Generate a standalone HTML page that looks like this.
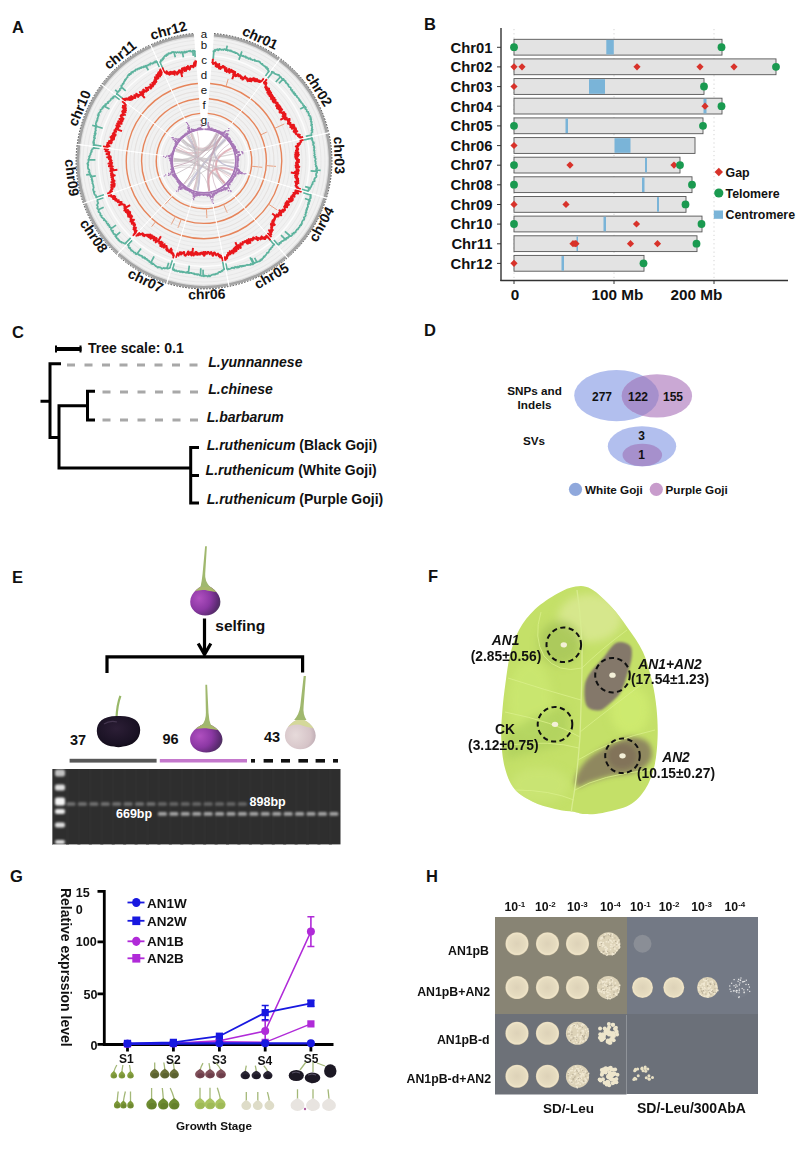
<!DOCTYPE html>
<html><head><meta charset="utf-8"><style>
html,body{margin:0;padding:0;background:#fff;}
svg{display:block;}
text{font-family:"Liberation Sans", sans-serif;fill:#111;}
.pl{font-size:16.5px;font-weight:bold;}
.b15{font-size:14.8px;font-weight:bold;}
.b14{font-size:14px;font-weight:bold;}
.b13{font-size:13px;font-weight:bold;}
.b12{font-size:12px;font-weight:bold;}
.b153{font-size:15.3px;font-weight:bold;}
.b124{font-size:12.4px;font-weight:bold;}
.b117{font-size:11.7px;font-weight:bold;}
.b138{font-size:13.8px;font-weight:bold;}
.bi138{font-size:13.8px;font-weight:bold;font-style:italic;}
.b155{font-size:15.5px;font-weight:bold;}
.b123{font-size:12.3px;font-weight:bold;}
.b135{font-size:13.5px;font-weight:bold;}
.r11{font-size:11.5px;}
.b145{font-size:14.5px;font-weight:bold;}
.b126{font-size:12.6px;font-weight:bold;}
.b135{font-size:13.5px;font-weight:bold;}
.bi14{font-size:14px;font-weight:bold;font-style:italic;}
.b125w{font-size:12.5px;font-weight:bold;fill:#fff;}
</style></head><body>
<svg width="800" height="1156" viewBox="0 0 800 1156">
<rect width="800" height="1156" fill="#fff"/>
<path d="M213.7 37.9A123.5 123.5 0 0 1 277.2 61.6L223.6 134.4A33 33 0 0 0 206.6 128.1Z" fill="#f1f1f1"/>
<path d="M278.1 62.2A123.5 123.5 0 0 1 324.3 133.2L236.2 153.6A33 33 0 0 0 223.8 134.6Z" fill="#f1f1f1"/>
<path d="M324.6 134.3A123.5 123.5 0 0 1 322.3 196.3L235.6 170.4A33 33 0 0 0 236.2 153.9Z" fill="#f1f1f1"/>
<path d="M322 197.3A123.5 123.5 0 0 1 285.1 254.2L225.7 185.9A33 33 0 0 0 235.5 170.7Z" fill="#f1f1f1"/>
<path d="M284.2 254.9A123.5 123.5 0 0 1 228.8 282L210.6 193.3A33 33 0 0 0 225.4 186.1Z" fill="#f1f1f1"/>
<path d="M227.7 282.2A123.5 123.5 0 0 1 168.6 279.3L194.5 192.6A33 33 0 0 0 210.3 193.4Z" fill="#f1f1f1"/>
<path d="M167.6 279A123.5 123.5 0 0 1 120.4 251.9L181.7 185.3A33 33 0 0 0 194.3 192.5Z" fill="#f1f1f1"/>
<path d="M119.6 251.2A123.5 123.5 0 0 1 87.7 202.5L172.9 172.1A33 33 0 0 0 181.5 185.1Z" fill="#f1f1f1"/>
<path d="M87.3 201.5A123.5 123.5 0 0 1 81.5 145.5L171.3 156.9A33 33 0 0 0 172.8 171.8Z" fill="#f1f1f1"/>
<path d="M81.6 144.4A123.5 123.5 0 0 1 104.7 87.5L177.5 141.4A33 33 0 0 0 171.3 156.6Z" fill="#f1f1f1"/>
<path d="M105.4 86.7A123.5 123.5 0 0 1 151.9 49L190.1 131.1A33 33 0 0 0 177.7 141.1Z" fill="#f1f1f1"/>
<path d="M152.9 48.6A123.5 123.5 0 0 1 194.2 37.9L201.4 128.1A33 33 0 0 0 190.3 131Z" fill="#f1f1f1"/>
<path d="M206.9 124.1A37 37 0 1 1 201.1 124.1M207.2 120.1A41 41 0 1 1 200.8 120.1M208 110.2A51 51 0 1 1 200 110.2M208.3 106.2A55 55 0 1 1 199.7 106.2M208.6 102.2A59 59 0 1 1 199.4 102.2M209.2 95.2A66 66 0 1 1 198.8 95.2M209.5 91.2A70 70 0 1 1 198.5 91.2M209.8 87.2A74 74 0 1 1 198.2 87.2M210.4 79.3A82 82 0 1 1 197.6 79.3M210.7 75.3A86 86 0 1 1 197.3 75.3M211.1 71.3A90 90 0 1 1 196.9 71.3M211.4 67.3A94 94 0 1 1 196.6 67.3M211.7 63.3A98 98 0 1 1 196.3 63.3M212 59.3A102 102 0 1 1 196 59.3M212.6 52.3A109 109 0 1 1 195.4 52.3M212.9 48.3A113 113 0 1 1 195.1 48.3M213.2 44.4A117 117 0 1 1 194.8 44.4M213.5 40.4A121 121 0 1 1 194.5 40.4" fill="none" stroke="#e0e0e0" stroke-width="0.6"/>
<path d="M207.5 116.6A44.5 44.5 0 1 1 200.5 116.6M212.3 55.8A105.5 105.5 0 1 1 195.7 55.8" fill="none" stroke="#fcfcfc" stroke-width="1.4"/>
<path d="M214 33.9A127.5 127.5 0 0 1 279.6 58.3L277.2 61.6A123.5 123.5 0 0 0 213.7 37.9Z" fill="#dcdcdc"/>
<path d="M214 34A127.4 127.4 0 0 1 279.5 58.4L278 60.5A124.8 124.8 0 0 0 213.8 36.6Z" fill="#a4a4a4"/>
<path d="M214 33.5A127.9 127.9 0 0 1 279.8 58" fill="none" stroke="#333" stroke-width="0.9" stroke-dasharray="1.6 1.4"/>
<path d="M280.5 59A127.5 127.5 0 0 1 328.2 132.3L324.3 133.2A123.5 123.5 0 0 0 278.1 62.2Z" fill="#dcdcdc"/>
<path d="M280.4 59.1A127.4 127.4 0 0 1 328.1 132.3L325.6 132.9A124.8 124.8 0 0 0 278.9 61.2Z" fill="#a4a4a4"/>
<path d="M280.7 58.7A127.9 127.9 0 0 1 328.6 132.2" fill="none" stroke="#333" stroke-width="0.9" stroke-dasharray="1.6 1.4"/>
<path d="M328.5 133.4A127.5 127.5 0 0 1 326.2 197.5L322.3 196.3A123.5 123.5 0 0 0 324.6 134.3Z" fill="#dcdcdc"/>
<path d="M328.4 133.4A127.4 127.4 0 0 1 326.1 197.4L323.6 196.7A124.8 124.8 0 0 0 325.8 134Z" fill="#a4a4a4"/>
<path d="M328.9 133.3A127.9 127.9 0 0 1 326.6 197.6" fill="none" stroke="#333" stroke-width="0.9" stroke-dasharray="1.6 1.4"/>
<path d="M325.9 198.5A127.5 127.5 0 0 1 287.7 257.2L285.1 254.2A123.5 123.5 0 0 0 322 197.3Z" fill="#dcdcdc"/>
<path d="M325.8 198.5A127.4 127.4 0 0 1 287.6 257.1L285.9 255.2A124.8 124.8 0 0 0 323.3 197.7Z" fill="#a4a4a4"/>
<path d="M326.2 198.6A127.9 127.9 0 0 1 287.9 257.5" fill="none" stroke="#333" stroke-width="0.9" stroke-dasharray="1.6 1.4"/>
<path d="M286.8 257.9A127.5 127.5 0 0 1 229.6 285.9L228.8 282A123.5 123.5 0 0 0 284.2 254.9Z" fill="#dcdcdc"/>
<path d="M286.8 257.8A127.4 127.4 0 0 1 229.5 285.8L229 283.3A124.8 124.8 0 0 0 285.1 255.9Z" fill="#a4a4a4"/>
<path d="M287.1 258.2A127.9 127.9 0 0 1 229.6 286.3" fill="none" stroke="#333" stroke-width="0.9" stroke-dasharray="1.6 1.4"/>
<path d="M228.5 286.1A127.5 127.5 0 0 1 167.4 283.1L168.6 279.3A123.5 123.5 0 0 0 227.7 282.2Z" fill="#dcdcdc"/>
<path d="M228.5 286A127.4 127.4 0 0 1 167.5 283.1L168.2 280.6A124.8 124.8 0 0 0 228 283.5Z" fill="#a4a4a4"/>
<path d="M228.6 286.5A127.9 127.9 0 0 1 167.3 283.5" fill="none" stroke="#333" stroke-width="0.9" stroke-dasharray="1.6 1.4"/>
<path d="M166.4 282.8A127.5 127.5 0 0 1 117.7 254.9L120.4 251.9A123.5 123.5 0 0 0 167.6 279Z" fill="#dcdcdc"/>
<path d="M166.4 282.7A127.4 127.4 0 0 1 117.8 254.8L119.5 252.9A124.8 124.8 0 0 0 167.2 280.2Z" fill="#a4a4a4"/>
<path d="M166.3 283.2A127.9 127.9 0 0 1 117.4 255.2" fill="none" stroke="#333" stroke-width="0.9" stroke-dasharray="1.6 1.4"/>
<path d="M116.9 254.1A127.5 127.5 0 0 1 83.9 203.8L87.7 202.5A123.5 123.5 0 0 0 119.6 251.2Z" fill="#dcdcdc"/>
<path d="M117 254A127.4 127.4 0 0 1 84 203.8L86.5 202.9A124.8 124.8 0 0 0 118.7 252.1Z" fill="#a4a4a4"/>
<path d="M116.6 254.4A127.9 127.9 0 0 1 83.5 204" fill="none" stroke="#333" stroke-width="0.9" stroke-dasharray="1.6 1.4"/>
<path d="M83.5 202.8A127.5 127.5 0 0 1 77.5 145L81.5 145.5A123.5 123.5 0 0 0 87.3 201.5Z" fill="#dcdcdc"/>
<path d="M83.6 202.8A127.4 127.4 0 0 1 77.6 145L80.2 145.3A124.8 124.8 0 0 0 86.1 201.9Z" fill="#a4a4a4"/>
<path d="M83.2 202.9A127.9 127.9 0 0 1 77.1 144.9" fill="none" stroke="#333" stroke-width="0.9" stroke-dasharray="1.6 1.4"/>
<path d="M77.7 143.9A127.5 127.5 0 0 1 101.5 85.1L104.7 87.5A123.5 123.5 0 0 0 81.6 144.4Z" fill="#dcdcdc"/>
<path d="M77.8 143.9A127.4 127.4 0 0 1 101.6 85.2L103.7 86.7A124.8 124.8 0 0 0 80.3 144.3Z" fill="#a4a4a4"/>
<path d="M77.3 143.8A127.9 127.9 0 0 1 101.2 84.9" fill="none" stroke="#333" stroke-width="0.9" stroke-dasharray="1.6 1.4"/>
<path d="M102.2 84.2A127.5 127.5 0 0 1 150.2 45.4L151.9 49A123.5 123.5 0 0 0 105.4 86.7Z" fill="#dcdcdc"/>
<path d="M102.3 84.3A127.4 127.4 0 0 1 150.3 45.5L151.4 47.8A124.8 124.8 0 0 0 104.3 85.9Z" fill="#a4a4a4"/>
<path d="M101.9 84A127.9 127.9 0 0 1 150 45" fill="none" stroke="#333" stroke-width="0.9" stroke-dasharray="1.6 1.4"/>
<path d="M151.2 44.9A127.5 127.5 0 0 1 193.9 33.9L194.2 37.9A123.5 123.5 0 0 0 152.9 48.6Z" fill="#dcdcdc"/>
<path d="M151.3 45A127.4 127.4 0 0 1 193.9 34L194.1 36.6A124.8 124.8 0 0 0 152.3 47.4Z" fill="#a4a4a4"/>
<path d="M151.1 44.6A127.9 127.9 0 0 1 193.9 33.5" fill="none" stroke="#333" stroke-width="0.9" stroke-dasharray="1.6 1.4"/>
<path d="M212.6 51.5L213.2 51.3L213.9 51L214.6 50L215.1 51.2L215.8 49.8L216.5 49.5L217.1 49.9L217.8 49.2L218.2 50.4L218.9 50L219.7 48.8L220.3 49.3L220.9 49.3L221.4 50L222.1 49.8L222.8 49.4L223.3 50L224.1 49.2L224.8 49L225.3 49.7L225.8 50.2L226.4 50.1L227.2 49.6L227.6 50.6L228.3 50.3L229 50.1L229.5 50.9L230.2 50.5L230.9 50.3L231.2 51.5L231.9 51.4L232.6 51.3L233 52L233.6 52.3L234.3 52L234.9 52.1L235.3 53.2L236 52.8L236.6 53.2L237.2 53.3L237.6 53.9L238.2 54.1L238.6 54.9L239.2 55.2L239.8 55.4L240.5 55.1L240.9 55.7L241.7 55.3L242.1 56L242.7 56.2L243.5 55.8L243.9 56.6L244.5 56.8L245.3 56.4L245.9 56.6L246 57.9L246.8 57.7L247.4 57.6L248 57.9L248.3 58.8L249 58.8L250 58.1L250.5 58.5L250.7 59.5L251.4 59.3L251.9 59.7L252.4 60.1L253.1 60L253.9 59.9L254.8 59.6L254.8 60.9L255.4 61L256.2 60.9L256.7 61.2L257.5 61L258 61.5L258.8 61.2L259.2 61.9L259.9 61.8L260.2 62.7L260.6 63.1L261.1 63.5L261.5 64.1L262.4 63.8L262.5 64.8L263 65.2L263.7 65.3L264 65.9L264.5 66.4L265.2 66.4L265.6 66.9L265.8 67.8L266.9 67.2L267.1 67.9L267.1 69.2L268.1 68.7L268 70L268.1 70.8L268.8 70.9L268.8 71.9L269.8 71.6M240.6 55.1L241.9 51.4M240.6 55.1L238.9 59.9M226.4 49.7L227.2 45.7M213.9 50.9L213.2 58.9M269 71.2L265.5 76M271.6 70.9L271.4 72.1L272.4 71.8L272.6 72.6L273.7 72.2L274 72.8L274.3 73.4L274.9 73.7L275.4 73.9L276 74.2L276.7 74.4L277.3 74.6L277.8 75L278.8 74.7L279.1 75.3L279.4 76L279.9 76.3L280.5 76.7L280.9 77.1L281.4 77.5L281.6 78.1L281.9 78.8L282.3 79.3L283.6 78.8L283.2 80.1L284.3 79.9L284.6 80.4L284.9 81.1L285.7 81.1L285.6 82.1L285.7 82.8L286.6 82.9L286.9 83.4L287.5 83.7L287.5 84.6L288.5 84.5L288.4 85.4L288.5 86.2L289 86.5L289.2 87.1L290 87.3L290.6 87.6L290.9 88.2L290.7 89.2L291 89.7L291.4 90.2L292.5 90L292.1 91.2L292.4 91.7L293 92L294 92.1L293.4 93.3L293.8 93.8L295.2 93.5L295.4 94.1L295 95.2L295.7 95.4L296.6 95.5L296.9 96.1L296.8 96.9L297.3 97.3L297.9 97.7L298.3 98.1L298.8 98.5L299 99.2L299 99.9L300 100L299.7 100.9L300.5 101.1L301 101.6L300.9 102.4L301.4 102.8L302.1 103.1L302.4 103.6L302.9 104.1L303 104.7L303.1 105.4L304.2 105.5L303.9 106.4L304.9 106.5L305.3 107L305.9 107.4L305.1 108.5L305.5 109.1L306.3 109.3L306.8 109.8L306.8 110.5L306.7 111.2L307.2 111.7L308.3 111.9L307.8 112.8L308.7 113.1L309 113.6L309 114.3L308.6 115.2L309.1 115.6L310 115.9L309.9 116.6L310.7 117L310.3 117.9L311.1 118.2L310.2 119.2L311.3 119.5L311.2 120.2L310.7 121.1L311.1 121.6L311.8 122L311.3 122.8L311.5 123.4L311.2 124.2L312.2 124.5L311.1 125.5L311.9 125.9L312.1 126.5L311.9 127.2L312.3 127.7L311.7 128.6L311.7 129.2L312.6 129.6L311.4 130.6L312.4 130.9L312.3 131.6L312.4 132.2L311.3 133.1L311.4 133.7L311.6 134.3L311.1 135L311.3 135.6L312.2 136M304.6 106.7L300.2 109.1M280.5 76.8L275.8 82M283.1 79.1L278.9 83.4M272.7 72L267.8 78.3M311.6 135L305.8 136.4M312.1 137L311.4 137.8L312.3 138.2L311.5 139L312.4 139.4L312 140.1L312.5 140.7L312.8 141.2L312.7 141.8L313.8 142.3L312.9 143L313.9 143.5L313.4 144.2L312.9 144.9L313.7 145.4L313.9 145.9L314.3 146.5L313.7 147.2L314.5 147.7L314.4 148.3L314 149L314.2 149.6L313.9 150.2L314.6 150.7L314.2 151.4L314.5 152L314.6 152.6L314.2 153.2L314.5 153.8L314.9 154.4L314.6 155L314.1 155.6L314.7 156.2L315.4 156.8L314.5 157.4L315.2 158L315.7 158.6L315.7 159.2L315.4 159.8L315.1 160.4L315 161L315.7 161.7L315.4 162.3L315.8 162.9L315.8 163.5L315.5 164.1L315.4 164.7L316.1 165.3L316.4 166L315.8 166.5L317 167.2L316.6 167.8L317.3 168.5L316.1 169L316.1 169.6L316.2 170.3L317.2 171L316.5 171.5L317.2 172.2L316.9 172.8L316.3 173.4L316 174L316.2 174.6L315.9 175.2L316.6 175.9L316.4 176.5L316.3 177.1L315.5 177.6L314.7 178.1L314.9 178.8L314.2 179.3L314.2 179.9L314.6 180.6L314.7 181.2L313.1 181.6L313 182.1L312.5 182.7L312.6 183.3L312.8 184L311.9 184.4L311.9 185L311.5 185.5L311.3 186.1L311.3 186.7L310.7 187.2L310.4 187.7L310.1 188.3L309.9 188.9L308.4 189.1L308.9 189.8L308.8 190.4L308.2 190.8L307.7 191.3L307.8 192M316.6 170L320.6 170.3M310 187.9L305.1 186.7M316.6 171.4L310.6 170.9M312 138.2L304.1 139.9M307.8 191.1L302 189.4M311.2 194L310.7 194.5L310.6 195.1L310.9 195.8L310.8 196.5L310 196.9L310.9 197.8L310.4 198.3L309.8 198.8L309.4 199.3L309.8 200.1L310 200.8L308.9 201.1L309.5 201.9L308.5 202.2L308.2 202.8L309.1 203.8L307.9 204L307.7 204.6L307.9 205.3L307.7 205.9L308.2 206.8L307.5 207.2L307.5 207.9L306.7 208.2L307.1 209.1L307.1 209.8L306.1 210L306.5 210.9L306.1 211.4L306.5 212.3L305.7 212.6L306 213.4L305.7 214L305.1 214.4L305.8 215.5L305.4 216L305.1 216.6L304.5 217L303.8 217.3L304.4 218.4L304 218.9L304.2 219.7L303.4 220L302.8 220.4L302.5 220.9L302.3 221.5L302 222.1L301.8 222.8L302 223.6L301.6 224.1L300.8 224.3L301.1 225.3L300 225.4L299.7 225.9L299.7 226.7L299.3 227.2L298.9 227.7L298.3 228.1L298.1 228.7L298 229.4L296.9 229.4L296.6 230L296.4 230.6L295.9 231L295.5 231.5L295.6 232.4L294.8 232.5L293.7 232.5L294 233.6L293 233.6L292.2 233.7L292.5 234.8L292 235.2L291.6 235.7L291.1 236.1L290.1 236.1L289.2 236.2L289.1 236.9L288.3 237L288.2 237.8L287.2 237.7L286.5 237.9L286.6 238.9L285.5 238.7L285.8 239.8L284.5 239.4L284.1 239.9L283.8 240.5L283.1 240.7L282.7 241.1L281.9 241.2L281.4 241.6L280.9 241.9L281 242.9L280 242.7L279.3 242.9L279.5 244L279.1 244.5L278.5 244.8L277.2 244.2L276.9 244.8M309.6 200.3L304.9 198.5M285.3 239.4L281 235.2M290.2 236L284.9 231.4M311 195.2L303.3 192.8M277.9 244.5L273.9 240M275.3 244.4L274.3 244.2L273.9 244.6L273.7 245.3L273.1 245.5L272.6 245.9L272.6 246.8L272.2 247.3L271.6 247.4L271.1 247.8L270.9 248.6L270.7 249.3L269.9 249.3L269.5 249.8L269.2 250.4L269 251.1L268.7 251.7L268.5 252.5L268 252.8L267.1 252.6L266.8 253.4L266.5 253.9L266.1 254.5L265.8 255.2L265.3 255.5L264.9 256.1L264.7 256.9L263.7 256.5L263.5 257.4L263.2 258L262.7 258.4L262.3 258.9L262 259.7L261.1 259.4L261 260.4L260.1 260.1L260 261.2L259.4 261.4L258.6 261.3L258.1 261.7L257.4 261.8L256.9 262.2L256.2 262.2L255.7 262.6L255.1 262.7L254.6 263.2L254 263.4L253.3 263.3L253.1 264.3L252.3 264.2L251.8 264.5L250.7 263.7L250.6 264.8L249.8 264.7L249.2 264.9L248.5 264.8L248 265.2L247.1 264.6L246.6 265L246 265.2L245.5 265.6L244.9 265.9L244.1 265.5L243.7 266.2L242.8 265.6L242.5 266.3L241.6 265.8L241.3 266.6L240.3 265.8L239.8 266L239.5 267L238.9 267.3L238 266.4L237.7 267.6L236.8 266.8L236.4 267.6L235.6 266.8L235.1 267.5L234.4 267.2L234.1 268.4L233.3 267.8L232.6 267.7L232.1 268.1L231.5 267.9L231 268.5L230.4 268.8L229.8 269L229.3 269.2L228.5 268.8L228.1 269.4L227.5 269.6L226.7 268.7L226.1 269M256.9 262.2L254.6 257.8M253.1 263.7L250.1 257.4M254 263.4L251.4 258M274.2 244.8L269 238.7M227 269.2L225.8 263.3M225 268.3L224.5 269.1L224 269.5L223.4 269.6L222.9 270.2L222.4 271L221.7 270.6L221.2 271.4L220.7 271.9L220.1 272.2L219.4 271.8L218.8 272.2L218.3 272.5L217.8 273.8L217.1 273.5L216.6 274L215.9 273.6L215.4 274.5L214.7 274.7L214.1 274.1L213.5 274.6L212.8 274.5L212.2 274.7L211.6 275.1L211 275.3L210.4 276.1L209.8 276.4L209.1 275.4L208.5 275.6L207.9 276.7L207.2 276L206.6 275.8L206 275.8L205.3 276L204.7 275.4L204.1 276.4L203.4 276.2L202.8 275.6L202.2 276L201.5 275.9L200.9 275.7L200.3 275.1L199.7 275.4L199.1 274.8L198.5 274.3L197.8 274.1L197.2 274.9L196.6 274.4L196 273.9L195.3 274.4L194.7 274.3L194.2 273.3L193.5 273.8L192.9 273.5L192.3 273.2L191.7 272.9L191.1 273.1L190.5 272.8L189.8 272.9L189.2 273.1L188.6 272.6L188 273L187.5 271.8L186.8 272.1L186.1 272.8L185.5 272.3L184.9 272.4L184.3 272L183.6 272.3L183.1 271.7L182.4 272.4L181.9 271.4L181.2 271.9L180.7 271.3L179.9 272L179.5 271.1L178.8 271.2L178.2 271.2L177.4 271.5L176.9 271.1L176.5 270.3L175.8 270.5L175 270.9L174.6 269.9L174.2 269.3L173.3 270.1L172.8 269.5L172.4 268.8L172 267.9M200.5 275.3L200.8 268.3M203.1 275.7L203.1 269.7M188.4 272.6L189.3 265.6M224.1 269.4L222.7 261.6M172.6 268.9L174.2 263.2M170.9 268.1L170.6 267.2L169.6 268.2L168.9 268.2L168.2 268.6L167.5 268.6L167 268.2L166.3 268.3L165.7 268L164.9 268.6L164.4 268.1L163.8 267.9L162.9 268.3L162.1 268.8L161.5 268.6L161.1 267.8L160.6 267.4L159.9 267.4L159.3 267.4L158.8 266.8L157.8 267.6L157.4 266.8L156.8 266.8L156.4 266.1L155.7 266.1L155.2 265.5L154.7 265.1L154.3 264.5L153.7 264.4L153.3 263.7L152.4 264.1L152.3 263L151.3 263.5L151.1 262.6L150.4 262.6L150 261.9L149.2 262L149.1 260.9L148.5 260.7L148.1 260.2L147.3 260.4L147.1 259.4L146.7 258.8L146 258.9L145.2 258.9L145.2 257.7L144.3 258.1L144.2 257.1L143.1 257.6L142.4 257.6L142.3 256.5L142 255.8L141.1 256L140.8 255.4L140 255.5L139.3 255.4L139.2 254.5L138.3 254.6L138.1 253.9L137.4 253.7L136.2 254.3L135.6 254L135.6 253L135.2 252.5L134.2 252.7L133.7 252.4L133.5 251.6L132.9 251.3L132.3 251.1L132.1 250.4L131.1 250.6L131 249.7L130.4 249.5L130.4 248.5L130.1 247.8L129.1 248.1L128.7 247.5L128.5 246.8L128.9 245.4L128.2 245.3L127.6 245L127.8 243.8M136.9 254.1L141 248.4M166.8 268.4L168.7 262.7M150.9 262.6L154.1 256.4M169.9 267.9L172.4 260.3M128 244.8L132 240.4M126.6 243.8L125.7 243.7L124.9 243.7L124.2 243.5L123.8 243.1L123.1 242.8L122.6 242.5L121.6 242.6L121.5 241.8L120.5 241.9L119.9 241.5L119.7 240.8L118.9 240.7L118.9 239.9L118.1 239.8L118 239L117.7 238.4L116.7 238.4L116.6 237.7L116.1 237.3L116.4 236.1L115.3 236.3L115.4 235.4L115.3 234.7L115 234.1L113.9 234.1L113.4 233.7L113.3 233L113 232.4L112.6 231.9L113.1 230.7L111.8 230.9L111.6 230.4L111.2 229.8L110.9 229.3L111.1 228.4L110.9 227.7L110.4 227.3L109.5 227.1L109.7 226.3L108.9 226L109.3 225L108 225.1L107.7 224.5L108.1 223.5L107 223.5L106.7 222.9L106.5 222.4L106.6 221.5L105.6 221.4L105.6 220.7L105.2 220.2L103.9 220.2L104.4 219.2L104 218.7L103.3 218.4L102.6 218L102.3 217.5L101.5 217.2L101.3 216.6L101.7 215.6L100.5 215.5L100.4 214.9L100.2 214.3L100.5 213.4L99.9 213L99.7 212.4L98.8 212.1L98.4 211.6L98.6 210.8L99 209.9L98.3 209.5L98 208.9L97.3 208.5L97.2 207.9L97.9 206.9L97.7 206.3L97.5 205.7L96.9 205.3L97.3 204.4L98.1 203.4L98.1 202.8L98 202.1L97.4 201.7L97.4 201L97.4 200.4L97.4 199.7L98.4 198.7M111.1 228.6L116 225.1M98.2 209.7L103.7 207.2M115.6 236L120.2 232.1M125.1 243.7L130.7 237.9M97.8 199.8L103.4 197.7M97.1 198.1L96.2 197.7L96.1 197.1L96 196.5L96 195.9L95.9 195.2L94.8 194.9L94.5 194.4L94.3 193.8L94.2 193.1L93.8 192.6L94.6 191.7L93.8 191.3L93.3 190.8L93.4 190.1L93 189.6L93.2 188.9L93.3 188.2L93.8 187.4L93.6 186.8L93.2 186.3L93.5 185.6L93.1 185L93.1 184.4L92.7 183.9L92.3 183.3L92.5 182.6L92.5 182L92.7 181.3L91.9 180.9L92.4 180.1L91.5 179.6L92 178.9L91.8 178.3L91.9 177.7L91.1 177.2L90.6 176.6L91.2 175.9L91.1 175.3L89.6 174.9L90.2 174.1L89.5 173.6L89.9 172.9L89.1 172.4L88.7 171.8L89.6 171L89.4 170.4L89.3 169.8L88.4 169.2L88.5 168.6L87.8 168L88.1 167.4L87.9 166.7L87.9 166.1L88.3 165.4L87.6 164.8L88.3 164.2L87.3 163.6L87.9 162.9L88.4 162.3L88.5 161.6L88.4 161L88.4 160.4L88.3 159.7L89 159.1L88.9 158.5L89.2 157.9L89.6 157.2L89 156.6L89.9 156L89.7 155.4L90.3 154.8L90.7 154.2L90.4 153.5L90.9 152.9L91.1 152.3L91.9 151.8L91.2 151.1L91.4 150.5L92.1 149.9L92.1 149.3L93 148.8L94 148.3L93.5 147.6L93.6 147M90.1 174.3L86.2 174.8M90.9 176.6L95.8 175.9M88.4 159.7L95.4 159.8M96.5 197.2L104 194.7M93.6 147.8L99.6 148.5M94 146.1L93.5 145.4L93.6 144.8L93.8 144.2L94.2 143.7L93.1 142.9L94.1 142.4L93.3 141.7L94 141.2L93.7 140.5L94.4 140L94.1 139.3L94.2 138.7L95 138.3L93.9 137.4L95 137L94.3 136.2L94.2 135.6L95.1 135.2L95.5 134.6L94.5 133.7L95.8 133.5L95 132.6L95.5 132.1L95.1 131.3L95.7 130.9L96 130.3L95.5 129.5L95.3 128.8L95.8 128.4L96 127.8L95.5 127L95.4 126.3L95.4 125.6L96.6 125.4L95.9 124.5L95.8 123.8L95.8 123.1L96.3 122.6L96.4 122L96.3 121.3L97.2 121L97 120.2L97.6 119.8L97.1 118.9L97.8 118.5L97.6 117.8L97.9 117.2L98.3 116.7L98.4 116.1L97.7 115.1L99.1 115L98.4 114L98.7 113.5L98.9 112.9L99.7 112.5L99.9 111.9L100.7 111.6L100.7 110.9L100.4 110.1L100.7 109.5L101.5 109.2L102.1 108.8L102.7 108.4L102.3 107.5L103.3 107.3L103.2 106.5L103.8 106.2L104.1 105.6L105.4 105.7L105.9 105.2L105.3 104.2L106.5 104.2L106.8 103.6L107.4 103.2L108.3 103.1L107.7 102L108.9 102L109 101.3L109.7 101L110.2 100.6L110.7 100.3L110.6 99.5L111 99L111.5 98.6L112.6 98.6L112.4 97.7L113.6 97.8L113.3 96.9L113.6 96.4L114.6 96.3L115.5 96.2L115.1 95.1M96 126.2L102.7 128.3M96 126.4L92.2 125.2M104.2 106.2L109.5 109M93.5 144.9L101.4 146.1M114.9 96.1L119.7 99.6M116.6 95.1L116.8 94.5L116.8 93.7L117.1 93.2L117.3 92.6L117.9 92.3L118 91.6L118.9 91.5L119 90.8L119.3 90.3L120 90.1L119.8 89.1L120.3 88.8L120.9 88.5L121.3 88L121.1 87L121.8 86.8L121.3 85.6L121.9 85.3L122.3 84.9L122.8 84.4L122.7 83.5L123.7 83.6L123.8 82.9L123.9 82.1L124.2 81.5L124.5 80.9L125.2 80.7L125 79.6L125.8 79.6L126.1 79L126.3 78.3L126.8 77.9L127.2 77.4L127.7 77.1L127.5 76L128 75.5L128.3 74.9L129.4 75.2L129.2 74.1L129.8 73.8L130.9 74.1L131.1 73.4L131.1 72.4L131.6 72L132.9 72.6L132.9 71.6L133.4 71.2L134 71L134.6 70.7L135.4 70.8L135.4 69.7L135.9 69.3L136.8 69.4L137.6 69.6L137.8 68.7L138.3 68.3L139.4 68.8L139.9 68.4L140.1 67.7L141.1 68.1L141.2 67.1L141.9 67.1L142.8 67.3L143.6 67.3L143.6 66.3L144.8 66.9L144.9 66L145.8 66.3L146.1 65.5L146.8 65.6L147.5 65.6L148.1 65.4L148.3 64.5L149.1 64.6L149.9 64.8L150.2 64.1L150.4 63.3L151 63.1L152.1 63.8L152.6 63.4L153.2 63.3L153.4 62.4L154.1 62.4L154.9 62.7L155 61.4L156.1 62.2L156.1 61L157.2 61.9L157.5 61M121.2 86.9L125.7 90.9M118.2 92.3L115.1 89.8M145.8 66L148.4 70.2M117.2 94.2L123.5 99.1M156.7 61.4L159.3 66.8M159.4 62.8L159.8 62.5L160.2 61.8L160.8 61.8L160.8 60.2L161.7 60.7L162.1 60.2L162.3 58.9L163.1 59.3L163.1 57.8L163.9 58.1L164 56.7L164.6 56.5L165 55.7L165.6 55.7L166.4 56L166.5 54.4L167.4 55.1L167.9 54.8L168.2 53.5L168.7 53.1L169.5 53.6L170 53.1L170.8 53.5L171.3 53L171.7 52.2L172.4 52.3L172.9 51.8L173.6 52L174.3 52.3L174.9 52.2L175.5 52L176.4 52.9L176.9 52.4L177.5 52.1L178.1 52.3L178.9 52.7L179.4 52.1L180 52.1L180.8 52.8L181.3 52.4L181.8 51.9L182.5 52.2L183.2 52.6L183.8 52.7L184.3 51.5L185.1 52.7L185.6 52.1L186.1 51.4L186.8 52L187.4 51.5L188 51.4L188.5 51L189.2 51.3L189.7 50.9L190.3 50.6L191.1 51.7L191.7 51.5L192.3 51.4L192.8 50.7L193.4 50.8L194 50.7L194.7 50.9L195.3 51.9M182.4 52.4L183.4 57.3M174 52.4L175.3 57.2M192.8 50.9L193.3 55.9M159.9 62.2L163.2 69.5M194.7 51.1L195.2 57.1" fill="none" stroke="#5db39e" stroke-width="1.7" stroke-linejoin="round"/>
<path d="M211.8 61.6L212.3 62.2L212.8 63.1L213.2 64L213.8 63.6L214.4 62.9L215 63.2L215.6 62.3L215.7 66.2L216.5 63.7L216.9 64.7L217.2 67L218 64.6L218.4 65.8L219.2 64L219 68.5L219.8 67L220.4 66.7L220.5 68.9L221.4 67.1L221.8 67.7L222.7 65.9L223.2 66L223.5 67.5L224 67.6L224.7 66.7L224.9 68.5L225 70.1L225.3 71.1L226.5 68.1L226.6 70.2L226.7 71.9L227.3 71.5L227.9 71.4L229.1 68.9L229.5 69.3L229.1 72.5L229.5 72.9L230.5 71.4L231.5 69.9L231.7 71.2L231.9 72.1L232.8 70.9L233.3 71.3L233.8 71.3L233.2 74.7L234.6 72.1L235.2 72L234.6 75.2L235.3 74.7L235.3 76.3L236.3 75L236.5 76L237.8 73.9L238.3 74.1L238.2 75.7L238.5 76.2L239.3 75.6L240.1 75.2L240 76.6L240.5 76.7L241.2 76.4L240.9 78.3L241.9 77.3L242.5 77.3L242.7 77.9L242.5 79.6L243.4 78.9L245.2 76.4L245.1 77.8L245.3 78.4L246.3 77.7L246.3 78.7L246.9 78.6L247.6 78.4L247.2 80.2L247.5 80.8L247.9 81.1L249.9 78.6L250.5 78.5L249.7 81.1L250.4 80.8L252.3 78.6L251.2 81.4L253.8 78.1L254 78.8L253.7 80.4L255.2 78.9L254.7 80.7L255 81.3L257 79L257.1 79.8L256.8 81.2L258.2 80.2L258.5 80.6L258.4 81.8L259.8 80.6L259.5 82.1L260.3 81.8L261.5 81.1L262.3 80.9L263.5 80.2M212.6 62.8L212.9 58.8M262 80.8L263.8 78.4M234.1 73.6L232.2 79.2M263.9 81.2L264.2 81.6L263.9 82.9L264.5 83L264.6 83.8L266.2 82.6L266.4 83.3L265.8 84.9L265.8 85.7L265.2 87.3L266.5 86.5L266.3 87.5L265.9 88.9L266.9 88.5L267.8 88.2L266.7 90.3L269 88.5L269 89.3L268.5 90.7L267.3 92.7L269.8 90.8L270 91.3L270 92.1L268.4 94.5L271.1 92.5L270.4 93.9L270.1 95L269.6 96.2L271.9 94.6L270.9 96.3L272.4 95.5L271 97.6L273 96.4L271.1 98.9L272.5 98.3L272.8 98.7L274.5 97.9L272.6 100.2L274.3 99.4L272.9 101.3L275.6 99.7L273.4 102.2L275.6 101L274.4 102.6L275.9 102L275.6 103L276.6 102.8L277.5 102.8L277.4 103.5L276.5 104.8L276.1 105.8L278.4 104.6L276.8 106.5L279.2 105.3L279.5 105.7L277 108.2L280.1 106.6L280.4 107L278.4 109L279.1 109.1L281.1 108.4L279.4 110.1L281.2 109.5L282.2 109.5L279.5 111.9L279.6 112.4L281 112.1L281.5 112.4L281.5 112.9L283.7 112.1L284.3 112.4L283.7 113.4L283 114.4L283.2 114.9L285.6 114L282.6 116.3L285.5 115.3L283.9 116.7L283.6 117.4L283.8 117.9L286 117.3L286.6 117.6L284.8 119.1L285.1 119.5L287 119.1L287.2 119.5L289.6 119L287.6 120.5L289.5 120.1L289.4 120.8L288 122L289.2 122L289.5 122.4L287.9 123.7L290.6 123.1L289.6 124.1L289.8 124.5L290 125L291.5 124.9L293.5 124.7L294 125.1L290.3 127.1L292.8 126.6L294.4 126.6L294.3 127.2L291.8 128.7L295.2 128L295.8 128.4L295.3 129.1L296 129.4L294.1 130.6L293.7 131.3L293.7 131.8L297.3 131.2L295.1 132.5L296.2 132.7L295.5 133.4L296 133.9L296.1 134.3L297.2 134.6L299 134.6L299.8 135L298 136L298.8 136.4L298.9 136.9L300.5 137L300.1 137.7L301.1 138L300.2 138.8M264.4 82.3L266.8 79.1M300.2 137.7L303.1 137M285.6 117L280.3 119.8M300.9 139.5L301.6 139.9L300.6 140.7L300.9 141.2L301.2 141.7L300.3 142.4L300.3 142.9L297.7 144L299.8 144.1L298.2 144.9L298.8 145.4L295.8 146.4L298.2 146.5L297.2 147.2L297.4 147.7L296.7 148.3L296.8 148.8L298.2 149.1L297.9 149.7L296 150.4L297.6 150.8L296.4 151.4L297.7 151.8L295.5 152.5L298.4 152.8L295.5 153.5L297.1 153.9L295.2 154.6L298.9 154.8L297.4 155.4L295.2 156.1L297.9 156.4L295.9 157L295.4 157.5L295.6 158L297.5 158.5L296.1 159L297.7 159.5L299.1 160L296.9 160.5L297.9 161L298.4 161.6L299 162.1L296.1 162.5L296.2 163.1L296.1 163.6L297.9 164.1L296.7 164.6L298 165.1L295.6 165.5L295.7 166L299.3 166.8L298.8 167.3L295.8 167.6L296.4 168.1L297.2 168.7L298.3 169.3L296.6 169.7L298.7 170.4L298.4 170.9L298.4 171.4L295.4 171.6L294.9 172L296.5 172.7L298.3 173.5L297.3 173.9L295.4 174.1L297.6 174.9L296.2 175.3L295 175.6L296.9 176.4L297.3 177L295.3 177.2L295.6 177.7L298.1 178.7L296.3 178.9L298 179.8L296.8 180.1L298.3 180.9L298.2 181.4L296.4 181.5L295.2 181.8L298.4 183.1L295.8 183L297.2 183.9L296 184.1L296.7 184.8L296.5 185.3L295.6 185.6L296.2 186.3L297.8 187.3L298 187.9L296.5 188L296 188.5M299.7 140.6L303.6 139.7M297.9 188.2L300.7 189.1M296.7 173.4L290.8 172.6M299.5 190.4L298.7 190.7L295.5 190.3L296.5 191.2L295.3 191.3L297.6 192.7L298.1 193.4L295.3 193L293.4 192.9L294.3 193.8L294.8 194.5L294.5 195L292.7 194.9L294 195.9L294.5 196.7L291.9 196.2L291.3 196.5L291.4 197.1L290.9 197.5L292.8 198.9L291.5 198.9L292.7 200L288.8 198.8L291.7 200.7L291.7 201.3L289.8 201L290 201.7L288.1 201.3L286.8 201.3L288.6 202.7L286.3 202.2L287.6 203.4L288.9 204.7L285.4 203.4L286.2 204.4L287.5 205.7L285.2 205L284.8 205.4L287.1 207.3L285.2 206.8L284.1 206.8L284.7 207.7L284.8 208.4L285 209.1L284.6 209.4L284.9 210.2L282.9 209.6L283.9 210.8L282 210.2L283.5 211.8L282.1 211.5L279.5 210.4L279.7 211.1L280 212L281.2 213.3L280.1 213.2L278.9 213L281.2 215.2L279.5 214.7L278.6 214.6L277.8 214.7L276.6 214.4L278.4 216.4L277.9 216.6L276.4 216.2L275.9 216.4L275.5 216.8L274.8 216.8L274.8 217.5L275.1 218.4L274.5 218.5L274.8 219.4L273.8 219.3L274.3 220.3L273.4 220.2L272.7 220.2L273.7 221.8L272.3 221.2L272.2 221.8L274.8 224.8L274.2 225L273.7 225.3L271.1 223.6L271.4 224.5L270.9 224.7L272.3 226.8L272.1 227.3L271.1 227.1L271.4 228.1L272.7 230.1L271.1 229.3L271.8 230.8L271.9 231.7L271.5 232L269.1 230.2L269.9 231.9L271.3 234.2L271 234.7L270.5 235L269.6 234.8L267.9 233.7L269.9 236.7M297.8 190.7L301.6 191.9M269.5 235L271.4 237.2M277 217.2L272.2 213.5M269.3 237.4L269.4 238.3L266.3 235.5L267.2 237.5L265.8 236.7L265.5 237.1L265.6 238.1L264.2 237.2L265.1 239.1L264.3 239.1L261.6 236.4L262.6 238.6L262 238.7L260.6 237.7L260.1 238L260.5 239.4L259.1 238.3L258.2 237.9L258.1 238.6L256.3 236.9L257.9 240.2L256.4 238.9L255.7 238.8L254.7 238.3L253.6 237.5L253.1 237.7L253.3 238.8L253.3 239.8L252.3 239.1L251.6 239L252 240.6L250.5 239.1L250.6 240.3L250.3 240.8L248.8 239.1L250.3 242.8L249.4 242.2L249.2 242.9L247.1 240.1L246.8 240.6L247.8 243.7L247.1 243.4L245.4 241.1L244.9 241.2L244.4 241.4L244.3 242.3L243.8 242.5L243.3 242.5L242.6 242.1L242.7 243.6L242.6 244.6L241.8 244.1L241.2 243.8L240.4 243.3L240.7 245.3L240.4 245.8L240.7 248L239.1 245.3L238.4 245.1L238.6 246.7L238.6 248.3L238.4 249.1L236.7 246.1L236.9 248.2L235.8 246.7L236.6 250.4L236.4 251.1L234.6 247.7L235.4 251.6L234.8 251.4L233.5 249.1L233.3 250.1L233.6 252.9L233.2 253.4L231.8 250.6L231.5 251.3L231.2 252.1L231 253.3L229.8 251.2L230.2 254.3L229.5 253.8L229 254.2L228.1 252.9L228.3 255.6L227.7 255.5L227 255L227.2 258.1L226.8 258.5L225.9 257.2L225.8 259.4L224.8 257.2L224.7 259.5L224.1 259.4M267.9 237L270.5 240M224.6 257.9L225.2 260.9M237.6 247.7L235.4 242.1M223.2 259.2L222.7 259.4L221.8 257.8L220.9 255.6L220.3 255.3L220.1 257.5L219.1 254.7L218.8 256.2L217.9 253.6L217.5 254.5L217 254.2L216.5 254.4L216.1 255.4L215.4 253.9L214.7 252.4L214.2 252.5L213.7 253L213.4 255.2L212.9 255.7L212.4 255.2L211.6 252.6L211.1 252L210.6 252.8L210.2 253.2L209.7 254.2L209.1 252.7L208.6 252.1L208.1 252L207.6 251.9L207.1 253.7L206.6 253.3L206.1 253.7L205.6 252L205.1 252.1L204.6 255.4L204.1 255.8L203.6 252L203 254.5L202.5 252.7L202 253.8L201.5 252.6L201 253.6L200.5 252.8L199.9 254.6L199.5 253.4L199 253.3L198.4 254.4L197.9 254.7L197.5 253L196.8 254.7L196.5 251.9L195.8 254.5L195.5 251.9L194.9 253.4L194.3 254.4L193.6 255.5L193.3 253.4L192.9 252.9L192.5 252.1L191.5 255.5L191.1 255L191 252L190.1 254.4L189.7 253.5L189.4 252.4L188.4 254.9L188.5 251.6L188 251.6L187 254L186.4 254.5L185.6 255.7L185.2 255L184.6 255.3L184.3 254.4L184.2 252.2L183.7 251.9L183.1 252.4L182.2 253.8L181.7 253.8L181 254.6L181 252.2L180.3 252.9L180 252.2L178.5 255.6L178.3 254.2L178 253.5L177 254.9L176.9 253.3L176.4 253.2M222.1 257.3L222.9 261.3M176.6 254.9L175.8 257.8M192.3 253.8L193 247.9M174.3 257.3L174.3 255.4L173.7 255.5L173.1 255.6L173.2 253.4L172.7 253.3L172.4 252.5L171.5 253.5L171.5 251.8L171.7 249.7L170.3 252.2L171.1 248.6L169.1 252.1L169.1 250.7L168.5 250.7L167.9 250.9L167.9 249.6L166.9 250.5L167.3 248.2L166.2 249.5L166.6 247.4L166.6 245.9L165.8 246.5L165.4 246.2L164.1 247.7L163.6 247.6L164.6 244.2L163.6 245.1L162.9 245.4L161.7 246.7L161.6 245.7L162.6 242.7L160.3 245.9L160.8 243.9L161.4 241.7L160.6 242L159.3 243.4L159.3 242.5L159.3 241.4L158.8 241.3L158.6 240.5L157.4 241.5L157.3 240.8L155.7 242.4L156.2 240.6L156.8 238.7L156.5 238.2L156 238L153.9 240.5L153.7 239.9L154 238.5L154.4 236.9L153 238.1L153.5 236.4L152 237.8L150.7 238.8L150.8 237.7L151.9 235.3L149.6 237.6L150.7 235.3L148.7 237.1L150 234.5L147.9 236.5L148.3 235.1L148 234.6L146.6 235.6L146.6 234.7L145.9 234.9L144.1 236.2L144.6 234.8L143.4 235.5L142.8 235.4L143.2 234L142.9 233.7L142.5 233.3L140.9 234.3L139.9 234.7L139.9 233.8L137.9 235.4L139.2 233.1L136.2 235.6L136.7 234.2M174.4 254.6L173.2 258.4M137.8 234L135.8 236.2M157.9 241.4L160.9 236.2M136.9 232.7L134.2 234.8L134.2 234L136.6 230.7L134.8 231.8L135.8 230L134.6 230.5L135.6 228.7L135.9 227.7L133.5 229.2L134.7 227.4L133.7 227.6L134.5 226.1L135.1 224.9L134.3 224.9L133.4 225L134.5 223.4L133.6 223.5L133.6 222.8L131.8 223.7L132.1 222.7L131.8 222.3L133.9 219.8L132.6 220.2L130.4 221.4L131.7 219.7L131.5 219.2L130.6 219.3L131.6 217.8L130.6 217.9L132.1 216.2L129.9 217.2L130.8 215.9L131 215.2L128.2 216.6L128.9 215.4L128.1 215.4L130.1 213.3L127.9 214.3L130.2 212.1L129.4 212L129.4 211.4L126.8 212.6L128 211.1L125.9 212L127.9 210L126.3 210.5L125.1 210.6L124.3 210.5L125.1 209.4L125.8 208.4L126.6 207.4L124.4 208.1L125.9 206.6L124.4 206.9L124.8 206.1L124.3 205.8L124.8 205L124 204.8L123.6 204.5L122.7 204.4L122.4 204L119.2 205.1L120.8 203.7L120.8 203.1L121.6 202.1L121 201.9L119.8 201.9L117.9 202.2L117.9 201.7L117.2 201.4L118.7 200.2L116.9 200.4L115.3 200.5L116.3 199.5L116.4 198.9L114.8 199L113.2 199.1L113.1 198.6L115.3 197.1L115.2 196.6L112.3 197.2L114 195.9L111 196.5L110.9 196L109.9 195.8L110.9 194.8L108.5 195.1M135.6 233L132.9 235.9M110.8 195L108 196M124.9 208.2L130.1 205.1M109.7 193.7L109.5 193.2L109.3 192.7L112 191.2L110.2 191.3L110.9 190.5L111.1 189.8L112.6 188.8L111.5 188.6L111.8 188L114.2 186.7L111.2 187.1L114.6 185.6L113.7 185.3L114.6 184.5L111.2 184.9L114.6 183.5L114.2 183.1L113.6 182.7L111.6 182.6L111.4 182.1L114.6 180.9L112.4 180.9L113.3 180.2L113.5 179.6L111.9 179.4L113.1 178.6L113.1 178.1L112.8 177.7L111.4 177.4L111.6 176.8L113.5 176L114.7 175.3L111.1 175.4L111.8 174.7L112.8 174.1L110.9 173.8L111.3 173.3L112.2 172.6L111.5 172.2L111.9 171.6L110.4 171.3L113.1 170.5L110.5 170.2L111.8 169.6L113 169L111.2 168.6L110.5 168.2L111.6 167.6L111.3 167.1L112.8 166.5L108.9 166.2L109.3 165.7L111.6 165.1L111.6 164.5L111.7 164L108.5 163.6L112.2 163L111.6 162.5L110.5 162L109.9 161.5L110.5 161L111.6 160.5L111.2 160L109.2 159.4L108.9 158.9L109.6 158.4L111 157.9L107.2 157.3L109.9 156.9L110.6 156.4L109.1 155.8L108.9 155.3L109 154.8L106.5 154.1L109.1 153.7L109.1 153.2L109.2 152.7L109.4 152.2L105.6 151.3L105.9 150.8L106.2 150.3L107.7 149.9L108.2 149.4L107.8 148.8M111 192.6L107.2 193.8M106.8 149.4L103.8 149M111.5 170.4L117.4 169.8M107.9 148L104.7 147L107.8 146.9L108.3 146.4L109.6 146.1L107 145.2L107.2 144.7L108.4 144.3L107.8 143.7L107.4 143L111.4 143.3L110.7 142.6L111.7 142.3L108.9 141.2L110.1 140.9L112 140.8L111.1 140L112.6 139.8L113.6 139.6L114 139.1L111 137.9L110.6 137.2L114.2 137.6L113.4 136.9L111.7 135.9L113.1 135.7L115.1 135.8L115.5 135.3L112.7 134L115.6 134.3L113.3 133.1L113.8 132.7L114.4 132.4L114.4 131.8L116.1 131.8L115.8 131.2L114.5 130.2L115.3 129.9L115.9 129.6L116.4 129.3L115.8 128.5L117.4 128.5L118.2 128.3L116.7 127.2L118.4 127.3L116.8 126.1L116.4 125.4L119.9 126.3L118.2 125.1L118.4 124.6L117.2 123.5L118.2 123.4L120.2 123.7L121.7 123.8L118.2 121.7L118.3 121.2L121.6 122.2L121.2 121.4L121.4 121L122.5 120.9L119.5 118.9L120.9 119L123.1 119.6L122.3 118.6L123.5 118.7L120.8 116.6L120.7 116L120.8 115.5L121.2 115.1L122.8 115.4L123.4 115.2L122.6 114.1L125 114.9L122.8 113.1L123.3 112.7L122.2 111.5L122.5 111L125.5 112.3L125.4 111.6L125.3 111L123.5 109.2L126 110.2L122.7 107.4L122.9 106.9L125.9 108.3L123 105.7L125.4 106.7L125.5 106.2L125.3 105.4L125.8 105L124.4 103.4L123.2 101.9L125.7 103.1M107 147.1L103 146.6M124.5 103.1L122.1 101.3M116.4 129.1L122 131.1M124.6 101.2L123.9 99.9L125.2 100.2L125.1 99.5L125 98.7L127.1 99.6L126.5 98.5L129.1 99.8L130.1 100L128.6 98.1L131.3 99.6L129.3 97.2L132.5 99.3L132.4 98.5L132.9 98.3L131.2 96.1L133.6 97.5L135 98.1L135.4 97.7L134.6 96.2L134.3 95.3L135.1 95.3L135.9 95.3L138.2 96.9L137.8 95.8L136.4 93.7L139.2 95.8L139.1 95L140.1 95.2L140.2 94.6L141.1 94.8L141 94L139.9 92.1L142.3 93.9L143.3 94.3L142.8 93L142.2 91.5L143.2 91.9L144.1 92.2L143.7 90.9L143.3 89.6L145.2 91.1L146.2 91.5L146.5 91.2L146.3 90L147.3 90.5L145.8 87.8L148.2 90L147.2 88L147.8 87.9L148.2 87.6L148.6 87.3L149 87L150.8 88.6L150.4 87.2L151.4 87.7L150.6 85.8L150.4 84.6L152.1 86.1L152.9 86.4L152.7 85.2L153.4 85.4L152.3 82.8L153.1 83L153.6 82.9L154.9 83.9L154 81.6L155.3 82.7L154.4 80.3L156.1 82.1L156.4 81.6L155.1 78.3L155 77.2L156.6 78.9L156.4 77.5L157.7 78.7L156.4 75.3L158.4 77.9L157.3 74.7L158.3 75.5L157.9 73.5L160 76.4L158.5 72.4L159 72.1L161.1 75L161.4 74.5L160 70.4L161.4 71.9L162.2 72.4L162.7 72.3M125.2 100.6L122 98.2M161.4 71.3L160.2 68.6M140.7 93.6L144.8 98M163.6 72.2L163.8 71.2L165 72.6L165.5 72.5L166.5 73.5L167.2 73.8L166.7 71.3L168.2 73.4L169.3 74.7L169.6 74.1L169.4 72.3L170.8 74.3L170.4 71.9L170.9 71.8L171.8 72.7L172.8 74L172.8 72.5L173.1 71.7L174.7 74.8L174.2 71.7L174.6 71.2L175.5 72.1L176 72.2L177.2 74.4L177.4 73.4L177.6 72.1L178.5 73.2L178.6 72L178.8 70.6L179.7 71.9L179.7 70.2L180.8 72.3L181.5 72.8L181.3 70.2L182.5 72.7L182 68.6L182.5 68.2L183 68.2L183.7 69.1L184.7 71L184.4 67.5L185.2 68.7L186.2 70.8L186.3 68.9L186.5 67L187.2 68L187.9 68.9L187.9 65.9L188.8 67.8L189.6 69.6L190 68.9L190.3 67.2L190.6 66L191.3 66.8L191.7 65.9L192.2 65.8L192.8 66.6L193.4 67.3L193.8 65.4L194.1 63.2L194.5 62.2L195.4 65.9L195.7 63.6L196.1 60.8M163.7 71.2L162.1 67.5M195.7 63.3L195.5 60.3M180.7 71.2L182.2 77" fill="none" stroke="#e8161b" stroke-width="2.0" stroke-linejoin="round"/>
<path d="M210.1 83.5A77.75 77.75 0 0 1 250.1 98.4M250.6 98.8A77.75 77.75 0 0 1 279.8 143.5M279.9 144.2A77.75 77.75 0 0 1 278.5 183.2M278.3 183.9A77.75 77.75 0 0 1 255 219.7M254.5 220.1A77.75 77.75 0 0 1 219.6 237.2M218.9 237.3A77.75 77.75 0 0 1 181.7 235.5M181.1 235.3A77.75 77.75 0 0 1 151.4 218.2M150.9 217.8A77.75 77.75 0 0 1 130.8 187.1M130.5 186.5A77.75 77.75 0 0 1 126.9 151.2M127 150.6A77.75 77.75 0 0 1 141.5 114.7M141.9 114.2A77.75 77.75 0 0 1 171.2 90.5M171.8 90.2A77.75 77.75 0 0 1 197.9 83.5" fill="none" stroke="#e6845a" stroke-width="1.4"/>
<path d="M208.9 98.8A62.4 62.4 0 0 1 241 110.8M241.4 111.1A62.4 62.4 0 0 1 264.8 147M264.9 147.5A62.4 62.4 0 0 1 263.8 178.8M263.6 179.4A62.4 62.4 0 0 1 245 208.1M244.5 208.4A62.4 62.4 0 0 1 216.5 222.1M216 222.2A62.4 62.4 0 0 1 186.1 220.8M185.6 220.6A62.4 62.4 0 0 1 161.8 206.9M161.4 206.6A62.4 62.4 0 0 1 145.2 182M145 181.5A62.4 62.4 0 0 1 142.1 153.2M142.2 152.6A62.4 62.4 0 0 1 153.8 123.9M154.2 123.4A62.4 62.4 0 0 1 177.7 104.4M178.2 104.2A62.4 62.4 0 0 1 199.1 98.8" fill="none" stroke="#e6845a" stroke-width="1.4"/>
<path d="M207.7 113.4A47.75 47.75 0 0 1 232.3 122.5M232.6 122.8A47.75 47.75 0 0 1 250.5 150.3M250.6 150.7A47.75 47.75 0 0 1 249.8 174.7M249.6 175A47.75 47.75 0 0 1 235.3 197M235 197.3A47.75 47.75 0 0 1 213.6 207.8M213.2 207.9A47.75 47.75 0 0 1 190.3 206.7M189.9 206.6A47.75 47.75 0 0 1 171.7 196.2M171.4 195.9A47.75 47.75 0 0 1 159 177M158.9 176.7A47.75 47.75 0 0 1 156.6 155M156.7 154.6A47.75 47.75 0 0 1 165.6 132.6M165.9 132.3A47.75 47.75 0 0 1 183.9 117.7M184.2 117.5A47.75 47.75 0 0 1 200.2 113.4" fill="none" stroke="#e6845a" stroke-width="1.4"/>
<path d="M155.5 221.8L151.6 226.7M226 86.4L228.2 79M274.6 128.4L284.4 123.9M268.6 204.2L277.1 209.9M181.3 219.1L177.9 227.9M266.2 165.6L275.9 166.4M260.7 134.9L266.8 132M175.4 216.5L171.2 224.5M223.6 204.6L227.2 212.7M251.5 166.2L262.2 167.3M206.4 208.7L206.9 218.1M172.1 196.5L165.1 204.3" fill="none" stroke="#e8a080" stroke-width="1"/>
<path d="M209.5 91.2A70 70 0 0 1 245.5 104.6M246 105A70 70 0 0 1 272.2 145.3M272.3 145.9A70 70 0 0 1 271.1 181M270.9 181.6A70 70 0 0 1 249.9 213.8M249.5 214.2A70 70 0 0 1 218 229.6M217.4 229.7A70 70 0 0 1 183.9 228.1M183.3 227.9A70 70 0 0 1 156.6 212.5M156.2 212.1A70 70 0 0 1 138.1 184.5M137.9 183.9A70 70 0 0 1 134.6 152.2M134.6 151.6A70 70 0 0 1 147.7 119.3M148.1 118.9A70 70 0 0 1 174.5 97.5M175 97.3A70 70 0 0 1 198.5 91.2M208.3 106.2A55 55 0 0 1 236.6 116.7M237 117A55 55 0 0 1 257.6 148.6M257.7 149.1A55 55 0 0 1 256.7 176.7M256.6 177.2A55 55 0 0 1 240.1 202.5M239.7 202.8A55 55 0 0 1 215 214.9M214.6 215A55 55 0 0 1 188.2 213.7M187.8 213.6A55 55 0 0 1 166.8 201.5M166.4 201.2A55 55 0 0 1 152.2 179.5M152 179A55 55 0 0 1 149.4 154.1M149.5 153.6A55 55 0 0 1 159.8 128.3M160.1 127.9A55 55 0 0 1 180.8 111.1M181.2 110.9A55 55 0 0 1 199.7 106.2" fill="none" stroke="#e2dcd8" stroke-width="0.6"/>
<path d="M223.7 134.5L280.9 57.5M236.2 153.7L329.8 132.5M235.6 170.6L327.5 198.4M225.6 186L288.2 258.7M210.5 193.4L229.3 287.5M194.4 192.6L166.5 284.4M181.6 185.2L116.3 255.6M172.9 172L82.3 203.8M171.3 156.7L76.1 144.2M177.6 141.2L100.7 83.8M190.2 131L150.1 43.8" stroke="#fff" stroke-width="0.9"/>
<path d="M218.2 131.1h1.2v1.2h-1.2zM224.1 130.9h1.2v1.2h-1.2zM212.3 129h1.2v1.2h-1.2zM219 131.4h1.2v1.2h-1.2zM217.7 131.3h1.2v1.2h-1.2zM208.9 126.5h1.2v1.2h-1.2zM218.2 130.8h1.2v1.2h-1.2zM213.9 129.1h1.2v1.2h-1.2zM216.6 130.8h1.2v1.2h-1.2zM217.7 131.4h1.2v1.2h-1.2zM207.1 128.3h1.2v1.2h-1.2zM211.6 129.1h1.2v1.2h-1.2zM213.6 129.9h1.2v1.2h-1.2zM217.7 131.3h1.2v1.2h-1.2zM207.9 125.7h1.2v1.2h-1.2zM209.4 128h1.2v1.2h-1.2zM215.7 129.9h1.2v1.2h-1.2zM218.6 131.6h1.2v1.2h-1.2zM218.2 131.6h1.2v1.2h-1.2zM219.3 132h1.2v1.2h-1.2zM221.9 133h1.2v1.2h-1.2zM219.1 131.7h1.2v1.2h-1.2zM224.3 132h1.2v1.2h-1.2zM218 131.1h1.2v1.2h-1.2zM225.3 130h1.2v1.2h-1.2zM209.5 128.6h1.2v1.2h-1.2zM213.6 129.5h1.2v1.2h-1.2zM220.2 132h1.2v1.2h-1.2zM218.2 130.7h1.2v1.2h-1.2zM214.4 129.8h1.2v1.2h-1.2zM219.6 132.3h1.2v1.2h-1.2zM215.3 130.3h1.2v1.2h-1.2zM219.1 131.6h1.2v1.2h-1.2zM215.4 130.3h1.2v1.2h-1.2zM217.4 131.3h1.2v1.2h-1.2zM214.4 129.5h1.2v1.2h-1.2zM207.5 123.3h1.2v1.2h-1.2zM208.4 128.7h1.2v1.2h-1.2zM207.4 124.3h1.2v1.2h-1.2zM212 129.4h1.2v1.2h-1.2zM208.8 127h1.2v1.2h-1.2zM208 126.5h1.2v1.2h-1.2zM207.8 125.7h1.2v1.2h-1.2zM211.9 128.8h1.2v1.2h-1.2zM214.3 129.9h1.2v1.2h-1.2zM225.3 130.6h1.2v1.2h-1.2zM221.3 133h1.2v1.2h-1.2zM224.1 130.9h1.2v1.2h-1.2zM208.2 127.2h1.2v1.2h-1.2zM214.2 129.2h1.2v1.2h-1.2zM224.1 131.2h1.2v1.2h-1.2zM216.8 131.1h1.2v1.2h-1.2zM208.4 126.4h1.2v1.2h-1.2zM217.6 130.7h1.2v1.2h-1.2zM220.8 131.5h1.2v1.2h-1.2zM211.4 129.3h1.2v1.2h-1.2zM208 125.2h1.2v1.2h-1.2zM223.2 133.4h1.2v1.2h-1.2zM221.9 133.8h1.2v1.2h-1.2zM215 129.5h1.2v1.2h-1.2zM228.2 127.9h1.2v1.2h-1.2zM211 128.8h1.2v1.2h-1.2zM221.3 133.3h1.2v1.2h-1.2zM216.6 130.6h1.2v1.2h-1.2zM213.9 129.3h1.2v1.2h-1.2zM219.3 132h1.2v1.2h-1.2zM211.3 127.6h1.2v1.2h-1.2zM222.4 131.9h1.2v1.2h-1.2zM212.6 129.2h1.2v1.2h-1.2zM219.5 131.3h1.2v1.2h-1.2zM221.4 133.5h1.2v1.2h-1.2zM208.3 128.3h1.2v1.2h-1.2zM218.2 131.4h1.2v1.2h-1.2zM210.4 128.6h1.2v1.2h-1.2zM217.6 131h1.2v1.2h-1.2zM217.8 130.7h1.2v1.2h-1.2zM218.7 131h1.2v1.2h-1.2zM222.4 133.8h1.2v1.2h-1.2zM210.7 128.6h1.2v1.2h-1.2zM217.3 130.6h1.2v1.2h-1.2zM210.5 128.5h1.2v1.2h-1.2zM208.4 126.3h1.2v1.2h-1.2zM216.7 130.3h1.2v1.2h-1.2zM212.7 129.6h1.2v1.2h-1.2zM213.4 129.4h1.2v1.2h-1.2zM224.2 132.2h1.2v1.2h-1.2zM215.4 130.4h1.2v1.2h-1.2zM218.1 131.1h1.2v1.2h-1.2zM219 131.8h1.2v1.2h-1.2zM215.1 130h1.2v1.2h-1.2zM213.8 130h1.2v1.2h-1.2zM220.1 131.4h1.2v1.2h-1.2zM215.6 130.2h1.2v1.2h-1.2zM212.8 129.1h1.2v1.2h-1.2zM223.3 132.3h1.2v1.2h-1.2zM215.5 129.4h1.2v1.2h-1.2zM218.3 131.8h1.2v1.2h-1.2zM214.9 129.9h1.2v1.2h-1.2zM207.3 125.4h1.2v1.2h-1.2zM207.7 126.6h1.2v1.2h-1.2zM209.6 128.7h1.2v1.2h-1.2zM218.9 131.7h1.2v1.2h-1.2zM215.7 130.3h1.2v1.2h-1.2zM214 129.2h1.2v1.2h-1.2zM221 132.8h1.2v1.2h-1.2zM207.5 123.2h1.2v1.2h-1.2zM207 128.5h1.2v1.2h-1.2zM207.9 125.5h1.2v1.2h-1.2zM211.9 128.8h1.2v1.2h-1.2zM213.2 129.1h1.2v1.2h-1.2zM223.2 131.8h1.2v1.2h-1.2zM207.7 122.1h1.2v1.2h-1.2zM211.7 129h1.2v1.2h-1.2zM216.3 130.6h1.2v1.2h-1.2zM218.4 130.4h1.2v1.2h-1.2zM221.7 133.4h1.2v1.2h-1.2zM217.1 130.6h1.2v1.2h-1.2zM217.4 130.6h1.2v1.2h-1.2zM212.4 128.8h1.2v1.2h-1.2zM207.9 125.7h1.2v1.2h-1.2zM221.9 131.8h1.2v1.2h-1.2zM218.4 131.8h1.2v1.2h-1.2zM212.6 128.6h1.2v1.2h-1.2zM215.3 130.2h1.2v1.2h-1.2zM220.7 131.8h1.2v1.2h-1.2zM217.3 131.3h1.2v1.2h-1.2zM209.3 128.8h1.2v1.2h-1.2zM219.9 132.7h1.2v1.2h-1.2zM211.1 128.8h1.2v1.2h-1.2zM211.9 129.3h1.2v1.2h-1.2zM214 129.9h1.2v1.2h-1.2zM209.6 128.4h1.2v1.2h-1.2zM210.2 127.7h1.2v1.2h-1.2zM222 132.5h1.2v1.2h-1.2zM219.3 131.5h1.2v1.2h-1.2zM213.1 129.4h1.2v1.2h-1.2zM217.1 129.9h1.2v1.2h-1.2zM221.1 132.9h1.2v1.2h-1.2zM213.5 129.9h1.2v1.2h-1.2zM214.7 129.9h1.2v1.2h-1.2zM223.1 132.6h1.2v1.2h-1.2zM213.2 129.7h1.2v1.2h-1.2zM215.5 130.2h1.2v1.2h-1.2zM218.1 131.3h1.2v1.2h-1.2zM208.6 128h1.2v1.2h-1.2zM214.1 130.1h1.2v1.2h-1.2zM211.9 128.5h1.2v1.2h-1.2zM216.1 130.3h1.2v1.2h-1.2zM220.9 131.6h1.2v1.2h-1.2zM214.9 129h1.2v1.2h-1.2zM216.9 131.1h1.2v1.2h-1.2zM219 131.7h1.2v1.2h-1.2zM211.1 128h1.2v1.2h-1.2zM218.5 130.2h1.2v1.2h-1.2zM222.1 134h1.2v1.2h-1.2zM219.5 131.1h1.2v1.2h-1.2zM210.9 129.1h1.2v1.2h-1.2zM223 131.7h1.2v1.2h-1.2zM210 128.3h1.2v1.2h-1.2zM227.5 138.2h1.2v1.2h-1.2zM234.9 147.3h1.2v1.2h-1.2zM233.9 145.3h1.2v1.2h-1.2zM234.1 145.5h1.2v1.2h-1.2zM236.1 151.2h1.2v1.2h-1.2zM226.1 136h1.2v1.2h-1.2zM236.1 150.3h1.2v1.2h-1.2zM233.6 146.1h1.2v1.2h-1.2zM230.2 141.7h1.2v1.2h-1.2zM232.4 145h1.2v1.2h-1.2zM226.2 134.7h1.2v1.2h-1.2zM230.5 140.4h1.2v1.2h-1.2zM226.7 135.5h1.2v1.2h-1.2zM233.9 146.8h1.2v1.2h-1.2zM227.2 130.3h1.2v1.2h-1.2zM225.8 136.6h1.2v1.2h-1.2zM229.9 140.2h1.2v1.2h-1.2zM230.6 140.6h1.2v1.2h-1.2zM232.5 145.4h1.2v1.2h-1.2zM233.8 146h1.2v1.2h-1.2zM230.6 142.3h1.2v1.2h-1.2zM231.9 144h1.2v1.2h-1.2zM230 140.9h1.2v1.2h-1.2zM229.8 140.8h1.2v1.2h-1.2zM235 150.9h1.2v1.2h-1.2zM229.1 138.4h1.2v1.2h-1.2zM227.8 138.5h1.2v1.2h-1.2zM233.8 147.4h1.2v1.2h-1.2zM241.6 152h1.2v1.2h-1.2zM227.7 138.2h1.2v1.2h-1.2zM230.7 141.9h1.2v1.2h-1.2zM227.1 133.2h1.2v1.2h-1.2zM230.6 141.2h1.2v1.2h-1.2zM225.5 136h1.2v1.2h-1.2zM242.2 151.8h1.2v1.2h-1.2zM238.3 151.4h1.2v1.2h-1.2zM235.1 150.3h1.2v1.2h-1.2zM233.6 146.3h1.2v1.2h-1.2zM235.3 151h1.2v1.2h-1.2zM233.2 146.2h1.2v1.2h-1.2zM227.8 138.6h1.2v1.2h-1.2zM234.6 147.6h1.2v1.2h-1.2zM235.2 150.6h1.2v1.2h-1.2zM232.1 144.2h1.2v1.2h-1.2zM234.1 146.5h1.2v1.2h-1.2zM233.2 144.1h1.2v1.2h-1.2zM228.5 139h1.2v1.2h-1.2zM228.3 138.9h1.2v1.2h-1.2zM231.6 143h1.2v1.2h-1.2zM233.5 146.1h1.2v1.2h-1.2zM227.7 137.5h1.2v1.2h-1.2zM229 138.2h1.2v1.2h-1.2zM226 132.9h1.2v1.2h-1.2zM232.7 145.2h1.2v1.2h-1.2zM230.4 140.5h1.2v1.2h-1.2zM226.6 135.4h1.2v1.2h-1.2zM233.3 145.8h1.2v1.2h-1.2zM228.1 130.1h1.2v1.2h-1.2zM234.7 149.2h1.2v1.2h-1.2zM231.1 142.6h1.2v1.2h-1.2zM232.4 144.2h1.2v1.2h-1.2zM235 148.6h1.2v1.2h-1.2zM238.4 150.9h1.2v1.2h-1.2zM226.8 135.6h1.2v1.2h-1.2zM230.8 141.4h1.2v1.2h-1.2zM227.3 137.4h1.2v1.2h-1.2zM233.7 145.7h1.2v1.2h-1.2zM226.3 136.6h1.2v1.2h-1.2zM228.6 138.2h1.2v1.2h-1.2zM237.5 151.8h1.2v1.2h-1.2zM231.2 142.6h1.2v1.2h-1.2zM235.1 150.3h1.2v1.2h-1.2zM227 134.2h1.2v1.2h-1.2zM237.1 151.3h1.2v1.2h-1.2zM230 140.5h1.2v1.2h-1.2zM227.8 138.4h1.2v1.2h-1.2zM229.1 139.9h1.2v1.2h-1.2zM230.5 141.7h1.2v1.2h-1.2zM236.3 149.9h1.2v1.2h-1.2zM226.7 136.8h1.2v1.2h-1.2zM229.4 140.6h1.2v1.2h-1.2zM235.9 152.7h1.2v1.2h-1.2zM232.7 145.3h1.2v1.2h-1.2zM241.4 151.3h1.2v1.2h-1.2zM233.4 146.8h1.2v1.2h-1.2zM226.5 135.6h1.2v1.2h-1.2zM238.6 152h1.2v1.2h-1.2zM232.2 144.5h1.2v1.2h-1.2zM226.5 136.7h1.2v1.2h-1.2zM230.6 140.4h1.2v1.2h-1.2zM224.4 133.9h1.2v1.2h-1.2zM226.9 136.8h1.2v1.2h-1.2zM234 147.9h1.2v1.2h-1.2zM229.5 139.7h1.2v1.2h-1.2zM228.5 139h1.2v1.2h-1.2zM230.5 141.7h1.2v1.2h-1.2zM238.4 152.4h1.2v1.2h-1.2zM238.4 151h1.2v1.2h-1.2zM236.2 151.4h1.2v1.2h-1.2zM229.2 139.2h1.2v1.2h-1.2zM236.3 152.5h1.2v1.2h-1.2zM230.7 142.4h1.2v1.2h-1.2zM231.3 140.9h1.2v1.2h-1.2zM235.3 149.4h1.2v1.2h-1.2zM231.6 143.4h1.2v1.2h-1.2zM227.5 136.5h1.2v1.2h-1.2zM232.5 145h1.2v1.2h-1.2zM234.6 146h1.2v1.2h-1.2zM227.6 138.1h1.2v1.2h-1.2zM227.7 138.2h1.2v1.2h-1.2zM235 150.2h1.2v1.2h-1.2zM226 134.8h1.2v1.2h-1.2zM227.9 138.5h1.2v1.2h-1.2zM232.4 143.1h1.2v1.2h-1.2zM235.1 148.9h1.2v1.2h-1.2zM228.9 137.2h1.2v1.2h-1.2zM234.4 148.9h1.2v1.2h-1.2zM231 142.5h1.2v1.2h-1.2zM233.5 146.9h1.2v1.2h-1.2zM233.5 146.8h1.2v1.2h-1.2zM232.3 144.5h1.2v1.2h-1.2zM237.1 151.2h1.2v1.2h-1.2zM234.4 146.8h1.2v1.2h-1.2zM233.5 145.4h1.2v1.2h-1.2zM231.1 143h1.2v1.2h-1.2zM234.8 146.6h1.2v1.2h-1.2zM236.7 151.8h1.2v1.2h-1.2zM231.3 142.7h1.2v1.2h-1.2zM234.2 148.9h1.2v1.2h-1.2zM230.5 141.5h1.2v1.2h-1.2zM232.2 144.1h1.2v1.2h-1.2zM231.4 142.8h1.2v1.2h-1.2zM230.5 142.1h1.2v1.2h-1.2zM233.5 145.2h1.2v1.2h-1.2zM226.4 135.9h1.2v1.2h-1.2zM227.2 136.9h1.2v1.2h-1.2zM227 137.3h1.2v1.2h-1.2zM228.9 139.8h1.2v1.2h-1.2zM225 136h1.2v1.2h-1.2zM226 136.8h1.2v1.2h-1.2zM232.3 143.1h1.2v1.2h-1.2zM234.9 147.7h1.2v1.2h-1.2zM235.4 149.5h1.2v1.2h-1.2zM236.1 149.1h1.2v1.2h-1.2zM236.2 152.7h1.2v1.2h-1.2zM226.4 136.5h1.2v1.2h-1.2zM232.8 145.7h1.2v1.2h-1.2zM229.4 139.9h1.2v1.2h-1.2zM229.9 140.8h1.2v1.2h-1.2zM229.9 139.9h1.2v1.2h-1.2zM234.2 148.4h1.2v1.2h-1.2zM233 146.3h1.2v1.2h-1.2zM226.1 134h1.2v1.2h-1.2zM232.9 144.9h1.2v1.2h-1.2zM231.3 142.9h1.2v1.2h-1.2zM233.5 146h1.2v1.2h-1.2zM233.7 146.1h1.2v1.2h-1.2zM236 150.5h1.2v1.2h-1.2zM233.3 146h1.2v1.2h-1.2zM235.2 151.7h1.2v1.2h-1.2zM234.9 150.2h1.2v1.2h-1.2zM229 138.7h1.2v1.2h-1.2zM229.2 140.4h1.2v1.2h-1.2zM235 148.5h1.2v1.2h-1.2zM241.2 151.1h1.2v1.2h-1.2zM233.8 147h1.2v1.2h-1.2zM232.6 144.1h1.2v1.2h-1.2zM235.7 151.2h1.2v1.2h-1.2zM229.3 140.4h1.2v1.2h-1.2zM225.6 136.5h1.2v1.2h-1.2zM233.7 146.8h1.2v1.2h-1.2zM227.1 137.3h1.2v1.2h-1.2zM234.7 148.4h1.2v1.2h-1.2zM236.8 152h1.2v1.2h-1.2zM231.3 142.4h1.2v1.2h-1.2zM224.6 135.2h1.2v1.2h-1.2zM227.5 133.8h1.2v1.2h-1.2zM225.5 134.9h1.2v1.2h-1.2zM232 143.6h1.2v1.2h-1.2zM229.2 139.9h1.2v1.2h-1.2zM230.8 142.4h1.2v1.2h-1.2zM232.3 144.9h1.2v1.2h-1.2zM230.2 141.7h1.2v1.2h-1.2zM229.5 138.6h1.2v1.2h-1.2zM230.3 141.1h1.2v1.2h-1.2zM230.4 141.5h1.2v1.2h-1.2zM232.8 144.9h1.2v1.2h-1.2zM234.4 148.7h1.2v1.2h-1.2zM229.1 138.8h1.2v1.2h-1.2zM229.5 140.8h1.2v1.2h-1.2zM232.3 144.8h1.2v1.2h-1.2zM233 145.5h1.2v1.2h-1.2zM226.9 136.6h1.2v1.2h-1.2zM232.4 145.1h1.2v1.2h-1.2zM224.7 133.8h1.2v1.2h-1.2zM230.8 141.3h1.2v1.2h-1.2zM233.2 146.2h1.2v1.2h-1.2zM228.8 138.4h1.2v1.2h-1.2zM233.6 147.1h1.2v1.2h-1.2zM229.8 138.5h1.2v1.2h-1.2zM237.4 168h1.2v1.2h-1.2zM238.8 169.9h1.2v1.2h-1.2zM237.3 162.8h1.2v1.2h-1.2zM236.4 163.8h1.2v1.2h-1.2zM236.8 163.5h1.2v1.2h-1.2zM235.9 168.7h1.2v1.2h-1.2zM237 164.4h1.2v1.2h-1.2zM237.1 159.3h1.2v1.2h-1.2zM237.7 165.5h1.2v1.2h-1.2zM237.4 160.7h1.2v1.2h-1.2zM236.5 163.6h1.2v1.2h-1.2zM236.6 161.2h1.2v1.2h-1.2zM236.8 163.5h1.2v1.2h-1.2zM236.3 167.3h1.2v1.2h-1.2zM236.7 162.2h1.2v1.2h-1.2zM236.6 162.4h1.2v1.2h-1.2zM236.8 159h1.2v1.2h-1.2zM237.1 168.3h1.2v1.2h-1.2zM237.3 157.1h1.2v1.2h-1.2zM236.6 165.6h1.2v1.2h-1.2zM236.9 164.8h1.2v1.2h-1.2zM245.2 173.1h1.2v1.2h-1.2zM236.4 164.8h1.2v1.2h-1.2zM238.2 154.9h1.2v1.2h-1.2zM237.2 161.3h1.2v1.2h-1.2zM236.6 163.5h1.2v1.2h-1.2zM238.8 169.6h1.2v1.2h-1.2zM237.3 163.9h1.2v1.2h-1.2zM237.5 156h1.2v1.2h-1.2zM236.5 156.8h1.2v1.2h-1.2zM238.6 154h1.2v1.2h-1.2zM236.9 164.8h1.2v1.2h-1.2zM237.9 168.9h1.2v1.2h-1.2zM238.1 154.5h1.2v1.2h-1.2zM236.4 166.4h1.2v1.2h-1.2zM236.6 165.3h1.2v1.2h-1.2zM236.5 159.1h1.2v1.2h-1.2zM238.8 171.1h1.2v1.2h-1.2zM237.2 165.9h1.2v1.2h-1.2zM237.5 156.2h1.2v1.2h-1.2zM236.9 165.8h1.2v1.2h-1.2zM236 169.1h1.2v1.2h-1.2zM239.7 171h1.2v1.2h-1.2zM237.8 155.9h1.2v1.2h-1.2zM236.4 165.6h1.2v1.2h-1.2zM236.7 156.7h1.2v1.2h-1.2zM238 159.6h1.2v1.2h-1.2zM236.7 163h1.2v1.2h-1.2zM237 161.9h1.2v1.2h-1.2zM237 167.7h1.2v1.2h-1.2zM236.6 163.9h1.2v1.2h-1.2zM235.9 167.7h1.2v1.2h-1.2zM236.7 164.6h1.2v1.2h-1.2zM236.5 161.9h1.2v1.2h-1.2zM237 163.9h1.2v1.2h-1.2zM237.1 164.5h1.2v1.2h-1.2zM236.8 169.3h1.2v1.2h-1.2zM237 159.1h1.2v1.2h-1.2zM237.3 163.5h1.2v1.2h-1.2zM237.1 155.3h1.2v1.2h-1.2zM239.8 153.9h1.2v1.2h-1.2zM236.7 163.4h1.2v1.2h-1.2zM237 162.6h1.2v1.2h-1.2zM237.4 159.5h1.2v1.2h-1.2zM236.6 165.5h1.2v1.2h-1.2zM238.2 169.2h1.2v1.2h-1.2zM236.2 167.2h1.2v1.2h-1.2zM236.8 159h1.2v1.2h-1.2zM236.9 158h1.2v1.2h-1.2zM237.3 162.8h1.2v1.2h-1.2zM237.1 155.6h1.2v1.2h-1.2zM237.3 160.2h1.2v1.2h-1.2zM239.4 154.3h1.2v1.2h-1.2zM236.2 166h1.2v1.2h-1.2zM236.9 156.7h1.2v1.2h-1.2zM237.2 168.2h1.2v1.2h-1.2zM237.6 157.2h1.2v1.2h-1.2zM237 169.1h1.2v1.2h-1.2zM236.6 167.4h1.2v1.2h-1.2zM236.8 165.3h1.2v1.2h-1.2zM236.6 163.6h1.2v1.2h-1.2zM237.4 168.2h1.2v1.2h-1.2zM236.5 168.2h1.2v1.2h-1.2zM236.4 158.4h1.2v1.2h-1.2zM236.9 161.6h1.2v1.2h-1.2zM237.2 156.7h1.2v1.2h-1.2zM236.3 167.9h1.2v1.2h-1.2zM237.4 168h1.2v1.2h-1.2zM236.7 158.7h1.2v1.2h-1.2zM236.5 157.3h1.2v1.2h-1.2zM239.1 154.9h1.2v1.2h-1.2zM237.3 162h1.2v1.2h-1.2zM236.6 165.6h1.2v1.2h-1.2zM236 170.5h1.2v1.2h-1.2zM237.3 153.9h1.2v1.2h-1.2zM236.9 163.5h1.2v1.2h-1.2zM236 168.5h1.2v1.2h-1.2zM236.8 161h1.2v1.2h-1.2zM236.6 164.2h1.2v1.2h-1.2zM237.6 155.8h1.2v1.2h-1.2zM236.2 167.3h1.2v1.2h-1.2zM236.6 162.2h1.2v1.2h-1.2zM237.4 157.4h1.2v1.2h-1.2zM236 167.9h1.2v1.2h-1.2zM236.7 165.2h1.2v1.2h-1.2zM235.8 168.2h1.2v1.2h-1.2zM239 170.4h1.2v1.2h-1.2zM236.7 157.6h1.2v1.2h-1.2zM237 155.9h1.2v1.2h-1.2zM236.9 161.2h1.2v1.2h-1.2zM236.5 167.6h1.2v1.2h-1.2zM236.8 160.1h1.2v1.2h-1.2zM237.9 156h1.2v1.2h-1.2zM236.7 155.9h1.2v1.2h-1.2zM238.4 171h1.2v1.2h-1.2zM235.8 168.1h1.2v1.2h-1.2zM237.1 164.4h1.2v1.2h-1.2zM235.7 170.1h1.2v1.2h-1.2zM237.5 161.4h1.2v1.2h-1.2zM236.8 157.9h1.2v1.2h-1.2zM236.7 168.1h1.2v1.2h-1.2zM236.6 170h1.2v1.2h-1.2zM242.2 153h1.2v1.2h-1.2zM241.8 172.3h1.2v1.2h-1.2zM236.9 161.4h1.2v1.2h-1.2zM236.9 164.4h1.2v1.2h-1.2zM236.6 164.9h1.2v1.2h-1.2zM237.4 162.1h1.2v1.2h-1.2zM236.8 159.1h1.2v1.2h-1.2zM236.6 161.5h1.2v1.2h-1.2zM238 158.3h1.2v1.2h-1.2zM237 158.7h1.2v1.2h-1.2zM236.6 168.7h1.2v1.2h-1.2zM241 171.8h1.2v1.2h-1.2zM237 164.2h1.2v1.2h-1.2zM237.8 159.9h1.2v1.2h-1.2zM236.5 161.8h1.2v1.2h-1.2zM237.4 160.1h1.2v1.2h-1.2zM237.8 170.1h1.2v1.2h-1.2zM237.2 167.7h1.2v1.2h-1.2zM237.4 156h1.2v1.2h-1.2zM236.2 155.7h1.2v1.2h-1.2zM238.3 154.7h1.2v1.2h-1.2zM237.3 167.7h1.2v1.2h-1.2zM238 170.1h1.2v1.2h-1.2zM235.6 171.2h1.2v1.2h-1.2zM228.6 182.4h1.2v1.2h-1.2zM234.5 173.4h1.2v1.2h-1.2zM228 184.2h1.2v1.2h-1.2zM233.8 174.2h1.2v1.2h-1.2zM228.2 184h1.2v1.2h-1.2zM232.8 176.5h1.2v1.2h-1.2zM234.9 174.4h1.2v1.2h-1.2zM229.1 182.3h1.2v1.2h-1.2zM235.2 174.5h1.2v1.2h-1.2zM234 174.2h1.2v1.2h-1.2zM231 179.8h1.2v1.2h-1.2zM239.9 172.9h1.2v1.2h-1.2zM230.4 180h1.2v1.2h-1.2zM235.4 174.4h1.2v1.2h-1.2zM232.1 178.5h1.2v1.2h-1.2zM243.3 173.1h1.2v1.2h-1.2zM234.4 173.7h1.2v1.2h-1.2zM233.7 174.5h1.2v1.2h-1.2zM230.8 180.7h1.2v1.2h-1.2zM232.8 177.4h1.2v1.2h-1.2zM229.6 181.2h1.2v1.2h-1.2zM235 173.2h1.2v1.2h-1.2zM226.9 184.3h1.2v1.2h-1.2zM235.2 174h1.2v1.2h-1.2zM233.5 175.7h1.2v1.2h-1.2zM234.5 172.4h1.2v1.2h-1.2zM232.8 177.5h1.2v1.2h-1.2zM228.7 188.1h1.2v1.2h-1.2zM229.3 181.4h1.2v1.2h-1.2zM230 181.4h1.2v1.2h-1.2zM231.1 180.6h1.2v1.2h-1.2zM228.3 182.9h1.2v1.2h-1.2zM231.6 179.1h1.2v1.2h-1.2zM233.8 175.5h1.2v1.2h-1.2zM233.6 175.9h1.2v1.2h-1.2zM234.5 174.4h1.2v1.2h-1.2zM231.9 179h1.2v1.2h-1.2zM232.9 176.7h1.2v1.2h-1.2zM231.2 179.1h1.2v1.2h-1.2zM232 177.9h1.2v1.2h-1.2zM228.8 182.7h1.2v1.2h-1.2zM229.1 183.3h1.2v1.2h-1.2zM228 184h1.2v1.2h-1.2zM228.1 184.4h1.2v1.2h-1.2zM231 179.6h1.2v1.2h-1.2zM229.3 182.4h1.2v1.2h-1.2zM230 180.5h1.2v1.2h-1.2zM234.5 173.3h1.2v1.2h-1.2zM230.7 179.8h1.2v1.2h-1.2zM230.1 181.3h1.2v1.2h-1.2zM234 174h1.2v1.2h-1.2zM229.5 184.1h1.2v1.2h-1.2zM233 177h1.2v1.2h-1.2zM231.1 181.2h1.2v1.2h-1.2zM239.6 172h1.2v1.2h-1.2zM235.4 174.4h1.2v1.2h-1.2zM233.3 176.6h1.2v1.2h-1.2zM227.1 185.2h1.2v1.2h-1.2zM231.4 178.7h1.2v1.2h-1.2zM234.5 174.9h1.2v1.2h-1.2zM232.1 178.6h1.2v1.2h-1.2zM227.6 186.2h1.2v1.2h-1.2zM229.7 181.7h1.2v1.2h-1.2zM232.5 178.1h1.2v1.2h-1.2zM229.8 190.4h1.2v1.2h-1.2zM232.9 177.2h1.2v1.2h-1.2zM232.5 177.8h1.2v1.2h-1.2zM232 177.8h1.2v1.2h-1.2zM234 173.9h1.2v1.2h-1.2zM231.9 179.7h1.2v1.2h-1.2zM230.5 190.5h1.2v1.2h-1.2zM236.6 173.2h1.2v1.2h-1.2zM233.3 176.3h1.2v1.2h-1.2zM232.1 178.7h1.2v1.2h-1.2zM228.8 182.1h1.2v1.2h-1.2zM238 172.2h1.2v1.2h-1.2zM233 176.8h1.2v1.2h-1.2zM232 177.7h1.2v1.2h-1.2zM228.7 182.6h1.2v1.2h-1.2zM235 171.6h1.2v1.2h-1.2zM232.9 176.1h1.2v1.2h-1.2zM237.7 171.6h1.2v1.2h-1.2zM227.1 184.3h1.2v1.2h-1.2zM231.8 178.7h1.2v1.2h-1.2zM235 175.5h1.2v1.2h-1.2zM227.3 183.8h1.2v1.2h-1.2zM241 173.1h1.2v1.2h-1.2zM230.6 180.3h1.2v1.2h-1.2zM227.5 184.2h1.2v1.2h-1.2zM229.4 182.3h1.2v1.2h-1.2zM231.9 177.7h1.2v1.2h-1.2zM227.9 183.3h1.2v1.2h-1.2zM234 174.5h1.2v1.2h-1.2zM243.8 173.4h1.2v1.2h-1.2zM229 182.4h1.2v1.2h-1.2zM237.8 171.6h1.2v1.2h-1.2zM232.5 177.5h1.2v1.2h-1.2zM232.5 177.5h1.2v1.2h-1.2zM227.7 183.9h1.2v1.2h-1.2zM228.7 183.5h1.2v1.2h-1.2zM232.4 178.6h1.2v1.2h-1.2zM239.1 172.2h1.2v1.2h-1.2zM229.5 182.3h1.2v1.2h-1.2zM233 177h1.2v1.2h-1.2zM230.6 180.6h1.2v1.2h-1.2zM230.4 180.3h1.2v1.2h-1.2zM230.9 180.1h1.2v1.2h-1.2zM227.6 183.8h1.2v1.2h-1.2zM231.1 179.9h1.2v1.2h-1.2zM228.5 182.7h1.2v1.2h-1.2zM231.1 179.7h1.2v1.2h-1.2zM241.4 173h1.2v1.2h-1.2zM231.8 178.4h1.2v1.2h-1.2zM234.2 173.8h1.2v1.2h-1.2zM228.9 183.1h1.2v1.2h-1.2zM231.7 178.9h1.2v1.2h-1.2zM230.8 180.2h1.2v1.2h-1.2zM227.8 183.6h1.2v1.2h-1.2zM238 173.2h1.2v1.2h-1.2zM227.8 185.6h1.2v1.2h-1.2zM236.7 172.5h1.2v1.2h-1.2zM234.7 173.3h1.2v1.2h-1.2zM227.9 185.6h1.2v1.2h-1.2zM239.3 172h1.2v1.2h-1.2zM231.4 179h1.2v1.2h-1.2zM227.3 184.9h1.2v1.2h-1.2zM227.5 184.9h1.2v1.2h-1.2zM229.6 181.5h1.2v1.2h-1.2zM234 174.2h1.2v1.2h-1.2zM228.2 183.3h1.2v1.2h-1.2zM228.5 183.8h1.2v1.2h-1.2zM228.6 183.3h1.2v1.2h-1.2zM237.6 172.9h1.2v1.2h-1.2zM230.1 181.4h1.2v1.2h-1.2zM233.3 176.7h1.2v1.2h-1.2zM231.2 181.4h1.2v1.2h-1.2zM227.1 184.9h1.2v1.2h-1.2zM233.6 176.6h1.2v1.2h-1.2zM228.2 186.8h1.2v1.2h-1.2zM229.6 189.9h1.2v1.2h-1.2zM230.6 180.3h1.2v1.2h-1.2zM238.3 173h1.2v1.2h-1.2zM231.1 179.1h1.2v1.2h-1.2zM227.7 184.5h1.2v1.2h-1.2zM227 187.2h1.2v1.2h-1.2zM227.3 184.1h1.2v1.2h-1.2zM230.6 180.5h1.2v1.2h-1.2zM233.8 174.8h1.2v1.2h-1.2zM232.2 177.6h1.2v1.2h-1.2zM232.8 177.3h1.2v1.2h-1.2zM229.3 181.8h1.2v1.2h-1.2zM232.9 177.1h1.2v1.2h-1.2zM230.4 191.1h1.2v1.2h-1.2zM234.3 174.1h1.2v1.2h-1.2zM235.2 172.3h1.2v1.2h-1.2zM232.7 176.8h1.2v1.2h-1.2zM234 174.9h1.2v1.2h-1.2zM233.5 175.6h1.2v1.2h-1.2zM223.1 187.9h1.2v1.2h-1.2zM224.2 187.3h1.2v1.2h-1.2zM220 189.5h1.2v1.2h-1.2zM219 190.2h1.2v1.2h-1.2zM220.1 190.2h1.2v1.2h-1.2zM218.4 190.1h1.2v1.2h-1.2zM214.9 191.7h1.2v1.2h-1.2zM212.2 195.1h1.2v1.2h-1.2zM223.9 188.4h1.2v1.2h-1.2zM222.6 189.1h1.2v1.2h-1.2zM220.7 188.9h1.2v1.2h-1.2zM215.1 193.1h1.2v1.2h-1.2zM213.7 193.5h1.2v1.2h-1.2zM213.8 193.7h1.2v1.2h-1.2zM216.6 191.5h1.2v1.2h-1.2zM222.5 188.7h1.2v1.2h-1.2zM220.6 190.1h1.2v1.2h-1.2zM212.6 195.8h1.2v1.2h-1.2zM218.8 190.6h1.2v1.2h-1.2zM223.5 188h1.2v1.2h-1.2zM215.5 191.7h1.2v1.2h-1.2zM215.5 191.5h1.2v1.2h-1.2zM211.9 196.1h1.2v1.2h-1.2zM212.8 193.5h1.2v1.2h-1.2zM213.1 192.8h1.2v1.2h-1.2zM223.5 187.3h1.2v1.2h-1.2zM224.8 188h1.2v1.2h-1.2zM210.6 192.9h1.2v1.2h-1.2zM217.4 191.1h1.2v1.2h-1.2zM221 189h1.2v1.2h-1.2zM214.6 192.2h1.2v1.2h-1.2zM220.5 189.6h1.2v1.2h-1.2zM214.3 192.9h1.2v1.2h-1.2zM227.8 190.3h1.2v1.2h-1.2zM217.4 191.5h1.2v1.2h-1.2zM224.9 188h1.2v1.2h-1.2zM215.9 192.1h1.2v1.2h-1.2zM222.8 189.1h1.2v1.2h-1.2zM215.1 193.1h1.2v1.2h-1.2zM211.6 195.2h1.2v1.2h-1.2zM218.4 190.9h1.2v1.2h-1.2zM220.3 189.8h1.2v1.2h-1.2zM215.6 192.1h1.2v1.2h-1.2zM215.3 191.6h1.2v1.2h-1.2zM216.9 191.8h1.2v1.2h-1.2zM227.7 190h1.2v1.2h-1.2zM221.6 188.9h1.2v1.2h-1.2zM221.4 189.5h1.2v1.2h-1.2zM212.2 197.2h1.2v1.2h-1.2zM220.2 190h1.2v1.2h-1.2zM224.1 187.3h1.2v1.2h-1.2zM222.7 188.4h1.2v1.2h-1.2zM213 193.8h1.2v1.2h-1.2zM226.1 188.5h1.2v1.2h-1.2zM215.8 191.5h1.2v1.2h-1.2zM224.9 188.7h1.2v1.2h-1.2zM215.8 193h1.2v1.2h-1.2zM221.6 188.8h1.2v1.2h-1.2zM225.1 187.2h1.2v1.2h-1.2zM225.5 187h1.2v1.2h-1.2zM214.9 193.2h1.2v1.2h-1.2zM217.5 191h1.2v1.2h-1.2zM224.6 188.4h1.2v1.2h-1.2zM222.5 189.5h1.2v1.2h-1.2zM220.2 189.8h1.2v1.2h-1.2zM219 191h1.2v1.2h-1.2zM212.3 199.3h1.2v1.2h-1.2zM220.2 189.5h1.2v1.2h-1.2zM223.1 187.4h1.2v1.2h-1.2zM222 188.7h1.2v1.2h-1.2zM217.4 191.4h1.2v1.2h-1.2zM213.2 193h1.2v1.2h-1.2zM226.2 187.2h1.2v1.2h-1.2zM211.6 196h1.2v1.2h-1.2zM223.8 187.8h1.2v1.2h-1.2zM212.8 193.1h1.2v1.2h-1.2zM219.2 190.7h1.2v1.2h-1.2zM211.7 193.6h1.2v1.2h-1.2zM212.7 202.7h1.2v1.2h-1.2zM213.6 194.7h1.2v1.2h-1.2zM221.6 189h1.2v1.2h-1.2zM212.6 196.2h1.2v1.2h-1.2zM224.3 188.5h1.2v1.2h-1.2zM211.7 194.8h1.2v1.2h-1.2zM212.9 193h1.2v1.2h-1.2zM219.4 190.1h1.2v1.2h-1.2zM217 192h1.2v1.2h-1.2zM218.5 190.2h1.2v1.2h-1.2zM224.2 188h1.2v1.2h-1.2zM222.3 189.3h1.2v1.2h-1.2zM211.5 196.1h1.2v1.2h-1.2zM220.9 190.6h1.2v1.2h-1.2zM218.4 190.7h1.2v1.2h-1.2zM216.8 191.3h1.2v1.2h-1.2zM221 188.9h1.2v1.2h-1.2zM224.9 189.2h1.2v1.2h-1.2zM216.1 192.6h1.2v1.2h-1.2zM218.1 191h1.2v1.2h-1.2zM220.3 189.6h1.2v1.2h-1.2zM220.3 189.7h1.2v1.2h-1.2zM219.5 190.1h1.2v1.2h-1.2zM223.4 189.3h1.2v1.2h-1.2zM221.3 188.7h1.2v1.2h-1.2zM211.4 193.3h1.2v1.2h-1.2zM216.9 191.8h1.2v1.2h-1.2zM219 190.3h1.2v1.2h-1.2zM214.2 192.2h1.2v1.2h-1.2zM223.7 187.2h1.2v1.2h-1.2zM218.9 190.7h1.2v1.2h-1.2zM217.1 191.1h1.2v1.2h-1.2zM215.1 192.2h1.2v1.2h-1.2zM224 187.4h1.2v1.2h-1.2zM219.6 190h1.2v1.2h-1.2zM222.6 188.4h1.2v1.2h-1.2zM217.4 190.6h1.2v1.2h-1.2zM218.6 190.1h1.2v1.2h-1.2zM216.5 191.4h1.2v1.2h-1.2zM219.2 189.9h1.2v1.2h-1.2zM214.8 192h1.2v1.2h-1.2zM220.1 190.1h1.2v1.2h-1.2zM218.5 190.5h1.2v1.2h-1.2zM212.4 194.2h1.2v1.2h-1.2zM224.2 188.4h1.2v1.2h-1.2zM226.5 188.3h1.2v1.2h-1.2zM215.7 192.6h1.2v1.2h-1.2zM223.3 188.2h1.2v1.2h-1.2zM212.3 194.2h1.2v1.2h-1.2zM217.2 190.8h1.2v1.2h-1.2zM216.9 191h1.2v1.2h-1.2zM221.9 189.9h1.2v1.2h-1.2zM214.1 192.9h1.2v1.2h-1.2zM218.5 190.8h1.2v1.2h-1.2zM219.9 189.7h1.2v1.2h-1.2zM221.8 189.1h1.2v1.2h-1.2zM223.6 187.7h1.2v1.2h-1.2zM218.4 190.6h1.2v1.2h-1.2zM219.6 190.1h1.2v1.2h-1.2zM213.1 192.2h1.2v1.2h-1.2zM216.9 191.5h1.2v1.2h-1.2zM219 190.6h1.2v1.2h-1.2zM219.1 190.3h1.2v1.2h-1.2zM223.8 187h1.2v1.2h-1.2zM213.8 192.9h1.2v1.2h-1.2zM221.4 188.8h1.2v1.2h-1.2zM197.7 193.2h1.2v1.2h-1.2zM208.5 194.1h1.2v1.2h-1.2zM211.6 201.2h1.2v1.2h-1.2zM197.4 193.9h1.2v1.2h-1.2zM204.5 193.8h1.2v1.2h-1.2zM209.4 194h1.2v1.2h-1.2zM204.5 193.8h1.2v1.2h-1.2zM207.6 194.4h1.2v1.2h-1.2zM198.8 194.1h1.2v1.2h-1.2zM204.1 194h1.2v1.2h-1.2zM203.3 193.7h1.2v1.2h-1.2zM200.3 193.9h1.2v1.2h-1.2zM195.2 195h1.2v1.2h-1.2zM202.8 194.7h1.2v1.2h-1.2zM194 195.2h1.2v1.2h-1.2zM200.9 194.1h1.2v1.2h-1.2zM196.1 193h1.2v1.2h-1.2zM196.2 194.1h1.2v1.2h-1.2zM209.3 193.5h1.2v1.2h-1.2zM210.5 196.7h1.2v1.2h-1.2zM205.5 193.6h1.2v1.2h-1.2zM202.1 193.8h1.2v1.2h-1.2zM206 194.4h1.2v1.2h-1.2zM205.6 194h1.2v1.2h-1.2zM199.5 193.7h1.2v1.2h-1.2zM209.6 195h1.2v1.2h-1.2zM206.9 193.4h1.2v1.2h-1.2zM206 193.9h1.2v1.2h-1.2zM209.2 195h1.2v1.2h-1.2zM200.8 193.6h1.2v1.2h-1.2zM195.7 194h1.2v1.2h-1.2zM197.4 194.8h1.2v1.2h-1.2zM201.7 193.5h1.2v1.2h-1.2zM206.6 193.9h1.2v1.2h-1.2zM200.8 193.5h1.2v1.2h-1.2zM199.5 193.3h1.2v1.2h-1.2zM207.5 194.7h1.2v1.2h-1.2zM201.1 193.4h1.2v1.2h-1.2zM197.1 194.5h1.2v1.2h-1.2zM202.2 193.6h1.2v1.2h-1.2zM198.2 194.6h1.2v1.2h-1.2zM207.9 193.7h1.2v1.2h-1.2zM207.1 195.5h1.2v1.2h-1.2zM211.2 199.3h1.2v1.2h-1.2zM203.7 193.6h1.2v1.2h-1.2zM206.7 193.5h1.2v1.2h-1.2zM199 195.1h1.2v1.2h-1.2zM203.9 193.8h1.2v1.2h-1.2zM209.9 196h1.2v1.2h-1.2zM203.2 194h1.2v1.2h-1.2zM198.3 193.3h1.2v1.2h-1.2zM197.9 192.9h1.2v1.2h-1.2zM204.8 194.2h1.2v1.2h-1.2zM200.6 193.5h1.2v1.2h-1.2zM196.6 193.8h1.2v1.2h-1.2zM206.3 193.8h1.2v1.2h-1.2zM208.6 193.2h1.2v1.2h-1.2zM204.9 193.7h1.2v1.2h-1.2zM196.5 194.3h1.2v1.2h-1.2zM207.8 193.3h1.2v1.2h-1.2zM210.2 196h1.2v1.2h-1.2zM204.3 194.1h1.2v1.2h-1.2zM209.4 195.4h1.2v1.2h-1.2zM207.4 193.7h1.2v1.2h-1.2zM200.6 193.6h1.2v1.2h-1.2zM203.8 193.8h1.2v1.2h-1.2zM205 193.8h1.2v1.2h-1.2zM198.5 193.1h1.2v1.2h-1.2zM205.3 193.6h1.2v1.2h-1.2zM193.9 197h1.2v1.2h-1.2zM202 193.5h1.2v1.2h-1.2zM205.9 193.9h1.2v1.2h-1.2zM202 193.4h1.2v1.2h-1.2zM209.2 195.6h1.2v1.2h-1.2zM194.3 194.8h1.2v1.2h-1.2zM199.7 194.5h1.2v1.2h-1.2zM205.4 194.2h1.2v1.2h-1.2zM209.3 195.9h1.2v1.2h-1.2zM210.8 195.7h1.2v1.2h-1.2zM195.2 195.2h1.2v1.2h-1.2zM197.7 194.1h1.2v1.2h-1.2zM203.5 193.7h1.2v1.2h-1.2zM193.1 199.1h1.2v1.2h-1.2zM195.8 194.7h1.2v1.2h-1.2zM200.4 194.2h1.2v1.2h-1.2zM205 194.2h1.2v1.2h-1.2zM196.4 193.9h1.2v1.2h-1.2zM197.6 193.9h1.2v1.2h-1.2zM204.7 193.7h1.2v1.2h-1.2zM202.6 194.4h1.2v1.2h-1.2zM202.4 194.2h1.2v1.2h-1.2zM201.2 193.8h1.2v1.2h-1.2zM204.5 194.1h1.2v1.2h-1.2zM194.1 194.8h1.2v1.2h-1.2zM207.9 193.5h1.2v1.2h-1.2zM206.2 194.4h1.2v1.2h-1.2zM195.1 193.1h1.2v1.2h-1.2zM203.4 194.1h1.2v1.2h-1.2zM205.3 193.8h1.2v1.2h-1.2zM208.2 193.9h1.2v1.2h-1.2zM199.2 193.9h1.2v1.2h-1.2zM207 194.1h1.2v1.2h-1.2zM204 194.6h1.2v1.2h-1.2zM210 197.5h1.2v1.2h-1.2zM208.1 194.2h1.2v1.2h-1.2zM209.8 194.7h1.2v1.2h-1.2zM209.4 195.5h1.2v1.2h-1.2zM203.3 193.7h1.2v1.2h-1.2zM197.7 193.1h1.2v1.2h-1.2zM206.2 194.4h1.2v1.2h-1.2zM203.1 194.5h1.2v1.2h-1.2zM209.2 194.9h1.2v1.2h-1.2zM196.6 192.7h1.2v1.2h-1.2zM195.8 193.3h1.2v1.2h-1.2zM198.9 193.4h1.2v1.2h-1.2zM207.8 194.3h1.2v1.2h-1.2zM200 194.2h1.2v1.2h-1.2zM195.6 194.5h1.2v1.2h-1.2zM194.6 193.2h1.2v1.2h-1.2zM195.7 194h1.2v1.2h-1.2zM205.7 194.5h1.2v1.2h-1.2zM199.3 193.3h1.2v1.2h-1.2zM204.1 193.9h1.2v1.2h-1.2zM196.3 195.2h1.2v1.2h-1.2zM209.9 197.2h1.2v1.2h-1.2zM204.6 194h1.2v1.2h-1.2zM209.1 193.7h1.2v1.2h-1.2zM208 194.7h1.2v1.2h-1.2zM199.5 193.5h1.2v1.2h-1.2zM196.5 193.2h1.2v1.2h-1.2zM194.1 196.2h1.2v1.2h-1.2zM210.8 199.3h1.2v1.2h-1.2zM201.4 194.4h1.2v1.2h-1.2zM208.4 194h1.2v1.2h-1.2zM206.4 195.1h1.2v1.2h-1.2zM196.8 193.4h1.2v1.2h-1.2zM195.9 194.8h1.2v1.2h-1.2zM200.8 193.6h1.2v1.2h-1.2zM184.3 187.4h1.2v1.2h-1.2zM183.6 187.5h1.2v1.2h-1.2zM193.7 192.3h1.2v1.2h-1.2zM187.4 188.9h1.2v1.2h-1.2zM190.9 192.1h1.2v1.2h-1.2zM187.1 188.9h1.2v1.2h-1.2zM184.6 187.7h1.2v1.2h-1.2zM183.6 188.1h1.2v1.2h-1.2zM192.9 192.8h1.2v1.2h-1.2zM192.6 196h1.2v1.2h-1.2zM185.7 188.4h1.2v1.2h-1.2zM182 185.3h1.2v1.2h-1.2zM190.9 192.1h1.2v1.2h-1.2zM190.2 191h1.2v1.2h-1.2zM181.5 188.1h1.2v1.2h-1.2zM183.1 186.1h1.2v1.2h-1.2zM193.1 191.8h1.2v1.2h-1.2zM185.8 188.5h1.2v1.2h-1.2zM192.7 191.6h1.2v1.2h-1.2zM184.7 188.9h1.2v1.2h-1.2zM186.9 189.2h1.2v1.2h-1.2zM192.8 193.3h1.2v1.2h-1.2zM183.3 187.9h1.2v1.2h-1.2zM192.9 193.4h1.2v1.2h-1.2zM177.7 190.2h1.2v1.2h-1.2zM190.8 191.4h1.2v1.2h-1.2zM189.1 191.4h1.2v1.2h-1.2zM189.1 190.7h1.2v1.2h-1.2zM179.2 188.6h1.2v1.2h-1.2zM192.8 196.1h1.2v1.2h-1.2zM188.5 190h1.2v1.2h-1.2zM184.1 187h1.2v1.2h-1.2zM185.8 189.1h1.2v1.2h-1.2zM192.7 194.4h1.2v1.2h-1.2zM192.7 194.3h1.2v1.2h-1.2zM182.2 186.9h1.2v1.2h-1.2zM183.7 187.1h1.2v1.2h-1.2zM193.3 192.2h1.2v1.2h-1.2zM189.7 190.3h1.2v1.2h-1.2zM186.2 188.4h1.2v1.2h-1.2zM185.1 188.1h1.2v1.2h-1.2zM188.6 189.8h1.2v1.2h-1.2zM186.1 188.5h1.2v1.2h-1.2zM187.9 190.1h1.2v1.2h-1.2zM188 189.6h1.2v1.2h-1.2zM188.5 189.7h1.2v1.2h-1.2zM182.8 187h1.2v1.2h-1.2zM188.3 189.7h1.2v1.2h-1.2zM188.9 190.6h1.2v1.2h-1.2zM181 188.2h1.2v1.2h-1.2zM183.4 186.8h1.2v1.2h-1.2zM186.8 189.7h1.2v1.2h-1.2zM184.2 187.2h1.2v1.2h-1.2zM181.3 186.5h1.2v1.2h-1.2zM183 186.2h1.2v1.2h-1.2zM190.3 191.1h1.2v1.2h-1.2zM187.8 189.6h1.2v1.2h-1.2zM189 189.9h1.2v1.2h-1.2zM189.5 191.1h1.2v1.2h-1.2zM181.4 188.2h1.2v1.2h-1.2zM187.8 189.2h1.2v1.2h-1.2zM191.2 192.2h1.2v1.2h-1.2zM192.2 192.8h1.2v1.2h-1.2zM185.8 188.5h1.2v1.2h-1.2zM192.2 192.3h1.2v1.2h-1.2zM185.3 187.6h1.2v1.2h-1.2zM192.6 197.7h1.2v1.2h-1.2zM186.7 189h1.2v1.2h-1.2zM186.9 189.3h1.2v1.2h-1.2zM188.3 189.5h1.2v1.2h-1.2zM186.8 189.4h1.2v1.2h-1.2zM185.5 188.4h1.2v1.2h-1.2zM188.8 189.8h1.2v1.2h-1.2zM186 189.1h1.2v1.2h-1.2zM185.6 187.9h1.2v1.2h-1.2zM189.9 190.5h1.2v1.2h-1.2zM180 187.4h1.2v1.2h-1.2zM186.6 189.2h1.2v1.2h-1.2zM183.9 188.4h1.2v1.2h-1.2zM187.7 189.4h1.2v1.2h-1.2zM188.5 190.5h1.2v1.2h-1.2zM189 190.1h1.2v1.2h-1.2zM188.3 190h1.2v1.2h-1.2zM192.4 193.5h1.2v1.2h-1.2zM188.7 190h1.2v1.2h-1.2zM184 187.1h1.2v1.2h-1.2zM184.6 187.1h1.2v1.2h-1.2zM187.2 189.2h1.2v1.2h-1.2zM184.4 186.9h1.2v1.2h-1.2zM186.2 188.6h1.2v1.2h-1.2zM185.6 188.7h1.2v1.2h-1.2zM185.5 188.1h1.2v1.2h-1.2zM193 192.7h1.2v1.2h-1.2zM180.9 187.1h1.2v1.2h-1.2zM181.1 187.3h1.2v1.2h-1.2zM187.7 189.3h1.2v1.2h-1.2zM188 189.3h1.2v1.2h-1.2zM192.5 194h1.2v1.2h-1.2zM186.9 189.4h1.2v1.2h-1.2zM191.3 191.9h1.2v1.2h-1.2zM187 189.1h1.2v1.2h-1.2zM183.6 187h1.2v1.2h-1.2zM193.2 193.5h1.2v1.2h-1.2zM185.2 187.6h1.2v1.2h-1.2zM190.8 191.5h1.2v1.2h-1.2zM185.5 189.2h1.2v1.2h-1.2zM187.9 189.4h1.2v1.2h-1.2zM189.4 190.7h1.2v1.2h-1.2zM183.7 186.4h1.2v1.2h-1.2zM183.1 186.4h1.2v1.2h-1.2zM192.6 191.9h1.2v1.2h-1.2zM192.4 192.3h1.2v1.2h-1.2zM180.3 188.1h1.2v1.2h-1.2zM182 186.9h1.2v1.2h-1.2zM186.7 188.6h1.2v1.2h-1.2zM180.5 186.5h1.2v1.2h-1.2zM180.1 187.8h1.2v1.2h-1.2zM180.1 188.7h1.2v1.2h-1.2zM192.8 195.6h1.2v1.2h-1.2zM188.3 189.8h1.2v1.2h-1.2zM187.5 189.3h1.2v1.2h-1.2zM193.3 193.9h1.2v1.2h-1.2zM192.1 192h1.2v1.2h-1.2zM184.8 187.8h1.2v1.2h-1.2zM193.5 194.4h1.2v1.2h-1.2zM186.9 189.5h1.2v1.2h-1.2zM180.9 187.3h1.2v1.2h-1.2zM180.2 184.1h1.2v1.2h-1.2zM174.5 175.8h1.2v1.2h-1.2zM174.6 176.1h1.2v1.2h-1.2zM179.3 184.6h1.2v1.2h-1.2zM177.8 181.5h1.2v1.2h-1.2zM172.1 173.7h1.2v1.2h-1.2zM177 179.6h1.2v1.2h-1.2zM179.6 183.9h1.2v1.2h-1.2zM178.3 187h1.2v1.2h-1.2zM180 185h1.2v1.2h-1.2zM178.8 185.8h1.2v1.2h-1.2zM178 181.9h1.2v1.2h-1.2zM174.9 177.1h1.2v1.2h-1.2zM175.1 176.6h1.2v1.2h-1.2zM173.7 174.3h1.2v1.2h-1.2zM173.6 176.1h1.2v1.2h-1.2zM179.8 182.7h1.2v1.2h-1.2zM173.8 174.6h1.2v1.2h-1.2zM173.3 173.5h1.2v1.2h-1.2zM174.5 176.1h1.2v1.2h-1.2zM176.3 179.4h1.2v1.2h-1.2zM173.1 174.6h1.2v1.2h-1.2zM176.3 178.9h1.2v1.2h-1.2zM175.4 176.9h1.2v1.2h-1.2zM171.6 173.2h1.2v1.2h-1.2zM179.3 184.5h1.2v1.2h-1.2zM178.6 183.1h1.2v1.2h-1.2zM173.3 174.2h1.2v1.2h-1.2zM178.1 187.4h1.2v1.2h-1.2zM176.6 179.2h1.2v1.2h-1.2zM173.2 173.7h1.2v1.2h-1.2zM174.9 176.8h1.2v1.2h-1.2zM175.5 178h1.2v1.2h-1.2zM175.3 177.1h1.2v1.2h-1.2zM178.9 187h1.2v1.2h-1.2zM179 182.3h1.2v1.2h-1.2zM178.2 183h1.2v1.2h-1.2zM176.5 178.8h1.2v1.2h-1.2zM178.3 181h1.2v1.2h-1.2zM176.3 178.2h1.2v1.2h-1.2zM178.3 186.6h1.2v1.2h-1.2zM176.3 178.7h1.2v1.2h-1.2zM175.9 178.7h1.2v1.2h-1.2zM173.7 175.2h1.2v1.2h-1.2zM179.6 185.4h1.2v1.2h-1.2zM163.7 175.4h1.2v1.2h-1.2zM174.6 177.3h1.2v1.2h-1.2zM174.3 175.6h1.2v1.2h-1.2zM176.5 180.9h1.2v1.2h-1.2zM175.5 178.5h1.2v1.2h-1.2zM177.2 179.9h1.2v1.2h-1.2zM174 174.9h1.2v1.2h-1.2zM169.1 174.3h1.2v1.2h-1.2zM176.2 178h1.2v1.2h-1.2zM175.8 177.6h1.2v1.2h-1.2zM179.5 184.4h1.2v1.2h-1.2zM174 176.5h1.2v1.2h-1.2zM173.9 175.1h1.2v1.2h-1.2zM172.6 174.2h1.2v1.2h-1.2zM176.6 178.9h1.2v1.2h-1.2zM170.1 173.5h1.2v1.2h-1.2zM180.6 185.1h1.2v1.2h-1.2zM179.5 184.5h1.2v1.2h-1.2zM178.7 182.3h1.2v1.2h-1.2zM174.6 175.2h1.2v1.2h-1.2zM176.6 178.8h1.2v1.2h-1.2zM179.6 184h1.2v1.2h-1.2zM175.6 178.2h1.2v1.2h-1.2zM174 175.8h1.2v1.2h-1.2zM173 174.2h1.2v1.2h-1.2zM178.1 182.5h1.2v1.2h-1.2zM176.5 180.7h1.2v1.2h-1.2zM178.3 187.1h1.2v1.2h-1.2zM177.2 179.5h1.2v1.2h-1.2zM178.1 181h1.2v1.2h-1.2zM173.7 176.1h1.2v1.2h-1.2zM176.7 178.8h1.2v1.2h-1.2zM176.6 179.8h1.2v1.2h-1.2zM173.2 175.7h1.2v1.2h-1.2zM173.9 174.1h1.2v1.2h-1.2zM174.3 176.2h1.2v1.2h-1.2zM176.7 178.9h1.2v1.2h-1.2zM174.1 174.9h1.2v1.2h-1.2zM167.9 174.7h1.2v1.2h-1.2zM177.8 181.8h1.2v1.2h-1.2zM174.4 175.2h1.2v1.2h-1.2zM175.1 176.3h1.2v1.2h-1.2zM180 185.9h1.2v1.2h-1.2zM177.8 188.7h1.2v1.2h-1.2zM172.5 173.8h1.2v1.2h-1.2zM177.6 181.7h1.2v1.2h-1.2zM175.6 178.2h1.2v1.2h-1.2zM173.9 176.7h1.2v1.2h-1.2zM168.4 174.3h1.2v1.2h-1.2zM180 184h1.2v1.2h-1.2zM179.2 183.4h1.2v1.2h-1.2zM172.6 175.5h1.2v1.2h-1.2zM175 177.4h1.2v1.2h-1.2zM179.2 184.6h1.2v1.2h-1.2zM179.2 182h1.2v1.2h-1.2zM176.9 179.8h1.2v1.2h-1.2zM179.9 185.7h1.2v1.2h-1.2zM178.2 183.2h1.2v1.2h-1.2zM175.9 190.5h1.2v1.2h-1.2zM173.9 174.5h1.2v1.2h-1.2zM173.3 175h1.2v1.2h-1.2zM173.8 176h1.2v1.2h-1.2zM175.5 176.9h1.2v1.2h-1.2zM176.8 178.9h1.2v1.2h-1.2zM173.9 173.4h1.2v1.2h-1.2zM174.4 174.7h1.2v1.2h-1.2zM178.2 182.9h1.2v1.2h-1.2zM174.1 176h1.2v1.2h-1.2zM178.5 183.2h1.2v1.2h-1.2zM175.1 176.3h1.2v1.2h-1.2zM175.1 176.8h1.2v1.2h-1.2zM173.9 174h1.2v1.2h-1.2zM175.3 177.2h1.2v1.2h-1.2zM174.4 176.6h1.2v1.2h-1.2zM174.5 177.2h1.2v1.2h-1.2zM175 176.5h1.2v1.2h-1.2zM177.1 180.8h1.2v1.2h-1.2zM173.4 175.1h1.2v1.2h-1.2zM177 181.5h1.2v1.2h-1.2zM174.5 175.6h1.2v1.2h-1.2zM171.8 174.5h1.2v1.2h-1.2zM174.3 174.6h1.2v1.2h-1.2zM178.1 181.2h1.2v1.2h-1.2zM179 186.8h1.2v1.2h-1.2zM178.3 180.9h1.2v1.2h-1.2zM175 176.7h1.2v1.2h-1.2zM175.7 177.1h1.2v1.2h-1.2zM174.3 174.9h1.2v1.2h-1.2zM176.2 178.3h1.2v1.2h-1.2zM181.2 184.3h1.2v1.2h-1.2zM175.4 178.6h1.2v1.2h-1.2zM172.1 171.7h1.2v1.2h-1.2zM171.1 161.4h1.2v1.2h-1.2zM171.3 166.3h1.2v1.2h-1.2zM171.8 166.4h1.2v1.2h-1.2zM172.2 168.5h1.2v1.2h-1.2zM172.4 169.7h1.2v1.2h-1.2zM171.1 161.2h1.2v1.2h-1.2zM172.2 168h1.2v1.2h-1.2zM170.7 162.6h1.2v1.2h-1.2zM170.5 158.7h1.2v1.2h-1.2zM171.1 164.3h1.2v1.2h-1.2zM170.7 158.8h1.2v1.2h-1.2zM171.1 166h1.2v1.2h-1.2zM171.3 163.7h1.2v1.2h-1.2zM172.5 169.3h1.2v1.2h-1.2zM171.2 163.8h1.2v1.2h-1.2zM171.4 168.7h1.2v1.2h-1.2zM170.6 171.3h1.2v1.2h-1.2zM171.7 166.9h1.2v1.2h-1.2zM171.5 164.7h1.2v1.2h-1.2zM171.5 166.5h1.2v1.2h-1.2zM170.7 164.9h1.2v1.2h-1.2zM170.6 166.1h1.2v1.2h-1.2zM171.6 169h1.2v1.2h-1.2zM171 162.7h1.2v1.2h-1.2zM171.7 164.9h1.2v1.2h-1.2zM168.3 172.7h1.2v1.2h-1.2zM170.1 160.1h1.2v1.2h-1.2zM170.8 166.2h1.2v1.2h-1.2zM170.3 158.3h1.2v1.2h-1.2zM170.6 168.4h1.2v1.2h-1.2zM171.5 166.4h1.2v1.2h-1.2zM172.3 168.8h1.2v1.2h-1.2zM170.6 157.2h1.2v1.2h-1.2zM171.5 159h1.2v1.2h-1.2zM170.3 163.5h1.2v1.2h-1.2zM171.5 170.5h1.2v1.2h-1.2zM168.8 157.7h1.2v1.2h-1.2zM170.9 171.5h1.2v1.2h-1.2zM171.1 168.3h1.2v1.2h-1.2zM171.8 169h1.2v1.2h-1.2zM170.8 162.7h1.2v1.2h-1.2zM171.1 159.7h1.2v1.2h-1.2zM170.6 171.8h1.2v1.2h-1.2zM171.4 160.9h1.2v1.2h-1.2zM169.7 157.8h1.2v1.2h-1.2zM170.5 161.8h1.2v1.2h-1.2zM171.1 160.6h1.2v1.2h-1.2zM170.1 162.7h1.2v1.2h-1.2zM170.6 159.7h1.2v1.2h-1.2zM171.2 163.9h1.2v1.2h-1.2zM169.9 158.9h1.2v1.2h-1.2zM171.4 160.6h1.2v1.2h-1.2zM171.7 165.9h1.2v1.2h-1.2zM171.1 159.2h1.2v1.2h-1.2zM170.3 158.2h1.2v1.2h-1.2zM170.8 166.3h1.2v1.2h-1.2zM171.5 165.4h1.2v1.2h-1.2zM168 172.9h1.2v1.2h-1.2zM172.9 170.6h1.2v1.2h-1.2zM170.1 161.4h1.2v1.2h-1.2zM169.6 160.2h1.2v1.2h-1.2zM171 159.2h1.2v1.2h-1.2zM172.4 169.1h1.2v1.2h-1.2zM164.9 156.7h1.2v1.2h-1.2zM172.2 167.8h1.2v1.2h-1.2zM172 170h1.2v1.2h-1.2zM171.3 163h1.2v1.2h-1.2zM171.6 167.9h1.2v1.2h-1.2zM171.3 163.7h1.2v1.2h-1.2zM168.6 157.9h1.2v1.2h-1.2zM171.3 165.5h1.2v1.2h-1.2zM171.9 170.6h1.2v1.2h-1.2zM171.9 169.8h1.2v1.2h-1.2zM171.4 165.3h1.2v1.2h-1.2zM171 160.3h1.2v1.2h-1.2zM171.6 164h1.2v1.2h-1.2zM170.9 160.7h1.2v1.2h-1.2zM171.5 163.3h1.2v1.2h-1.2zM170.9 164.1h1.2v1.2h-1.2zM171.3 168.5h1.2v1.2h-1.2zM171.5 166h1.2v1.2h-1.2zM171.1 161.4h1.2v1.2h-1.2zM171.1 162.3h1.2v1.2h-1.2zM171 159.6h1.2v1.2h-1.2zM170.5 159.8h1.2v1.2h-1.2zM170.8 163.7h1.2v1.2h-1.2zM170.3 162.2h1.2v1.2h-1.2zM171.2 167.1h1.2v1.2h-1.2zM172.7 169.8h1.2v1.2h-1.2zM171.1 169.6h1.2v1.2h-1.2zM171.3 164.9h1.2v1.2h-1.2zM171.2 159h1.2v1.2h-1.2zM170.2 168.7h1.2v1.2h-1.2zM172.7 170.8h1.2v1.2h-1.2zM169.1 159.6h1.2v1.2h-1.2zM171 157.9h1.2v1.2h-1.2zM172.7 170.1h1.2v1.2h-1.2zM170.8 171.8h1.2v1.2h-1.2zM170.7 161.7h1.2v1.2h-1.2zM170.9 158.5h1.2v1.2h-1.2zM171.3 160.3h1.2v1.2h-1.2zM171.5 166.8h1.2v1.2h-1.2zM170.6 165.1h1.2v1.2h-1.2zM171.6 166.7h1.2v1.2h-1.2zM170.8 165.7h1.2v1.2h-1.2zM171.1 159.2h1.2v1.2h-1.2zM170.3 159.3h1.2v1.2h-1.2zM171.4 168.6h1.2v1.2h-1.2zM171.5 167.9h1.2v1.2h-1.2zM170.5 163.2h1.2v1.2h-1.2zM172.3 168.3h1.2v1.2h-1.2zM171.6 168.8h1.2v1.2h-1.2zM163.1 155.8h1.2v1.2h-1.2zM171.9 166.8h1.2v1.2h-1.2zM171.2 167.7h1.2v1.2h-1.2zM171.5 163.7h1.2v1.2h-1.2zM172.2 169.2h1.2v1.2h-1.2zM170.1 172.4h1.2v1.2h-1.2zM170.6 159.3h1.2v1.2h-1.2zM171.7 169.3h1.2v1.2h-1.2zM165.1 174.3h1.2v1.2h-1.2zM169.8 157.9h1.2v1.2h-1.2zM170.7 157.6h1.2v1.2h-1.2zM171.7 168h1.2v1.2h-1.2zM169.8 158.2h1.2v1.2h-1.2zM171.3 164.7h1.2v1.2h-1.2zM171.3 159.2h1.2v1.2h-1.2zM171.4 160.8h1.2v1.2h-1.2zM171.3 170.4h1.2v1.2h-1.2zM171.7 166.1h1.2v1.2h-1.2zM173.2 150.3h1.2v1.2h-1.2zM173.5 147.9h1.2v1.2h-1.2zM171.5 137.1h1.2v1.2h-1.2zM171.3 153.2h1.2v1.2h-1.2zM175.5 142.4h1.2v1.2h-1.2zM173.1 149.7h1.2v1.2h-1.2zM175.2 145.2h1.2v1.2h-1.2zM173.2 148.6h1.2v1.2h-1.2zM172.9 149.3h1.2v1.2h-1.2zM174.3 147.8h1.2v1.2h-1.2zM172.6 152.7h1.2v1.2h-1.2zM175 141.8h1.2v1.2h-1.2zM175.6 145h1.2v1.2h-1.2zM172.8 150.6h1.2v1.2h-1.2zM176.1 142h1.2v1.2h-1.2zM176 144.1h1.2v1.2h-1.2zM170.5 153.2h1.2v1.2h-1.2zM171.5 154.8h1.2v1.2h-1.2zM172.1 153.8h1.2v1.2h-1.2zM171.6 154.8h1.2v1.2h-1.2zM175.6 144.8h1.2v1.2h-1.2zM175.8 143.2h1.2v1.2h-1.2zM174.9 145.9h1.2v1.2h-1.2zM172 152.7h1.2v1.2h-1.2zM174 146.1h1.2v1.2h-1.2zM172.6 150.6h1.2v1.2h-1.2zM172.3 151h1.2v1.2h-1.2zM176.7 143.1h1.2v1.2h-1.2zM176.1 141.1h1.2v1.2h-1.2zM172.1 151.3h1.2v1.2h-1.2zM172.3 151.6h1.2v1.2h-1.2zM172.6 150.5h1.2v1.2h-1.2zM175.4 144.8h1.2v1.2h-1.2zM173.1 147.6h1.2v1.2h-1.2zM176.8 143h1.2v1.2h-1.2zM173.8 148.7h1.2v1.2h-1.2zM171.7 155.3h1.2v1.2h-1.2zM172.9 149.9h1.2v1.2h-1.2zM171.1 154.4h1.2v1.2h-1.2zM172.5 150.9h1.2v1.2h-1.2zM173.9 147.3h1.2v1.2h-1.2zM171.3 154.3h1.2v1.2h-1.2zM172.3 151.4h1.2v1.2h-1.2zM176.9 142.9h1.2v1.2h-1.2zM169.4 156.3h1.2v1.2h-1.2zM167.4 155.4h1.2v1.2h-1.2zM175.3 144.3h1.2v1.2h-1.2zM170.6 153.7h1.2v1.2h-1.2zM175.5 144.4h1.2v1.2h-1.2zM168.1 156.1h1.2v1.2h-1.2zM170.8 155.2h1.2v1.2h-1.2zM169.7 154.6h1.2v1.2h-1.2zM172.6 151.3h1.2v1.2h-1.2zM174.7 145.4h1.2v1.2h-1.2zM176.1 143h1.2v1.2h-1.2zM175.1 144.5h1.2v1.2h-1.2zM175.9 144.1h1.2v1.2h-1.2zM174.8 146.7h1.2v1.2h-1.2zM173.5 149h1.2v1.2h-1.2zM171.5 154.3h1.2v1.2h-1.2zM168.3 155h1.2v1.2h-1.2zM175 139.8h1.2v1.2h-1.2zM172.6 150.8h1.2v1.2h-1.2zM177.1 141.4h1.2v1.2h-1.2zM173.1 148.8h1.2v1.2h-1.2zM169 155.5h1.2v1.2h-1.2zM177.7 141.6h1.2v1.2h-1.2zM172.9 149.2h1.2v1.2h-1.2zM174.5 143.3h1.2v1.2h-1.2zM172.2 152.2h1.2v1.2h-1.2zM172.7 149.8h1.2v1.2h-1.2zM173 150.1h1.2v1.2h-1.2zM176.2 144h1.2v1.2h-1.2zM174.8 145.9h1.2v1.2h-1.2zM173.2 147.8h1.2v1.2h-1.2zM174.8 143.5h1.2v1.2h-1.2zM173.1 149.6h1.2v1.2h-1.2zM175.4 145.4h1.2v1.2h-1.2zM172.1 153.5h1.2v1.2h-1.2zM172.2 151.5h1.2v1.2h-1.2zM166 155.6h1.2v1.2h-1.2zM174.9 145.5h1.2v1.2h-1.2zM171.3 153.7h1.2v1.2h-1.2zM173.4 149.9h1.2v1.2h-1.2zM172.6 150.2h1.2v1.2h-1.2zM172.7 149.8h1.2v1.2h-1.2zM174.5 140.8h1.2v1.2h-1.2zM171.6 154.7h1.2v1.2h-1.2zM172.9 148.6h1.2v1.2h-1.2zM168.6 156h1.2v1.2h-1.2zM174.8 145.1h1.2v1.2h-1.2zM170.6 154.9h1.2v1.2h-1.2zM169.3 155.2h1.2v1.2h-1.2zM176.1 143.2h1.2v1.2h-1.2zM174.7 146.6h1.2v1.2h-1.2zM174.2 145.9h1.2v1.2h-1.2zM171.2 155.6h1.2v1.2h-1.2zM173.9 147.7h1.2v1.2h-1.2zM174.5 146h1.2v1.2h-1.2zM172.7 151.3h1.2v1.2h-1.2zM176.2 143.3h1.2v1.2h-1.2zM173.8 148.5h1.2v1.2h-1.2zM171.5 152.2h1.2v1.2h-1.2zM170.5 154.3h1.2v1.2h-1.2zM167.9 155.4h1.2v1.2h-1.2zM175.1 141.1h1.2v1.2h-1.2zM172.5 152.2h1.2v1.2h-1.2zM175.8 144.2h1.2v1.2h-1.2zM175.1 140.2h1.2v1.2h-1.2zM172 152.6h1.2v1.2h-1.2zM171.7 155.5h1.2v1.2h-1.2zM172.5 152.1h1.2v1.2h-1.2zM171.7 152.9h1.2v1.2h-1.2zM170.1 154.7h1.2v1.2h-1.2zM174.4 145.9h1.2v1.2h-1.2zM175 145h1.2v1.2h-1.2zM176.4 143.3h1.2v1.2h-1.2zM173.3 139.1h1.2v1.2h-1.2zM176.1 144.3h1.2v1.2h-1.2zM173.4 148.5h1.2v1.2h-1.2zM173.5 146.8h1.2v1.2h-1.2zM175.6 144.6h1.2v1.2h-1.2zM176.1 143h1.2v1.2h-1.2zM171 156h1.2v1.2h-1.2zM173.3 150.3h1.2v1.2h-1.2zM174.1 145.5h1.2v1.2h-1.2zM172.2 152.1h1.2v1.2h-1.2zM171.7 151.9h1.2v1.2h-1.2zM174.1 145.7h1.2v1.2h-1.2zM173.8 147.7h1.2v1.2h-1.2zM172 150.7h1.2v1.2h-1.2zM173.7 147.6h1.2v1.2h-1.2zM171.9 155.5h1.2v1.2h-1.2zM171 155.7h1.2v1.2h-1.2zM174.6 140.6h1.2v1.2h-1.2zM172.5 138.5h1.2v1.2h-1.2zM175.4 145.4h1.2v1.2h-1.2zM171.4 137.1h1.2v1.2h-1.2zM176.1 144h1.2v1.2h-1.2zM173.2 150h1.2v1.2h-1.2zM170.5 154.2h1.2v1.2h-1.2zM172.7 139h1.2v1.2h-1.2zM172.2 151.6h1.2v1.2h-1.2zM174.2 140.3h1.2v1.2h-1.2zM189 130.4h1.2v1.2h-1.2zM184.7 134h1.2v1.2h-1.2zM185.1 134.1h1.2v1.2h-1.2zM183.1 135h1.2v1.2h-1.2zM187.1 132.9h1.2v1.2h-1.2zM185.2 133.2h1.2v1.2h-1.2zM184.7 133.9h1.2v1.2h-1.2zM180.4 137.1h1.2v1.2h-1.2zM179.8 139h1.2v1.2h-1.2zM177.6 138.3h1.2v1.2h-1.2zM185.6 133.3h1.2v1.2h-1.2zM189.2 131h1.2v1.2h-1.2zM182.2 135.6h1.2v1.2h-1.2zM187.7 131.5h1.2v1.2h-1.2zM184.4 133.5h1.2v1.2h-1.2zM186 133.7h1.2v1.2h-1.2zM178.1 140.5h1.2v1.2h-1.2zM187.3 126.3h1.2v1.2h-1.2zM187.1 132.9h1.2v1.2h-1.2zM183.2 135.7h1.2v1.2h-1.2zM182.9 135.8h1.2v1.2h-1.2zM179.3 138.8h1.2v1.2h-1.2zM186.6 132.5h1.2v1.2h-1.2zM185.7 133.5h1.2v1.2h-1.2zM183.3 135.7h1.2v1.2h-1.2zM186.4 132.7h1.2v1.2h-1.2zM187.5 132.5h1.2v1.2h-1.2zM185.6 133.9h1.2v1.2h-1.2zM182.7 135.5h1.2v1.2h-1.2zM184.4 134.2h1.2v1.2h-1.2zM187.7 127.2h1.2v1.2h-1.2zM183.6 134.7h1.2v1.2h-1.2zM179.6 137.7h1.2v1.2h-1.2zM184.7 134.1h1.2v1.2h-1.2zM183.5 135.4h1.2v1.2h-1.2zM188.4 128.1h1.2v1.2h-1.2zM182.8 135.3h1.2v1.2h-1.2zM182.5 136.3h1.2v1.2h-1.2zM188.3 132.5h1.2v1.2h-1.2zM184.1 134.7h1.2v1.2h-1.2zM185.8 121.9h1.2v1.2h-1.2zM181.9 136.8h1.2v1.2h-1.2zM188.1 132.3h1.2v1.2h-1.2zM182 135.6h1.2v1.2h-1.2zM182.6 135.7h1.2v1.2h-1.2zM180.5 138h1.2v1.2h-1.2zM179.4 138.6h1.2v1.2h-1.2zM186.8 132.7h1.2v1.2h-1.2zM189.4 131.2h1.2v1.2h-1.2zM186.5 132.4h1.2v1.2h-1.2zM181.9 136.7h1.2v1.2h-1.2zM175.9 138.3h1.2v1.2h-1.2zM187.8 132.5h1.2v1.2h-1.2zM185.1 134.2h1.2v1.2h-1.2zM178.6 140.3h1.2v1.2h-1.2zM179.6 138.1h1.2v1.2h-1.2zM179.9 138.3h1.2v1.2h-1.2zM180.5 137.8h1.2v1.2h-1.2zM189 131.4h1.2v1.2h-1.2zM175.7 138.5h1.2v1.2h-1.2zM188.8 128.6h1.2v1.2h-1.2zM184.5 134h1.2v1.2h-1.2zM178.9 138.5h1.2v1.2h-1.2zM179.5 138.6h1.2v1.2h-1.2zM182.8 135.5h1.2v1.2h-1.2zM188.3 129.1h1.2v1.2h-1.2zM184.7 134.2h1.2v1.2h-1.2zM185.9 133.3h1.2v1.2h-1.2zM180.1 138.4h1.2v1.2h-1.2zM178.9 138.6h1.2v1.2h-1.2zM188.9 129.6h1.2v1.2h-1.2zM179.4 138.4h1.2v1.2h-1.2zM187.3 127.9h1.2v1.2h-1.2zM187.4 132h1.2v1.2h-1.2zM185.8 133.2h1.2v1.2h-1.2zM181.4 137.2h1.2v1.2h-1.2zM179.5 138.2h1.2v1.2h-1.2zM180.1 137.5h1.2v1.2h-1.2zM186.4 133.3h1.2v1.2h-1.2zM190.1 131.2h1.2v1.2h-1.2zM184 134.4h1.2v1.2h-1.2zM185.5 132.6h1.2v1.2h-1.2zM187.5 131.1h1.2v1.2h-1.2zM188.6 131.5h1.2v1.2h-1.2zM181.8 136.7h1.2v1.2h-1.2zM182.1 136h1.2v1.2h-1.2zM183.8 134.8h1.2v1.2h-1.2zM180.7 136.4h1.2v1.2h-1.2zM184.9 133.7h1.2v1.2h-1.2zM177.3 139.6h1.2v1.2h-1.2zM185.1 133.5h1.2v1.2h-1.2zM180.8 137.9h1.2v1.2h-1.2zM177.7 139.2h1.2v1.2h-1.2zM183.3 135h1.2v1.2h-1.2zM186.2 132.5h1.2v1.2h-1.2zM187.9 130.6h1.2v1.2h-1.2zM183 135.9h1.2v1.2h-1.2zM176.2 138.4h1.2v1.2h-1.2zM181.1 137h1.2v1.2h-1.2zM186.5 133.4h1.2v1.2h-1.2zM183.8 135h1.2v1.2h-1.2zM182.4 135.2h1.2v1.2h-1.2zM181.9 136h1.2v1.2h-1.2zM181.1 136.8h1.2v1.2h-1.2zM181.4 136.8h1.2v1.2h-1.2zM179.3 139.4h1.2v1.2h-1.2zM179.2 139.2h1.2v1.2h-1.2zM180.5 137.5h1.2v1.2h-1.2zM179.3 139h1.2v1.2h-1.2zM178.7 138.8h1.2v1.2h-1.2zM172.6 137h1.2v1.2h-1.2zM186.7 132.9h1.2v1.2h-1.2zM180.7 136.6h1.2v1.2h-1.2zM185.4 133.7h1.2v1.2h-1.2zM189.5 130.5h1.2v1.2h-1.2zM176.8 139.9h1.2v1.2h-1.2zM182.3 136.8h1.2v1.2h-1.2zM183.9 135.2h1.2v1.2h-1.2zM179.3 137.9h1.2v1.2h-1.2zM183.9 135.1h1.2v1.2h-1.2zM186.2 133.4h1.2v1.2h-1.2zM184.4 134.5h1.2v1.2h-1.2zM186.2 132.4h1.2v1.2h-1.2zM180.8 137.3h1.2v1.2h-1.2zM179.2 139.6h1.2v1.2h-1.2zM174.4 138.1h1.2v1.2h-1.2zM183.4 134.8h1.2v1.2h-1.2zM182.7 136.4h1.2v1.2h-1.2zM183.8 133.7h1.2v1.2h-1.2zM189.3 131.6h1.2v1.2h-1.2zM177.4 139.3h1.2v1.2h-1.2zM183.9 135.3h1.2v1.2h-1.2zM187.4 132.2h1.2v1.2h-1.2zM181.5 136.6h1.2v1.2h-1.2zM187 130.6h1.2v1.2h-1.2zM180.6 137.9h1.2v1.2h-1.2zM186.5 133.2h1.2v1.2h-1.2zM178.3 141h1.2v1.2h-1.2zM183.2 135.2h1.2v1.2h-1.2zM180.9 136.2h1.2v1.2h-1.2zM188.8 126.8h1.2v1.2h-1.2zM194.8 129.6h1.2v1.2h-1.2zM187.3 124h1.2v1.2h-1.2zM192.7 129.4h1.2v1.2h-1.2zM196.1 129.1h1.2v1.2h-1.2zM196.3 129h1.2v1.2h-1.2zM186.8 122.8h1.2v1.2h-1.2zM192.1 130.4h1.2v1.2h-1.2zM197.2 127.9h1.2v1.2h-1.2zM193 130.1h1.2v1.2h-1.2zM193.6 129.5h1.2v1.2h-1.2zM195.3 129.5h1.2v1.2h-1.2zM193.2 130.2h1.2v1.2h-1.2zM194.5 129.5h1.2v1.2h-1.2zM197.3 128.4h1.2v1.2h-1.2zM199.5 127h1.2v1.2h-1.2zM194.2 129.3h1.2v1.2h-1.2zM198.5 127.8h1.2v1.2h-1.2zM193.4 129.7h1.2v1.2h-1.2zM193 129.4h1.2v1.2h-1.2zM195.1 129.6h1.2v1.2h-1.2zM198.3 127.7h1.2v1.2h-1.2zM194 129.7h1.2v1.2h-1.2zM198.8 128.7h1.2v1.2h-1.2zM195.8 129.3h1.2v1.2h-1.2zM196.7 129.3h1.2v1.2h-1.2zM200.3 128.7h1.2v1.2h-1.2zM194.9 129.3h1.2v1.2h-1.2zM199.4 126.9h1.2v1.2h-1.2zM196.2 128.8h1.2v1.2h-1.2zM199.5 128h1.2v1.2h-1.2zM190.6 129h1.2v1.2h-1.2zM200.7 127.7h1.2v1.2h-1.2zM191.9 129h1.2v1.2h-1.2zM196.8 129.3h1.2v1.2h-1.2zM191.7 130.4h1.2v1.2h-1.2zM190.9 128.3h1.2v1.2h-1.2zM199 127.8h1.2v1.2h-1.2zM193.7 129.8h1.2v1.2h-1.2zM196.9 129.1h1.2v1.2h-1.2zM193.3 130.1h1.2v1.2h-1.2zM197.2 128.4h1.2v1.2h-1.2zM200.9 124.6h1.2v1.2h-1.2zM190.7 129.2h1.2v1.2h-1.2zM197 128.1h1.2v1.2h-1.2zM199.4 126.9h1.2v1.2h-1.2zM195.2 129.4h1.2v1.2h-1.2zM198 128.3h1.2v1.2h-1.2zM196.6 129.1h1.2v1.2h-1.2zM193.1 129.8h1.2v1.2h-1.2zM192 130.1h1.2v1.2h-1.2zM192.3 129.2h1.2v1.2h-1.2zM194.3 129.6h1.2v1.2h-1.2zM199.6 128.5h1.2v1.2h-1.2zM192.5 128.8h1.2v1.2h-1.2zM192.2 129.8h1.2v1.2h-1.2zM198.3 128.9h1.2v1.2h-1.2zM193.6 129.6h1.2v1.2h-1.2zM191.8 129.7h1.2v1.2h-1.2zM192.1 130.2h1.2v1.2h-1.2zM192.1 130.7h1.2v1.2h-1.2zM191.5 129.3h1.2v1.2h-1.2zM194.2 129.4h1.2v1.2h-1.2zM198.5 127.9h1.2v1.2h-1.2zM196.9 128.7h1.2v1.2h-1.2zM197.4 128.1h1.2v1.2h-1.2zM200.4 119.8h1.2v1.2h-1.2zM199.4 128.8h1.2v1.2h-1.2zM195.5 129.4h1.2v1.2h-1.2zM200.5 124.3h1.2v1.2h-1.2zM192 130.7h1.2v1.2h-1.2zM201.2 125.8h1.2v1.2h-1.2zM197.9 127.6h1.2v1.2h-1.2zM198.2 128.1h1.2v1.2h-1.2zM198.9 128.8h1.2v1.2h-1.2zM199.3 128.7h1.2v1.2h-1.2zM194.7 129.1h1.2v1.2h-1.2zM195.3 129.3h1.2v1.2h-1.2zM191.6 129.6h1.2v1.2h-1.2zM198 128.4h1.2v1.2h-1.2zM192.2 130h1.2v1.2h-1.2zM198 128.4h1.2v1.2h-1.2zM191.7 130.2h1.2v1.2h-1.2zM191.5 129.8h1.2v1.2h-1.2zM193.5 129.1h1.2v1.2h-1.2zM196.5 128.8h1.2v1.2h-1.2zM191.8 130.3h1.2v1.2h-1.2zM194.6 129.5h1.2v1.2h-1.2zM195.7 128.7h1.2v1.2h-1.2zM195.5 128.7h1.2v1.2h-1.2zM198.7 128.1h1.2v1.2h-1.2zM188.1 125.1h1.2v1.2h-1.2zM195.1 129.1h1.2v1.2h-1.2zM198.9 128.1h1.2v1.2h-1.2zM199.9 126.9h1.2v1.2h-1.2zM192.1 129.8h1.2v1.2h-1.2zM198.6 128.7h1.2v1.2h-1.2zM195.8 129.4h1.2v1.2h-1.2zM198.5 128.3h1.2v1.2h-1.2z" fill="#a878b8"/>
<circle cx="204.0" cy="161.0" r="31.8" fill="none" stroke="#a676b6" stroke-width="2"/>
<circle cx="204.0" cy="161.0" r="30.8" fill="#fff"/>
<path d="M173.5 161.7Q204.0 161.0 234.5 159.9" fill="none" stroke="#d0cacc" stroke-width="1" opacity="0.8"/>
<path d="M175.3 150.8Q204.0 161.0 234.4 162.9" fill="none" stroke="#d2ccce" stroke-width="2" opacity="0.8"/>
<path d="M221.5 136Q204.0 161.0 222.8 185" fill="none" stroke="#d0cacc" stroke-width="0.7" opacity="0.8"/>
<path d="M182.4 139.5Q204.0 161.0 221.4 136" fill="none" stroke="#bfb8bc" stroke-width="2" opacity="0.8"/>
<path d="M187.4 135.4Q204.0 161.0 197.6 190.8" fill="none" stroke="#b8b4cc" stroke-width="2" opacity="0.8"/>
<path d="M190.9 133.5Q204.0 161.0 194 189.8" fill="none" stroke="#d6b0b8" stroke-width="2" opacity="0.8"/>
<path d="M177.1 146.6Q204.0 161.0 230.2 176.6" fill="none" stroke="#dca4ac" stroke-width="0.7" opacity="0.8"/>
<path d="M229 178.5Q204.0 161.0 223.8 137.8" fill="none" stroke="#d2ccce" stroke-width="0.7" opacity="0.8"/>
<path d="M221.7 136.1Q204.0 161.0 175.8 149.3" fill="none" stroke="#d6b0b8" stroke-width="1.4" opacity="0.8"/>
<path d="M173.5 160.6Q204.0 161.0 217.2 133.5" fill="none" stroke="#c8c4c6" stroke-width="2" opacity="0.8"/>
<path d="M187.6 186.7Q204.0 161.0 225.2 139" fill="none" stroke="#b8b4cc" stroke-width="2" opacity="0.8"/>
<path d="M195 190.1Q204.0 161.0 191.8 133" fill="none" stroke="#d0cacc" stroke-width="2" opacity="0.8"/>
<path d="M188.8 187.5Q204.0 161.0 234 166.5" fill="none" stroke="#c8c4c6" stroke-width="1" opacity="0.8"/>
<path d="M233.7 153.9Q204.0 161.0 173.5 160.6" fill="none" stroke="#d0cacc" stroke-width="1.4" opacity="0.8"/>
<path d="M224.9 183.2Q204.0 161.0 173.6 158.7" fill="none" stroke="#c4bcc0" stroke-width="2" opacity="0.8"/>
<path d="M231.6 148.1Q204.0 161.0 224.7 183.4" fill="none" stroke="#dca4ac" stroke-width="2" opacity="0.8"/>
<path d="M226 139.8Q204.0 161.0 181.2 140.8" fill="none" stroke="#bfb8bc" stroke-width="1" opacity="0.8"/>
<path d="M233.8 167.7Q204.0 161.0 218.4 134.1" fill="none" stroke="#b8b4cc" stroke-width="1.4" opacity="0.8"/>
<path d="M186.3 136.2Q204.0 161.0 187.4 186.6" fill="none" stroke="#d2ccce" stroke-width="0.7" opacity="0.8"/>
<path d="M216.3 188.9Q204.0 161.0 229.2 143.8" fill="none" stroke="#c0a0b0" stroke-width="0.7" opacity="0.8"/>
<path d="M216.2 133Q204.0 161.0 178.5 144.3" fill="none" stroke="#d2ccce" stroke-width="1.4" opacity="0.8"/>
<path d="M174 166.5Q204.0 161.0 231 175.1" fill="none" stroke="#bfb8bc" stroke-width="0.7" opacity="0.8"/>
<path d="M189.1 134.4Q204.0 161.0 183.8 183.8" fill="none" stroke="#bfb8bc" stroke-width="1" opacity="0.8"/>
<path d="M222 136.4Q204.0 161.0 176.3 173.8" fill="none" stroke="#c4bcc0" stroke-width="1" opacity="0.8"/>
<path d="M217.2 133.5Q204.0 161.0 174 166.7" fill="none" stroke="#c0a0b0" stroke-width="1" opacity="0.8"/>
<path d="M185.6 136.7Q204.0 161.0 219 134.4" fill="none" stroke="#d6b0b8" stroke-width="0.7" opacity="0.8"/>
<path d="M226.3 140.2Q204.0 161.0 184.4 184.3" fill="none" stroke="#d0cacc" stroke-width="1" opacity="0.8"/>
<path d="M209.3 191Q204.0 161.0 221.6 136.1" fill="none" stroke="#c0a0b0" stroke-width="2" opacity="0.8"/>
<path d="M183.9 184Q204.0 161.0 197.2 131.3" fill="none" stroke="#d6b0b8" stroke-width="0.7" opacity="0.8"/>
<path d="M173.6 164Q204.0 161.0 232.8 150.8" fill="none" stroke="#d0cacc" stroke-width="0.7" opacity="0.8"/>
<path d="M233.1 170.1Q204.0 161.0 209.1 191.1" fill="none" stroke="#dca4ac" stroke-width="2" opacity="0.8"/>
<path d="M176.1 148.7Q204.0 161.0 231.4 174.4" fill="none" stroke="#c8c0c8" stroke-width="1.4" opacity="0.8"/>
<path d="M209.2 191.1Q204.0 161.0 174.4 168.5" fill="none" stroke="#c4bcc0" stroke-width="0.7" opacity="0.8"/>
<path d="M223.3 184.6Q204.0 161.0 181.1 140.8" fill="none" stroke="#c8c0c8" stroke-width="1" opacity="0.8"/>
<path d="M204.0 133.0L193.5 21.4L214.5 21.4Z" fill="#fff"/>
<text x="204" y="37.5" class="r11" text-anchor="middle">a</text>
<text x="204" y="49" class="r11" text-anchor="middle">b</text>
<text x="204" y="64" class="r11" text-anchor="middle">c</text>
<text x="204" y="79" class="r11" text-anchor="middle">d</text>
<text x="204" y="94" class="r11" text-anchor="middle">e</text>
<text x="204" y="109" class="r11" text-anchor="middle">f</text>
<text x="204" y="124" class="r11" text-anchor="middle">g</text>
<text x="260.2" y="37.7" class="b14" text-anchor="middle" dominant-baseline="central" transform="rotate(24.5 260.2 37.7)">chr01</text>
<text x="318.9" y="89.2" class="b14" text-anchor="middle" dominant-baseline="central" transform="rotate(58 318.9 89.2)">chr02</text>
<text x="339.4" y="155.3" class="b14" text-anchor="middle" dominant-baseline="central" transform="rotate(87.6 339.4 155.3)">chr03</text>
<text x="321.1" y="224.1" class="b14" text-anchor="middle" dominant-baseline="central" transform="rotate(-61.7 321.1 224.1)">chr04</text>
<text x="271.3" y="275.7" class="b14" text-anchor="middle" dominant-baseline="central" transform="rotate(-30.4 271.3 275.7)">chr05</text>
<text x="206.8" y="294" class="b14" text-anchor="middle" dominant-baseline="central" transform="rotate(-1.2 206.8 294)">chr06</text>
<text x="145.7" y="280.5" class="b14" text-anchor="middle" dominant-baseline="central" transform="rotate(26 145.7 280.5)">chr07</text>
<text x="94" y="235.8" class="b14" text-anchor="middle" dominant-baseline="central" transform="rotate(55.8 94 235.8)">chr08</text>
<text x="72" y="177.7" class="b14" text-anchor="middle" dominant-baseline="central" transform="rotate(82.8 72 177.7)">chr09</text>
<text x="79.3" y="108.1" class="b14" text-anchor="middle" dominant-baseline="central" transform="rotate(293 79.3 108.1)">chr10</text>
<text x="120" y="54.7" class="b14" text-anchor="middle" dominant-baseline="central" transform="rotate(321.7 120 54.7)">chr11</text>
<text x="168.5" y="30.2" class="b14" text-anchor="middle" dominant-baseline="central" transform="rotate(344.8 168.5 30.2)">chr12</text>
<text x="12" y="32.5" class="pl">A</text>
<text x="424" y="29.5" class="pl">B</text>
<text x="12" y="338" class="pl">C</text>
<text x="424" y="335.8" class="pl">D</text>
<text x="12" y="582.5" class="pl">E</text>
<text x="428" y="582" class="pl">F</text>
<text x="10" y="882" class="pl">G</text>
<text x="426" y="882" class="pl">H</text>
<g>
<line x1="514.0" y1="29" x2="514.0" y2="280" stroke="#c8c8c8" stroke-width="0.8" stroke-dasharray="1.2 3"/>
<line x1="614.0" y1="29" x2="614.0" y2="280" stroke="#c8c8c8" stroke-width="0.8" stroke-dasharray="1.2 3"/>
<line x1="714.0" y1="29" x2="714.0" y2="280" stroke="#c8c8c8" stroke-width="0.8" stroke-dasharray="1.2 3"/>
<line x1="501" y1="28" x2="501" y2="281" stroke="#333" stroke-width="1.4"/>
<line x1="500.3" y1="280.5" x2="788" y2="280.5" stroke="#333" stroke-width="1.4"/>
<line x1="497" y1="47.3" x2="501" y2="47.3" stroke="#333" stroke-width="1"/>
<text x="492.5" y="52.5" class="b15" text-anchor="end">Chr01</text>
<rect x="514.0" y="39.3" width="208" height="15.8" fill="#e3e3e3" stroke="#555" stroke-width="0.9"/>
<line x1="497" y1="66.9" x2="501" y2="66.9" stroke="#333" stroke-width="1"/>
<text x="492.5" y="72.1" class="b15" text-anchor="end">Chr02</text>
<rect x="514.0" y="58.9" width="262" height="15.8" fill="#e3e3e3" stroke="#555" stroke-width="0.9"/>
<line x1="497" y1="86.6" x2="501" y2="86.6" stroke="#333" stroke-width="1"/>
<text x="492.5" y="91.8" class="b15" text-anchor="end">Chr03</text>
<rect x="514.0" y="78.6" width="190" height="15.8" fill="#e3e3e3" stroke="#555" stroke-width="0.9"/>
<line x1="497" y1="106.2" x2="501" y2="106.2" stroke="#333" stroke-width="1"/>
<text x="492.5" y="111.5" class="b15" text-anchor="end">Chr04</text>
<rect x="514.0" y="98.2" width="208" height="15.8" fill="#e3e3e3" stroke="#555" stroke-width="0.9"/>
<line x1="497" y1="125.9" x2="501" y2="125.9" stroke="#333" stroke-width="1"/>
<text x="492.5" y="131.1" class="b15" text-anchor="end">Chr05</text>
<rect x="514.0" y="117.9" width="189" height="15.8" fill="#e3e3e3" stroke="#555" stroke-width="0.9"/>
<line x1="497" y1="145.6" x2="501" y2="145.6" stroke="#333" stroke-width="1"/>
<text x="492.5" y="150.8" class="b15" text-anchor="end">Chr06</text>
<rect x="514.0" y="137.6" width="181" height="15.8" fill="#e3e3e3" stroke="#555" stroke-width="0.9"/>
<line x1="497" y1="165.2" x2="501" y2="165.2" stroke="#333" stroke-width="1"/>
<text x="492.5" y="170.4" class="b15" text-anchor="end">Chr07</text>
<rect x="514.0" y="157.2" width="166" height="15.8" fill="#e3e3e3" stroke="#555" stroke-width="0.9"/>
<line x1="497" y1="184.8" x2="501" y2="184.8" stroke="#333" stroke-width="1"/>
<text x="492.5" y="190" class="b15" text-anchor="end">Chr08</text>
<rect x="514.0" y="176.8" width="178" height="15.8" fill="#e3e3e3" stroke="#555" stroke-width="0.9"/>
<line x1="497" y1="204.5" x2="501" y2="204.5" stroke="#333" stroke-width="1"/>
<text x="492.5" y="209.7" class="b15" text-anchor="end">Chr09</text>
<rect x="514.0" y="196.5" width="172" height="15.8" fill="#e3e3e3" stroke="#555" stroke-width="0.9"/>
<line x1="497" y1="224.1" x2="501" y2="224.1" stroke="#333" stroke-width="1"/>
<text x="492.5" y="229.3" class="b15" text-anchor="end">Chr10</text>
<rect x="514.0" y="216.1" width="188" height="15.8" fill="#e3e3e3" stroke="#555" stroke-width="0.9"/>
<line x1="497" y1="243.8" x2="501" y2="243.8" stroke="#333" stroke-width="1"/>
<text x="492.5" y="249" class="b15" text-anchor="end">Chr11</text>
<rect x="514.0" y="235.8" width="183" height="15.8" fill="#e3e3e3" stroke="#555" stroke-width="0.9"/>
<line x1="497" y1="263.4" x2="501" y2="263.4" stroke="#333" stroke-width="1"/>
<text x="492.5" y="268.6" class="b15" text-anchor="end">Chr12</text>
<rect x="514.0" y="255.4" width="130" height="15.8" fill="#e3e3e3" stroke="#555" stroke-width="0.9"/>
<line x1="514.0" y1="280.5" x2="514.0" y2="284" stroke="#333" stroke-width="1"/>
<line x1="614.0" y1="280.5" x2="614.0" y2="284" stroke="#333" stroke-width="1"/>
<line x1="714.0" y1="280.5" x2="714.0" y2="284" stroke="#333" stroke-width="1"/>
<text x="515" y="300" class="b153" text-anchor="middle">0</text>
<text x="591.5" y="300" class="b153">100 Mb</text>
<text x="670.4" y="300" class="b153">200 Mb</text>
<rect x="606.3" y="39.9" width="7.5" height="14.6" fill="#7ab4d8"/>
<rect x="589" y="79.2" width="16" height="14.6" fill="#7ab4d8"/>
<rect x="703.5" y="98.8" width="3" height="14.6" fill="#7ab4d8"/>
<rect x="565.5" y="118.5" width="2.5" height="14.6" fill="#7ab4d8"/>
<rect x="614.5" y="138.2" width="16" height="14.6" fill="#7ab4d8"/>
<rect x="645" y="157.8" width="2" height="14.6" fill="#7ab4d8"/>
<rect x="642" y="177.4" width="2.5" height="14.6" fill="#7ab4d8"/>
<rect x="657" y="197.1" width="2" height="14.6" fill="#7ab4d8"/>
<rect x="603.5" y="216.7" width="2.5" height="14.6" fill="#7ab4d8"/>
<rect x="576.5" y="236.4" width="1.5" height="14.6" fill="#7ab4d8"/>
<rect x="561.5" y="256.1" width="2.5" height="14.6" fill="#7ab4d8"/>
<circle cx="514" cy="47.2" r="3.9" fill="#1a9a50"/>
<circle cx="721.5" cy="47.2" r="3.9" fill="#1a9a50"/>
<path d="M514 63.2L517.6 66.8L514 70.4L510.4 66.8Z" fill="#d8322a"/>
<path d="M522 63.2L525.6 66.8L522 70.4L518.4 66.8Z" fill="#d8322a"/>
<path d="M637 63.2L640.6 66.8L637 70.4L633.4 66.8Z" fill="#d8322a"/>
<path d="M700 63.2L703.6 66.8L700 70.4L696.4 66.8Z" fill="#d8322a"/>
<path d="M734 63.2L737.6 66.8L734 70.4L730.4 66.8Z" fill="#d8322a"/>
<circle cx="776" cy="66.8" r="3.9" fill="#1a9a50"/>
<path d="M514 82.9L517.6 86.5L514 90.1L510.4 86.5Z" fill="#d8322a"/>
<circle cx="704" cy="86.5" r="3.9" fill="#1a9a50"/>
<path d="M705 102.6L708.6 106.2L705 109.8L701.4 106.2Z" fill="#d8322a"/>
<circle cx="721.5" cy="106.2" r="3.9" fill="#1a9a50"/>
<circle cx="514" cy="125.8" r="3.9" fill="#1a9a50"/>
<circle cx="703" cy="125.8" r="3.9" fill="#1a9a50"/>
<path d="M514 141.9L517.6 145.5L514 149.1L510.4 145.5Z" fill="#d8322a"/>
<path d="M570 161.5L573.6 165.1L570 168.7L566.4 165.1Z" fill="#d8322a"/>
<path d="M674 161.5L677.6 165.1L674 168.7L670.4 165.1Z" fill="#d8322a"/>
<circle cx="514" cy="165.1" r="3.9" fill="#1a9a50"/>
<circle cx="680" cy="165.1" r="3.9" fill="#1a9a50"/>
<circle cx="514" cy="184.7" r="3.9" fill="#1a9a50"/>
<circle cx="692" cy="184.7" r="3.9" fill="#1a9a50"/>
<path d="M514 200.8L517.6 204.4L514 208L510.4 204.4Z" fill="#d8322a"/>
<path d="M566 200.8L569.6 204.4L566 208L562.4 204.4Z" fill="#d8322a"/>
<circle cx="685.5" cy="204.4" r="3.9" fill="#1a9a50"/>
<path d="M636.5 220.4L640.1 224L636.5 227.6L632.9 224Z" fill="#d8322a"/>
<circle cx="514" cy="224" r="3.9" fill="#1a9a50"/>
<circle cx="701.5" cy="224" r="3.9" fill="#1a9a50"/>
<path d="M573 240.1L576.6 243.7L573 247.3L569.4 243.7Z" fill="#d8322a"/>
<path d="M575 240.1L578.6 243.7L575 247.3L571.4 243.7Z" fill="#d8322a"/>
<path d="M576 240.1L579.6 243.7L576 247.3L572.4 243.7Z" fill="#d8322a"/>
<path d="M630.5 240.1L634.1 243.7L630.5 247.3L626.9 243.7Z" fill="#d8322a"/>
<path d="M657.5 240.1L661.1 243.7L657.5 247.3L653.9 243.7Z" fill="#d8322a"/>
<circle cx="696.5" cy="243.7" r="3.9" fill="#1a9a50"/>
<path d="M514 259.7L517.6 263.3L514 266.9L510.4 263.3Z" fill="#d8322a"/>
<circle cx="643.5" cy="263.3" r="3.9" fill="#1a9a50"/>
<path d="M718.8 167.8L723 172L718.8 176.2L714.6 172Z" fill="#d8322a"/>
<text x="725.5" y="176.5" class="b124">Gap</text>
<circle cx="718.8" cy="193" r="4.6" fill="#1a9a50"/>
<text x="725.5" y="197.8" class="b124">Telomere</text>
<rect x="713.8" y="210.5" width="9.2" height="8.3" fill="#7ab4d8"/>
<text x="725.5" y="219" class="b124">Centromere</text>
</g>
<g stroke="#000" stroke-width="3" fill="none" stroke-linecap="butt">
<path d="M55 349H81.5" stroke-width="4"/><path d="M56 345.5V352.5M80.5 345.5V352.5" stroke-width="2"/>
<path d="M40.5 401.3H50M50 362.3V439M48.5 363.8H61M48.5 437.5H60.5M59 404.2V469.5M57.5 405.7H89M87.5 389.8V421.5M86 391.3H95M86 420H95M57.5 468H192.2M190.7 446V504.5M189.2 447.5H199M189.2 475.5H199M189.2 503H199"/>
</g>
<g stroke="#a8a8a8" stroke-width="3" stroke-dasharray="8 9.5">
<path d="M67 365H200M102.5 392H200M102.5 420H200"/>
</g>
<text x="88" y="352.5" class="b14">Tree scale: 0.1</text>
<text x="208.3" y="367" class="b14"><tspan font-style="italic">L.yunnannese</tspan></text>
<text x="208.3" y="393.6" class="b14"><tspan font-style="italic">L.chinese</tspan></text>
<text x="206.7" y="422" class="b14"><tspan font-style="italic">L.barbarum</tspan></text>
<text x="206.7" y="449.5" class="b14"><tspan font-style="italic">L.ruthenicum</tspan><tspan> (Black Goji)</tspan></text>
<text x="205.6" y="475.3" class="b14"><tspan font-style="italic">L.ruthenicum</tspan><tspan> (White Goji)</tspan></text>
<text x="206.7" y="503.6" class="b14"><tspan font-style="italic">L.ruthenicum</tspan><tspan> (Purple Goji)</tspan></text>
<ellipse cx="616.5" cy="395.6" rx="42.3" ry="25.6" fill="#b2bfee"/>
<ellipse cx="656.9" cy="395.9" rx="35.2" ry="21.7" fill="#caa8d4"/>
<clipPath id="cpd"><ellipse cx="616.5" cy="395.6" rx="42.3" ry="25.6"/></clipPath>
<ellipse cx="656.9" cy="395.9" rx="35.2" ry="21.7" fill="#a690cc" clip-path="url(#cpd)"/>
<ellipse cx="642" cy="446.3" rx="34.2" ry="20" fill="#b2bfee"/>
<ellipse cx="642.3" cy="455" rx="19.8" ry="11.3" fill="#a690cc"/>
<text x="534.5" y="395" class="b117" text-anchor="middle">SNPs and</text>
<text x="534.5" y="408.8" class="b117" text-anchor="middle">Indels</text>
<text x="534" y="445" class="b117" text-anchor="middle">SVs</text>
<text x="602" y="401.3" class="b12" text-anchor="middle">277</text>
<text x="638" y="401.3" class="b12" text-anchor="middle">122</text>
<text x="673" y="401.3" class="b12" text-anchor="middle">155</text>
<text x="641.5" y="440" class="b12" text-anchor="middle">3</text>
<text x="641.5" y="458.5" class="b12" text-anchor="middle">1</text>
<circle cx="575.5" cy="489.3" r="6.6" fill="#8fa8dc"/>
<text x="585" y="493.8" class="b117">White Goji</text>
<circle cx="656.3" cy="489.3" r="6.6" fill="#c89ccc"/>
<text x="665.5" y="493.8" class="b117">Purple Goji</text>
<defs>
<radialGradient id="gPur" cx="0.3" cy="0.45" r="0.75"><stop offset="0" stop-color="#b050c0"/><stop offset="0.5" stop-color="#8c38a4"/><stop offset="0.85" stop-color="#5a2a70"/><stop offset="1" stop-color="#4a3a58"/></radialGradient>
<radialGradient id="gBlk" cx="0.45" cy="0.4" r="0.7"><stop offset="0" stop-color="#2c1e36"/><stop offset="0.7" stop-color="#1a1224"/><stop offset="1" stop-color="#0c0810"/></radialGradient>
<radialGradient id="gPale" cx="0.35" cy="0.55" r="0.7"><stop offset="0" stop-color="#e6dada"/><stop offset="0.7" stop-color="#d6c4c8"/><stop offset="1" stop-color="#baa8b0"/></radialGradient>
<radialGradient id="gLeaf" cx="0.45" cy="0.45" r="0.65"><stop offset="0" stop-color="#d4e88c"/><stop offset="0.7" stop-color="#cbe07c"/><stop offset="1" stop-color="#b8d46a"/></radialGradient>
<radialGradient id="gCol" cx="0.5" cy="0.5" r="0.5"><stop offset="0" stop-color="#ddd2b8"/><stop offset="0.75" stop-color="#e6dcc0"/><stop offset="0.92" stop-color="#efe4c8"/><stop offset="1" stop-color="#d6caac"/></radialGradient>
<filter id="blur2" x="-30%" y="-30%" width="160%" height="160%"><feGaussianBlur stdDeviation="2.5"/></filter>
<filter id="blur1" x="-30%" y="-30%" width="160%" height="160%"><feGaussianBlur stdDeviation="0.8"/></filter>
<filter id="blur4" x="-30%" y="-30%" width="160%" height="160%"><feGaussianBlur stdDeviation="4"/></filter>
</defs>
<clipPath id="bc1"><path d="M205.3 584C209.08 586 220.4 591.45 220.4 601.8A15.1 13.8 0 0 1 190.2 601.8C190.2 591.45 201.53 586 205.3 584Z"/></clipPath>
<path d="M205.3 584C209.08 586 220.4 591.45 220.4 601.8A15.1 13.8 0 0 1 190.2 601.8C190.2 591.45 201.53 586 205.3 584Z" fill="url(#gPur)"/>
<path clip-path="url(#bc1)" d="M188.2 584H222.4V592.8Q209.83 591.6 205.3 590.1Q197.75 589.2 188.2 593.4Z" fill="#a8b86a"/>
<path d="M205.12 546.2L206.88 546.2L205.22 573.8Q204.52 581 210.14 587L200.46 587Q201.88 581 202.58 573.8Z" fill="#a0b86e"/>
<path d="M120.4 695.8Q117 705 116.5 718" stroke="#98b868" stroke-width="2.2" fill="none"/>
<path d="M118.5 716C103 715.5 96.8 722 96.8 731C96.8 741 106 746.5 114 746.5Q118.5 748 123 746.5C132 746 140.2 740 140.2 730C140.2 721 133 715.5 118.5 716Z" fill="url(#gBlk)"/>
<path d="M104 724Q110 720 117 722" stroke="#5a4a66" stroke-width="1.2" fill="none" opacity="0.6"/>
<clipPath id="bc2"><path d="M206.3 722.6C210.35 724.6 222.5 729.85 222.5 739.6A16.2 13 0 0 1 190.1 739.6C190.1 729.85 202.25 724.6 206.3 722.6Z"/></clipPath>
<path d="M206.3 722.6C210.35 724.6 222.5 729.85 222.5 739.6A16.2 13 0 0 1 190.1 739.6C190.1 729.85 202.25 724.6 206.3 722.6Z" fill="url(#gPur)"/>
<path clip-path="url(#bc2)" d="M188.1 722.6H224.5V730.6Q211.16 729.6 206.3 728.35Q198.2 727.6 188.1 731.1Z" fill="#a8b86a"/>
<path d="M205.37 684.75L207.13 684.75L208.51 712.69Q208.82 720 211.14 726L201.46 726Q206.18 720 205.87 712.69Z" fill="#a0b86e"/>
<clipPath id="bc3"><path d="M300.3 717.7C304.15 719.7 315.7 725.15 315.7 735.5A15.4 13.8 0 0 1 284.9 735.5C284.9 725.15 296.45 719.7 300.3 717.7Z"/></clipPath>
<path d="M300.3 717.7C304.15 719.7 315.7 725.15 315.7 735.5A15.4 13.8 0 0 1 284.9 735.5C284.9 725.15 296.45 719.7 300.3 717.7Z" fill="url(#gPale)"/>
<path clip-path="url(#bc3)" d="M282.9 717.7H317.7V728.9Q304.92 727.1 300.3 724.85Q292.6 723.5 282.9 729.8Z" fill="#d4d89a"/>
<path d="M303.68 675.9L305.92 675.9L303.63 705.98Q302.68 714 306.46 720L294.14 720Q299.32 714 300.27 705.98Z" fill="#a0b86e"/>
<path d="M204.5 618.5V653" stroke="#000" stroke-width="3.2"/>
<path d="M198.2 643.5L204.5 654.5L210.8 643.5" stroke="#000" stroke-width="3.2" fill="none"/>
<text x="215.3" y="630.7" class="b155">selfing</text>
<path d="M107 673V656.8H302.6V672.4" stroke="#000" stroke-width="3.2" fill="none"/>
<text x="70" y="744.8" class="b145">37</text>
<text x="162.4" y="744.4" class="b145">96</text>
<text x="264" y="742.4" class="b145">43</text>
<rect x="69.6" y="758.8" width="87" height="3.8" fill="#585858"/>
<rect x="159.8" y="759" width="87.2" height="3.5" fill="#c478cc"/>
<rect x="251" y="759" width="4" height="3.6" fill="#111"/>
<rect x="263.6" y="759" width="9.4" height="3.6" fill="#111"/>
<rect x="281" y="759" width="9" height="3.6" fill="#111"/>
<rect x="298.4" y="759" width="9.6" height="3.6" fill="#111"/>
<rect x="315.6" y="759" width="9.4" height="3.6" fill="#111"/>
<rect x="333" y="759" width="5" height="3.6" fill="#111"/>
<rect x="52" y="769" width="288.5" height="75.4" fill="#2e2e2e"/>
<rect x="52" y="769" width="1" height="75.4" fill="#777"/>
<rect x="66" y="769" width="3" height="75.4" fill="#303030"/>
<rect x="77.43" y="769" width="3" height="75.4" fill="#303030"/>
<rect x="88.86" y="769" width="3" height="75.4" fill="#303030"/>
<rect x="100.29" y="769" width="3" height="75.4" fill="#303030"/>
<rect x="111.72" y="769" width="3" height="75.4" fill="#303030"/>
<rect x="123.15" y="769" width="3" height="75.4" fill="#303030"/>
<rect x="134.58" y="769" width="3" height="75.4" fill="#303030"/>
<rect x="146.01" y="769" width="3" height="75.4" fill="#303030"/>
<rect x="157.44" y="769" width="3" height="75.4" fill="#303030"/>
<rect x="168.87" y="769" width="3" height="75.4" fill="#303030"/>
<rect x="180.3" y="769" width="3" height="75.4" fill="#303030"/>
<rect x="191.73" y="769" width="3" height="75.4" fill="#303030"/>
<rect x="203.16" y="769" width="3" height="75.4" fill="#303030"/>
<rect x="214.59" y="769" width="3" height="75.4" fill="#303030"/>
<rect x="226.02" y="769" width="3" height="75.4" fill="#303030"/>
<rect x="237.45" y="769" width="3" height="75.4" fill="#303030"/>
<rect x="248.88" y="769" width="3" height="75.4" fill="#303030"/>
<rect x="260.31" y="769" width="3" height="75.4" fill="#303030"/>
<rect x="271.74" y="769" width="3" height="75.4" fill="#303030"/>
<rect x="283.17" y="769" width="3" height="75.4" fill="#303030"/>
<rect x="294.6" y="769" width="3" height="75.4" fill="#303030"/>
<rect x="306.03" y="769" width="3" height="75.4" fill="#303030"/>
<rect x="317.46" y="769" width="3" height="75.4" fill="#303030"/>
<rect x="328.89" y="769" width="3" height="75.4" fill="#303030"/>
<g filter="url(#blur1)">
<rect x="55" y="769.5" width="10" height="7" rx="2" fill="#f4f4f4" opacity="0.75"/>
<rect x="55" y="784.5" width="10" height="6" rx="2" fill="#f4f4f4" opacity="0.9"/>
<rect x="55" y="797.5" width="10" height="8" rx="2" fill="#f4f4f4" opacity="1"/>
<rect x="55" y="809" width="10" height="5" rx="2" fill="#f4f4f4" opacity="0.95"/>
<rect x="55" y="822.5" width="10" height="5" rx="2" fill="#f4f4f4" opacity="0.9"/>
<rect x="55" y="840" width="10" height="4" rx="2" fill="#f4f4f4" opacity="0.9"/>
<rect x="66.5" y="802.2" width="9" height="3.6" rx="1.5" fill="#b8b8b8" opacity="0.5"/>
<rect x="77.93" y="802.2" width="9" height="3.6" rx="1.5" fill="#b8b8b8" opacity="0.5"/>
<rect x="89.36" y="802.2" width="9" height="3.6" rx="1.5" fill="#b8b8b8" opacity="0.5"/>
<rect x="100.79" y="802.2" width="9" height="3.6" rx="1.5" fill="#b8b8b8" opacity="0.5"/>
<rect x="112.22" y="802.2" width="9" height="3.6" rx="1.5" fill="#b8b8b8" opacity="0.5"/>
<rect x="123.65" y="802.2" width="9" height="3.6" rx="1.5" fill="#b8b8b8" opacity="0.5"/>
<rect x="135.08" y="802.2" width="9" height="3.6" rx="1.5" fill="#b8b8b8" opacity="0.5"/>
<rect x="146.51" y="802.2" width="9" height="3.6" rx="1.5" fill="#b8b8b8" opacity="0.5"/>
<rect x="157.94" y="802.2" width="9" height="3.6" rx="1.5" fill="#b8b8b8" opacity="0.42"/>
<rect x="157.94" y="812" width="9" height="3.8" rx="1.5" fill="#d0d0d0" opacity="0.72"/>
<rect x="169.37" y="802.2" width="9" height="3.6" rx="1.5" fill="#b8b8b8" opacity="0.42"/>
<rect x="169.37" y="812" width="9" height="3.8" rx="1.5" fill="#d0d0d0" opacity="0.72"/>
<rect x="180.8" y="802.2" width="9" height="3.6" rx="1.5" fill="#b8b8b8" opacity="0.42"/>
<rect x="180.8" y="812" width="9" height="3.8" rx="1.5" fill="#d0d0d0" opacity="0.72"/>
<rect x="192.23" y="802.2" width="9" height="3.6" rx="1.5" fill="#b8b8b8" opacity="0.42"/>
<rect x="192.23" y="812" width="9" height="3.8" rx="1.5" fill="#d0d0d0" opacity="0.72"/>
<rect x="203.66" y="802.2" width="9" height="3.6" rx="1.5" fill="#b8b8b8" opacity="0.42"/>
<rect x="203.66" y="812" width="9" height="3.8" rx="1.5" fill="#d0d0d0" opacity="0.72"/>
<rect x="215.09" y="802.2" width="9" height="3.6" rx="1.5" fill="#b8b8b8" opacity="0.42"/>
<rect x="215.09" y="812" width="9" height="3.8" rx="1.5" fill="#d0d0d0" opacity="0.72"/>
<rect x="226.52" y="802.2" width="9" height="3.6" rx="1.5" fill="#b8b8b8" opacity="0.42"/>
<rect x="226.52" y="812" width="9" height="3.8" rx="1.5" fill="#d0d0d0" opacity="0.72"/>
<rect x="237.95" y="802.2" width="9" height="3.6" rx="1.5" fill="#b8b8b8" opacity="0.42"/>
<rect x="237.95" y="812" width="9" height="3.8" rx="1.5" fill="#d0d0d0" opacity="0.72"/>
<rect x="249.38" y="812" width="9" height="3.8" rx="1.5" fill="#d0d0d0" opacity="0.72"/>
<rect x="260.81" y="812" width="9" height="3.8" rx="1.5" fill="#d0d0d0" opacity="0.72"/>
<rect x="272.24" y="812" width="9" height="3.8" rx="1.5" fill="#d0d0d0" opacity="0.72"/>
<rect x="283.67" y="812" width="9" height="3.8" rx="1.5" fill="#d0d0d0" opacity="0.72"/>
<rect x="295.1" y="812" width="9" height="3.8" rx="1.5" fill="#d0d0d0" opacity="0.72"/>
<rect x="306.53" y="812" width="9" height="3.8" rx="1.5" fill="#d0d0d0" opacity="0.72"/>
<rect x="317.96" y="812" width="9" height="3.8" rx="1.5" fill="#d0d0d0" opacity="0.72"/>
<rect x="329.39" y="812" width="9" height="3.8" rx="1.5" fill="#d0d0d0" opacity="0.72"/>
</g>
<text x="116" y="818" class="b125w">669bp</text>
<text x="249.6" y="806.4" class="b125w">898bp</text>
<path d="M575.5 586.5C581.12 585.75 585.25 585.58 591.25 589C597.25 592.42 605.5 600.62 611.5 607C617.5 613.38 622 619.75 627.25 627.25C632.5 634.75 638.88 643 643 652C647.12 661 649.75 671.88 652 681.25C654.25 690.62 655.57 698.88 656.5 708.25C657.43 717.62 657.98 727.75 657.6 737.5C657.23 747.25 656.31 758.12 654.25 766.75C652.19 775.38 649.38 782.88 645.25 789.25C641.12 795.62 636.62 801.06 629.5 805C622.38 808.94 610 811.4 602.5 812.9C595 814.4 589.38 814.19 584.5 814C579.62 813.81 577.75 812.5 573.25 811.75C568.75 811 563.88 811 557.5 809.5C551.12 808 542.12 806.12 535 802.75C527.88 799.38 519.82 795.25 514.75 789.25C509.68 783.25 506.85 775.38 504.6 766.75C502.35 758.12 501.62 746.88 501.25 737.5C500.88 728.12 501.65 719.88 502.4 710.5C503.15 701.12 504.44 690.62 505.75 681.25C507.06 671.88 508 662.88 510.25 654.25C512.5 645.62 515.12 637 519.25 629.5C523.38 622 528.62 615.25 535 609.25C541.38 603.25 550.75 597.29 557.5 593.5C564.25 589.71 569.88 587.25 575.5 586.5Z" fill="#c4e068"/>
<clipPath id="cpLeaf"><path d="M575.5 586.5C581.12 585.75 585.25 585.58 591.25 589C597.25 592.42 605.5 600.62 611.5 607C617.5 613.38 622 619.75 627.25 627.25C632.5 634.75 638.88 643 643 652C647.12 661 649.75 671.88 652 681.25C654.25 690.62 655.57 698.88 656.5 708.25C657.43 717.62 657.98 727.75 657.6 737.5C657.23 747.25 656.31 758.12 654.25 766.75C652.19 775.38 649.38 782.88 645.25 789.25C641.12 795.62 636.62 801.06 629.5 805C622.38 808.94 610 811.4 602.5 812.9C595 814.4 589.38 814.19 584.5 814C579.62 813.81 577.75 812.5 573.25 811.75C568.75 811 563.88 811 557.5 809.5C551.12 808 542.12 806.12 535 802.75C527.88 799.38 519.82 795.25 514.75 789.25C509.68 783.25 506.85 775.38 504.6 766.75C502.35 758.12 501.62 746.88 501.25 737.5C500.88 728.12 501.65 719.88 502.4 710.5C503.15 701.12 504.44 690.62 505.75 681.25C507.06 671.88 508 662.88 510.25 654.25C512.5 645.62 515.12 637 519.25 629.5C523.38 622 528.62 615.25 535 609.25C541.38 603.25 550.75 597.29 557.5 593.5C564.25 589.71 569.88 587.25 575.5 586.5Z"/></clipPath>
<g clip-path="url(#cpLeaf)">
<g filter="url(#blur4)">
<ellipse cx="590" cy="618" rx="32" ry="24" fill="#d8e890" opacity="0.9"/>
<ellipse cx="530" cy="700" rx="22" ry="40" fill="#cce872" opacity="0.7"/>
<ellipse cx="630" cy="710" rx="20" ry="25" fill="#d0ec70" opacity="0.8"/>
<ellipse cx="540" cy="785" rx="30" ry="18" fill="#cce676" opacity="0.7"/>
<ellipse cx="560" cy="643" rx="21" ry="22" fill="#a6c458" opacity="0.8"/>
<path d="M505 735Q530 715 565 705Q575 730 560 745Q540 750 505 760Z" fill="#acce5c" opacity="0.7"/>
</g>
<g filter="url(#blur1)">
<path d="M616 643C620.5 640.75 626.88 643 629.5 645.25C632.12 647.5 632.12 651.62 631.75 656.5C631.38 661.38 629.12 668.5 627.25 674.5C625.38 680.5 623.88 687.25 620.5 692.5C617.12 697.75 610.75 703 607 706C603.25 709 601.38 710.5 598 710.5C594.62 710.5 589 709.75 586.75 706C584.5 702.25 584.12 693.25 584.5 688C584.88 682.75 586 679.38 589 674.5C592 669.62 598 664 602.5 658.75C607 653.5 611.5 645.25 616 643Z" fill="#84786a"/>
</g>
<g filter="url(#blur2)">
<path d="M575.5 778C577 773.5 581.5 765.25 586.75 760C592 754.75 599.88 750.25 607 746.5C614.12 742.75 622.75 738.25 629.5 737.5C636.25 736.75 643.75 739 647.5 742C651.25 745 652.38 751.38 652 755.5C651.62 759.62 649 763.75 645.25 766.75C641.5 769.75 635.12 772 629.5 773.5C623.88 775 618.25 774.25 611.5 775.75C604.75 777.25 594.62 780.62 589 782.5C583.38 784.38 580 787.75 577.75 787C575.5 786.25 574 782.5 575.5 778Z" fill="#8a7e5e" opacity="0.9"/>
<ellipse cx="622" cy="756" rx="15" ry="13" fill="#7e6e58" opacity="0.8"/>
</g>
<path d="M577 590Q583 630 582 670Q581 710 580 737Q577 775 574 794Q572 805 571 814" stroke="#d8ec90" stroke-width="1.3" fill="none"/>
<path d="M582 668Q558 674 544 656Q533 638 541 612M582 668Q600 650 627 630M581 700Q545 690 508 678M580 737Q555 722 505 712M580 732Q605 712 650 678M578 760Q610 740 655 730M575 790Q600 775 650 770M574 800Q550 790 515 790M579 748Q550 740 510 745" stroke="#d8ee88" stroke-width="1" fill="none" opacity="0.85"/>
</g>
<ellipse cx="563.8" cy="644.8" rx="3.2" ry="2.6" fill="#f4f0d8"/>
<circle cx="563.8" cy="644.8" r="17.3" fill="none" stroke="#111" stroke-width="2" stroke-dasharray="5.2 3.4"/>
<ellipse cx="612.5" cy="675.2" rx="3.2" ry="2.6" fill="#f4f0d8"/>
<circle cx="612.5" cy="675.2" r="17.3" fill="none" stroke="#111" stroke-width="2" stroke-dasharray="5.2 3.4"/>
<ellipse cx="555" cy="724.3" rx="3.2" ry="2.6" fill="#f4f0d8"/>
<circle cx="555" cy="724.3" r="17.3" fill="none" stroke="#111" stroke-width="2" stroke-dasharray="5.2 3.4"/>
<ellipse cx="622.5" cy="755.8" rx="3.2" ry="2.6" fill="#f4f0d8"/>
<circle cx="622.5" cy="755.8" r="17.3" fill="none" stroke="#111" stroke-width="2" stroke-dasharray="5.2 3.4"/>
<text x="505.6" y="644.5" class="bi138" text-anchor="middle">AN1</text>
<text x="506" y="661.3" class="b138" text-anchor="middle">(2.85±0.56)</text>
<text x="670" y="668.6" class="bi138" text-anchor="middle">AN1+AN2</text>
<text x="670" y="684.4" class="b138" text-anchor="middle">(17.54±1.23)</text>
<text x="505" y="734" class="b138" text-anchor="middle">CK</text>
<text x="503.3" y="750" class="b138" text-anchor="middle">(3.12±0.75)</text>
<text x="676" y="762" class="bi138" text-anchor="middle">AN2</text>
<text x="676" y="778" class="b138" text-anchor="middle">(10.15±0.27)</text>
<path d="M104.3 890V1046M97.5 891.3H104.3M97.5 941.8H104.3M97.5 993.8H104.3M97.5 1044.4H104.3" stroke="#000" stroke-width="2.8" fill="none"/>
<path d="M102.9 1044.5H333.5" stroke="#000" stroke-width="3"/>
<path d="M127.5 1044V1051.5M173.4 1044V1051.5M219.4 1044V1051.5M265.2 1044V1051.5M310.9 1044V1051.5" stroke="#000" stroke-width="2.8"/>
<text x="75.7" y="896.6" class="b126">15</text>
<text x="75.7" y="913.6" class="b126">0</text>
<text x="75.7" y="945.6" class="b126">100</text>
<text x="83.5" y="998.5" class="b126">50</text>
<text x="90.5" y="1049.9" class="b126">0</text>
<text x="65.6" y="967.3" class="b14" text-anchor="middle" dominant-baseline="central" transform="rotate(90 65.6 967.3)">Relative exprssion level</text>
<path d="M127.5 1043.78L173.4 1043.17L219.4 1040.81L265.2 1031.07L310.9 931.62" stroke="#b02ad8" stroke-width="1.5" fill="none"/>
<path d="M310.9 916.75V946.48M307.4 916.75H314.4M307.4 946.48H314.4" stroke="#b02ad8" stroke-width="1.6" fill="none"/>
<path d="M265.2 1020.82V1041.32M261.7 1020.82H268.7M261.7 1041.32H268.7" stroke="#b02ad8" stroke-width="1.6" fill="none"/>
<circle cx="127.5" cy="1043.78" r="4" fill="#b02ad8"/>
<circle cx="173.4" cy="1043.17" r="4" fill="#b02ad8"/>
<circle cx="219.4" cy="1040.81" r="4" fill="#b02ad8"/>
<circle cx="265.2" cy="1031.07" r="4" fill="#b02ad8"/>
<circle cx="310.9" cy="931.62" r="4" fill="#b02ad8"/>
<path d="M127.5 1043.99L173.4 1043.48L219.4 1041.84L265.2 1042.35L310.9 1023.89" stroke="#b02ad8" stroke-width="1.5" fill="none"/>
<rect x="123.9" y="1040.39" width="7.2" height="7.2" fill="#b02ad8"/>
<rect x="169.8" y="1039.88" width="7.2" height="7.2" fill="#b02ad8"/>
<rect x="215.8" y="1038.24" width="7.2" height="7.2" fill="#b02ad8"/>
<rect x="261.6" y="1038.75" width="7.2" height="7.2" fill="#b02ad8"/>
<rect x="307.3" y="1020.29" width="7.2" height="7.2" fill="#b02ad8"/>
<path d="M127.5 1043.37L173.4 1042.35L219.4 1036.2L265.2 1012.62L310.9 1003.39" stroke="#1818e0" stroke-width="1.8" fill="none"/>
<path d="M265.2 1005.44V1019.79M261.7 1005.44H268.7M261.7 1019.79H268.7" stroke="#1818e0" stroke-width="1.6" fill="none"/>
<path d="M310.9 1000.31V1006.46M307.4 1000.31H314.4M307.4 1006.46H314.4" stroke="#1818e0" stroke-width="1.6" fill="none"/>
<rect x="123.9" y="1039.77" width="7.2" height="7.2" fill="#1818e0"/>
<rect x="169.8" y="1038.75" width="7.2" height="7.2" fill="#1818e0"/>
<rect x="215.8" y="1032.6" width="7.2" height="7.2" fill="#1818e0"/>
<rect x="261.6" y="1009.02" width="7.2" height="7.2" fill="#1818e0"/>
<rect x="307.3" y="999.79" width="7.2" height="7.2" fill="#1818e0"/>
<path d="M127.5 1043.78L173.4 1043.58L219.4 1043.37L265.2 1043.37L310.9 1043.37" stroke="#1818e0" stroke-width="2.2" fill="none"/>
<circle cx="127.5" cy="1043.78" r="4" fill="#1818e0"/>
<circle cx="173.4" cy="1043.58" r="4" fill="#1818e0"/>
<circle cx="219.4" cy="1043.37" r="4" fill="#1818e0"/>
<circle cx="265.2" cy="1043.37" r="4" fill="#1818e0"/>
<circle cx="310.9" cy="1043.37" r="4" fill="#1818e0"/>
<path d="M127.5 902.5H144.5" stroke="#1818e0" stroke-width="1.8"/>
<ellipse cx="136.3" cy="902.5" rx="4.2" ry="4.6" fill="#1818e0"/>
<text x="147" y="907.5" class="b135">AN1W</text>
<path d="M127.5 920.8H144.5" stroke="#1818e0" stroke-width="1.8"/>
<rect x="132.3" y="916.5" width="8" height="8.6" fill="#1818e0"/>
<text x="147" y="925.8" class="b135">AN2W</text>
<path d="M127.5 941.3H144.5" stroke="#b02ad8" stroke-width="1.8"/>
<ellipse cx="136.3" cy="941.3" rx="4.2" ry="4.6" fill="#b02ad8"/>
<text x="147" y="946.3" class="b135">AN1B</text>
<path d="M127.5 958.3H144.5" stroke="#b02ad8" stroke-width="1.8"/>
<rect x="132.3" y="954" width="8" height="8.6" fill="#b02ad8"/>
<text x="147" y="963.3" class="b135">AN2B</text>
<text x="126.3" y="1063.4" class="b12" text-anchor="middle">S1</text>
<text x="173.4" y="1063.8" class="b12" text-anchor="middle">S2</text>
<text x="219.4" y="1064" class="b12" text-anchor="middle">S3</text>
<text x="264.9" y="1065" class="b12" text-anchor="middle">S4</text>
<text x="311.2" y="1063.4" class="b12" text-anchor="middle">S5</text>
<text x="214" y="1130" class="b117" text-anchor="middle">Growth Stage</text>
<path d="M116.8 1065Q114.7 1068.6 113.8 1072" stroke="#a4b878" stroke-width="1.3" fill="none"/>
<path d="M113.8 1071C114.62 1071.75 117.1 1073.25 117.1 1075.5A3.3 3 0 0 1 110.5 1075.5C110.5 1073.25 112.97 1071.75 113.8 1071Z" fill="#86a040"/>
<ellipse cx="114.3" cy="1076.25" rx="2.31" ry="1.8" fill="#6a8430" opacity="0.5"/>
<path d="M122.9 1065Q122.2 1068.6 121.9 1072" stroke="#a4b878" stroke-width="1.3" fill="none"/>
<path d="M121.9 1071C122.73 1071.75 125.2 1073.25 125.2 1075.5A3.3 3 0 0 1 118.6 1075.5C118.6 1073.25 121.08 1071.75 121.9 1071Z" fill="#86a040"/>
<ellipse cx="122.4" cy="1076.25" rx="2.31" ry="1.8" fill="#6a8430" opacity="0.5"/>
<path d="M129.5 1065Q130.2 1068.6 130.5 1072" stroke="#a4b878" stroke-width="1.3" fill="none"/>
<path d="M130.5 1071C131.32 1071.75 133.8 1073.25 133.8 1075.5A3.3 3 0 0 1 127.2 1075.5C127.2 1073.25 129.68 1071.75 130.5 1071Z" fill="#86a040"/>
<ellipse cx="131" cy="1076.25" rx="2.31" ry="1.8" fill="#6a8430" opacity="0.5"/>
<path d="M154.7 1062.5Q154.7 1066.1 154.7 1069.5" stroke="#a4b878" stroke-width="1.3" fill="none"/>
<path d="M154.7 1068.5C155.88 1069.5 159.4 1071.5 159.4 1074.5A4.7 4 0 0 1 150 1074.5C150 1071.5 153.52 1069.5 154.7 1068.5Z" fill="#6a7038"/>
<ellipse cx="155.41" cy="1075.5" rx="3.29" ry="2.4" fill="#4c5428" opacity="0.5"/>
<path d="M163.8 1062.5Q164.5 1066.1 164.8 1069.5" stroke="#a4b878" stroke-width="1.3" fill="none"/>
<path d="M164.8 1068.5C165.98 1069.5 169.5 1071.5 169.5 1074.5A4.7 4 0 0 1 160.1 1074.5C160.1 1071.5 163.62 1069.5 164.8 1068.5Z" fill="#6a7038"/>
<ellipse cx="165.51" cy="1075.5" rx="3.29" ry="2.4" fill="#4c5428" opacity="0.5"/>
<path d="M173.2 1062.5Q173.9 1066.1 174.2 1069.5" stroke="#a4b878" stroke-width="1.3" fill="none"/>
<path d="M174.2 1068.5C175.38 1069.5 178.9 1071.5 178.9 1074.5A4.7 4 0 0 1 169.5 1074.5C169.5 1071.5 173.02 1069.5 174.2 1068.5Z" fill="#6a7038"/>
<ellipse cx="174.91" cy="1075.5" rx="3.29" ry="2.4" fill="#4c5428" opacity="0.5"/>
<path d="M203 1063.1Q200.9 1066.7 200 1070.1" stroke="#a4b878" stroke-width="1.3" fill="none"/>
<path d="M200 1069.1C201.22 1069.85 204.9 1071.58 204.9 1074.5A4.9 3.9 0 0 1 195.1 1074.5C195.1 1071.58 198.78 1069.85 200 1069.1Z" fill="#80505a"/>
<ellipse cx="200.74" cy="1075.47" rx="3.43" ry="2.34" fill="#5a2c3c" opacity="0.5"/>
<path d="M209 1063.1Q209.7 1066.7 210 1070.1" stroke="#a4b878" stroke-width="1.3" fill="none"/>
<path d="M210 1069.1C211.22 1069.85 214.9 1071.58 214.9 1074.5A4.9 3.9 0 0 1 205.1 1074.5C205.1 1071.58 208.78 1069.85 210 1069.1Z" fill="#80505a"/>
<ellipse cx="210.74" cy="1075.47" rx="3.43" ry="2.34" fill="#5a2c3c" opacity="0.5"/>
<path d="M216 1063.1Q219.5 1066.7 221 1070.1" stroke="#a4b878" stroke-width="1.3" fill="none"/>
<path d="M221 1069.1C222.22 1069.85 225.9 1071.58 225.9 1074.5A4.9 3.9 0 0 1 216.1 1074.5C216.1 1071.58 219.78 1069.85 221 1069.1Z" fill="#80505a"/>
<ellipse cx="221.74" cy="1075.47" rx="3.43" ry="2.34" fill="#5a2c3c" opacity="0.5"/>
<path d="M246.3 1065.7Q245.6 1068.7 245.3 1071.7" stroke="#a4b878" stroke-width="1.3" fill="none"/>
<path d="M245.3 1070.7C246.48 1071.2 250 1072.65 250 1075.5A4.7 3.8 0 0 1 240.6 1075.5C240.6 1072.65 244.12 1071.2 245.3 1070.7Z" fill="#2a2634"/>
<ellipse cx="246.01" cy="1076.45" rx="3.29" ry="2.28" fill="#100c18" opacity="0.5"/>
<path d="M255.3 1065.7Q256 1068.7 256.3 1071.7" stroke="#a4b878" stroke-width="1.3" fill="none"/>
<path d="M256.3 1070.7C257.48 1071.2 261 1072.65 261 1075.5A4.7 3.8 0 0 1 251.6 1075.5C251.6 1072.65 255.12 1071.2 256.3 1070.7Z" fill="#2a2634"/>
<ellipse cx="257" cy="1076.45" rx="3.29" ry="2.28" fill="#100c18" opacity="0.5"/>
<path d="M263.8 1065.7Q266.6 1068.7 267.8 1071.7" stroke="#a4b878" stroke-width="1.3" fill="none"/>
<path d="M267.8 1070.7C268.98 1071.2 272.5 1072.65 272.5 1075.5A4.7 3.8 0 0 1 263.1 1075.5C263.1 1072.65 266.62 1071.2 267.8 1070.7Z" fill="#2a2634"/>
<ellipse cx="268.5" cy="1076.45" rx="3.29" ry="2.28" fill="#100c18" opacity="0.5"/>
<ellipse cx="296.3" cy="1075.5" rx="7.6" ry="5.6" fill="#1c1824"/><ellipse cx="312.5" cy="1077.8" rx="7.8" ry="5.4" fill="#1c1824"/><ellipse cx="330.3" cy="1071" rx="6.2" ry="6.8" fill="#1c1824"/>
<path d="M300 1070L306 1062M313 1072L313 1062M325 1066L317 1063" stroke="#a4b878" stroke-width="1.3"/>
<path d="M292 1073Q296 1071 300 1073M308 1075Q312 1073 316 1075" stroke="#5a5468" stroke-width="1" fill="none"/>
<path d="M118.2 1091.5Q117.5 1096.9 117.2 1101.5" stroke="#a4b878" stroke-width="1.3" fill="none"/>
<path d="M117.2 1100.5C118.03 1101.25 120.5 1102.8 120.5 1105.2A3.3 3.2 0 0 1 113.9 1105.2C113.9 1102.8 116.38 1101.25 117.2 1100.5Z" fill="#7c9838"/>
<ellipse cx="117.7" cy="1106" rx="2.31" ry="1.92" fill="#627a2a" opacity="0.5"/>
<path d="M125.4 1091.5Q124 1096.9 123.4 1101.5" stroke="#a4b878" stroke-width="1.3" fill="none"/>
<path d="M123.4 1100.5C124.23 1101.25 126.7 1102.8 126.7 1105.2A3.3 3.2 0 0 1 120.1 1105.2C120.1 1102.8 122.58 1101.25 123.4 1100.5Z" fill="#7c9838"/>
<ellipse cx="123.9" cy="1106" rx="2.31" ry="1.92" fill="#627a2a" opacity="0.5"/>
<path d="M130.5 1091.5Q130.5 1096.9 130.5 1101.5" stroke="#a4b878" stroke-width="1.3" fill="none"/>
<path d="M130.5 1100.5C131.32 1101.25 133.8 1102.8 133.8 1105.2A3.3 3.2 0 0 1 127.2 1105.2C127.2 1102.8 129.68 1101.25 130.5 1100.5Z" fill="#7c9838"/>
<ellipse cx="131" cy="1106" rx="2.31" ry="1.92" fill="#627a2a" opacity="0.5"/>
<path d="M151.6 1088Q151.6 1094 151.6 1099" stroke="#a4b878" stroke-width="1.3" fill="none"/>
<path d="M151.6 1098C152.92 1099 156.9 1101.2 156.9 1104.8A5.3 4.8 0 0 1 146.3 1104.8C146.3 1101.2 150.28 1099 151.6 1098Z" fill="#6e8c32"/>
<ellipse cx="152.39" cy="1106" rx="3.71" ry="2.88" fill="#5a7424" opacity="0.5"/>
<path d="M162.3 1088Q163 1094 163.3 1099" stroke="#a4b878" stroke-width="1.3" fill="none"/>
<path d="M163.3 1098C164.62 1099 168.6 1101.2 168.6 1104.8A5.3 4.8 0 0 1 158 1104.8C158 1101.2 161.98 1099 163.3 1098Z" fill="#6e8c32"/>
<ellipse cx="164.09" cy="1106" rx="3.71" ry="2.88" fill="#5a7424" opacity="0.5"/>
<path d="M170.2 1088Q173 1094 174.2 1099" stroke="#a4b878" stroke-width="1.3" fill="none"/>
<path d="M174.2 1098C175.52 1099 179.5 1101.2 179.5 1104.8A5.3 4.8 0 0 1 168.9 1104.8C168.9 1101.2 172.88 1099 174.2 1098Z" fill="#6e8c32"/>
<ellipse cx="174.99" cy="1106" rx="3.71" ry="2.88" fill="#5a7424" opacity="0.5"/>
<path d="M200 1087.7Q200 1093.7 200 1098.7" stroke="#a4b878" stroke-width="1.3" fill="none"/>
<path d="M200 1097.7C201.32 1098.7 205.3 1100.9 205.3 1104.5A5.3 4.8 0 0 1 194.7 1104.5C194.7 1100.9 198.68 1098.7 200 1097.7Z" fill="#aac462"/>
<ellipse cx="200.79" cy="1105.7" rx="3.71" ry="2.88" fill="#94b04c" opacity="0.5"/>
<path d="M210 1087.7Q210 1093.7 210 1098.7" stroke="#a4b878" stroke-width="1.3" fill="none"/>
<path d="M210 1097.7C211.32 1098.7 215.3 1100.9 215.3 1104.5A5.3 4.8 0 0 1 204.7 1104.5C204.7 1100.9 208.68 1098.7 210 1097.7Z" fill="#aac462"/>
<ellipse cx="210.79" cy="1105.7" rx="3.71" ry="2.88" fill="#94b04c" opacity="0.5"/>
<path d="M217.3 1087.7Q219.4 1093.7 220.3 1098.7" stroke="#a4b878" stroke-width="1.3" fill="none"/>
<path d="M220.3 1097.7C221.62 1098.7 225.6 1100.9 225.6 1104.5A5.3 4.8 0 0 1 215 1104.5C215 1100.9 218.98 1098.7 220.3 1097.7Z" fill="#aac462"/>
<ellipse cx="221.09" cy="1105.7" rx="3.71" ry="2.88" fill="#94b04c" opacity="0.5"/>
<path d="M246.3 1092.1Q246.3 1096.9 246.3 1101.1" stroke="#a4b878" stroke-width="1.3" fill="none"/>
<path d="M246.3 1100.1C247.53 1100.85 251.2 1102.65 251.2 1105.8A4.9 4.2 0 0 1 241.4 1105.8C241.4 1102.65 245.08 1100.85 246.3 1100.1Z" fill="#dedcc8"/>
<path d="M257.8 1092.1Q257.8 1096.9 257.8 1101.1" stroke="#a4b878" stroke-width="1.3" fill="none"/>
<path d="M257.8 1100.1C259.03 1100.85 262.7 1102.65 262.7 1105.8A4.9 4.2 0 0 1 252.9 1105.8C252.9 1102.65 256.57 1100.85 257.8 1100.1Z" fill="#dedcc8"/>
<path d="M267.4 1092.1Q268.8 1096.9 269.4 1101.1" stroke="#a4b878" stroke-width="1.3" fill="none"/>
<path d="M269.4 1100.1C270.62 1100.85 274.3 1102.65 274.3 1105.8A4.9 4.2 0 0 1 264.5 1105.8C264.5 1102.65 268.17 1100.85 269.4 1100.1Z" fill="#dedcc8"/>
<path d="M297.5 1089.3Q297.5 1094.7 297.5 1099.3" stroke="#a4b878" stroke-width="1.3" fill="none"/>
<path d="M297.5 1098.3C299.23 1099.05 304.4 1101.2 304.4 1105.4A6.9 5.6 0 0 1 290.6 1105.4C290.6 1101.2 295.77 1099.05 297.5 1098.3Z" fill="#e8e4e0"/>
<path d="M313 1089.3Q313 1094.7 313 1099.3" stroke="#a4b878" stroke-width="1.3" fill="none"/>
<path d="M313 1098.3C314.73 1099.05 319.9 1101.2 319.9 1105.4A6.9 5.6 0 0 1 306.1 1105.4C306.1 1101.2 311.27 1099.05 313 1098.3Z" fill="#e8e4e0"/>
<path d="M328 1089.3Q328.7 1094.7 329 1099.3" stroke="#a4b878" stroke-width="1.3" fill="none"/>
<path d="M329 1098.3C330.73 1099.05 335.9 1101.2 335.9 1105.4A6.9 5.6 0 0 1 322.1 1105.4C322.1 1101.2 327.27 1099.05 329 1098.3Z" fill="#e8e4e0"/>
<circle cx="305" cy="1109" r="1.2" fill="#b060a0"/>
<rect x="495" y="917" width="132" height="98" fill="#888474"/>
<rect x="627" y="917" width="131" height="98" fill="#737985"/>
<rect x="495" y="1014" width="131.5" height="80.5" fill="#6d7178"/>
<rect x="626.5" y="1014" width="131.5" height="80" fill="#6b7079"/>
<circle cx="517" cy="943.75" r="11.6" fill="url(#gCol)"/>
<circle cx="547.5" cy="943.75" r="11.6" fill="url(#gCol)"/>
<circle cx="577.5" cy="943.75" r="11.6" fill="url(#gCol)"/>
<circle cx="608.5" cy="943.75" r="11.6" fill="#ddd3b8"/>
<path d="M601.7 937.13h1.5v1.5h-1.5zM611.5 933.48h1.5v1.5h-1.5zM607.83 933.19h1.5v1.5h-1.5zM615.9 945.11h1.5v1.5h-1.5zM616.82 940.66h1.5v1.5h-1.5zM611.51 941.59h1.5v1.5h-1.5zM603.13 944.81h1.5v1.5h-1.5zM600.46 941.48h1.5v1.5h-1.5zM613.61 944.17h1.5v1.5h-1.5zM606.56 954.12h1.5v1.5h-1.5zM608.93 939.37h1.5v1.5h-1.5zM609.7 939.82h1.5v1.5h-1.5zM605.6 941.11h1.5v1.5h-1.5zM618.79 943.86h1.5v1.5h-1.5zM609.79 948.7h1.5v1.5h-1.5zM618.73 942.61h1.5v1.5h-1.5zM605.86 954.23h1.5v1.5h-1.5zM599.7 941.54h1.5v1.5h-1.5zM611.5 954.01h1.5v1.5h-1.5zM604.55 933.66h1.5v1.5h-1.5zM613.23 940.02h1.5v1.5h-1.5zM605.61 947.19h1.5v1.5h-1.5zM610.21 945.98h1.5v1.5h-1.5zM605.79 951.87h1.5v1.5h-1.5zM617.57 943.94h1.5v1.5h-1.5zM605.28 948.97h1.5v1.5h-1.5zM611.69 936.81h1.5v1.5h-1.5zM605.43 950.75h1.5v1.5h-1.5zM607.76 941.23h1.5v1.5h-1.5zM610.15 943.49h1.5v1.5h-1.5zM608.49 933.62h1.5v1.5h-1.5zM618.22 944.86h1.5v1.5h-1.5zM602.91 950h1.5v1.5h-1.5zM610.88 943.89h1.5v1.5h-1.5zM613.03 953.52h1.5v1.5h-1.5zM611.66 952.79h1.5v1.5h-1.5zM618.17 939.17h1.5v1.5h-1.5zM604.83 949.19h1.5v1.5h-1.5zM598.91 942.25h1.5v1.5h-1.5zM615.92 949.74h1.5v1.5h-1.5zM611.49 933.98h1.5v1.5h-1.5zM618.93 946.19h1.5v1.5h-1.5zM613.91 947.24h1.5v1.5h-1.5zM600.4 936.98h1.5v1.5h-1.5zM602.83 952.7h1.5v1.5h-1.5zM602.59 942.03h1.5v1.5h-1.5zM606.61 947.99h1.5v1.5h-1.5zM612.25 945.76h1.5v1.5h-1.5zM604.4 933.54h1.5v1.5h-1.5zM609.78 945.81h1.5v1.5h-1.5zM616.52 943.08h1.5v1.5h-1.5zM604.04 946.74h1.5v1.5h-1.5zM600.18 938.17h1.5v1.5h-1.5zM601.62 945.72h1.5v1.5h-1.5zM618.41 947.37h1.5v1.5h-1.5zM616.08 945.33h1.5v1.5h-1.5zM610.6 940.37h1.5v1.5h-1.5zM607.26 933.08h1.5v1.5h-1.5zM601.82 936.6h1.5v1.5h-1.5zM614.19 948.26h1.5v1.5h-1.5zM614.49 951.92h1.5v1.5h-1.5zM606.44 950.88h1.5v1.5h-1.5zM618.67 943.7h1.5v1.5h-1.5zM615.84 942.63h1.5v1.5h-1.5zM599.11 944.45h1.5v1.5h-1.5zM602.61 944.53h1.5v1.5h-1.5zM605.03 946.15h1.5v1.5h-1.5zM600.66 951.4h1.5v1.5h-1.5zM616.95 941.57h1.5v1.5h-1.5zM602.09 943.78h1.5v1.5h-1.5z" fill="#f0e8d2"/>
<path d="M613.12 946.64h1.1v1.1h-1.1zM610.44 934.22h1.1v1.1h-1.1zM602.54 950.83h1.1v1.1h-1.1zM609.85 935.16h1.1v1.1h-1.1zM603.82 935.95h1.1v1.1h-1.1zM602.77 950.38h1.1v1.1h-1.1zM607.1 950.89h1.1v1.1h-1.1zM609.57 935.14h1.1v1.1h-1.1zM605.74 953.52h1.1v1.1h-1.1zM603.81 937.32h1.1v1.1h-1.1zM616.2 944.31h1.1v1.1h-1.1zM608.46 952.31h1.1v1.1h-1.1zM599.32 945.93h1.1v1.1h-1.1zM602.9 936.3h1.1v1.1h-1.1zM603.67 950.59h1.1v1.1h-1.1zM607.77 934.28h1.1v1.1h-1.1zM602.86 951.5h1.1v1.1h-1.1zM614.42 937.43h1.1v1.1h-1.1zM618.6 942.22h1.1v1.1h-1.1zM600.95 942.89h1.1v1.1h-1.1zM613.3 952h1.1v1.1h-1.1zM615.16 940.98h1.1v1.1h-1.1zM605.31 935.49h1.1v1.1h-1.1zM607.97 939.46h1.1v1.1h-1.1zM610.01 935.94h1.1v1.1h-1.1z" fill="#b8ae98"/>
<circle cx="642.5" cy="943.75" r="9" fill="#8a8e96"/>
<circle cx="517" cy="987.5" r="11.6" fill="url(#gCol)"/>
<circle cx="547.5" cy="987.5" r="11.6" fill="url(#gCol)"/>
<circle cx="577.5" cy="987.5" r="11.6" fill="url(#gCol)"/>
<circle cx="608.5" cy="987.5" r="11.6" fill="#ddd3b8"/>
<path d="M604.88 981.33h1.5v1.5h-1.5zM601.59 980.7h1.5v1.5h-1.5zM602.4 980.41h1.5v1.5h-1.5zM612.84 988.26h1.5v1.5h-1.5zM600.22 990.72h1.5v1.5h-1.5zM610.26 996.45h1.5v1.5h-1.5zM606.97 985.85h1.5v1.5h-1.5zM603.34 988.43h1.5v1.5h-1.5zM612.3 988.84h1.5v1.5h-1.5zM606.57 991.78h1.5v1.5h-1.5zM609.23 989.45h1.5v1.5h-1.5zM601.86 988.97h1.5v1.5h-1.5zM602.04 982.03h1.5v1.5h-1.5zM609.3 997.94h1.5v1.5h-1.5zM615.52 987.53h1.5v1.5h-1.5zM607.24 994.44h1.5v1.5h-1.5zM616.03 994.15h1.5v1.5h-1.5zM607.03 988.99h1.5v1.5h-1.5zM605.93 985.28h1.5v1.5h-1.5zM602.34 985.7h1.5v1.5h-1.5zM599.08 982.25h1.5v1.5h-1.5zM611.48 981.02h1.5v1.5h-1.5zM611.9 979.35h1.5v1.5h-1.5zM605.67 990.54h1.5v1.5h-1.5zM601.68 982.81h1.5v1.5h-1.5zM618.95 984.62h1.5v1.5h-1.5zM603.43 983.38h1.5v1.5h-1.5zM608.77 987.29h1.5v1.5h-1.5zM614.96 992.7h1.5v1.5h-1.5zM605.4 984.76h1.5v1.5h-1.5zM601.35 979.94h1.5v1.5h-1.5zM603.35 992.59h1.5v1.5h-1.5zM609.38 993.38h1.5v1.5h-1.5zM615.19 986.33h1.5v1.5h-1.5zM618.72 984.95h1.5v1.5h-1.5zM603.87 984.32h1.5v1.5h-1.5zM616.21 986.57h1.5v1.5h-1.5zM603.13 990.65h1.5v1.5h-1.5zM616.19 986.74h1.5v1.5h-1.5zM606.78 994.91h1.5v1.5h-1.5zM614.76 993.52h1.5v1.5h-1.5zM602.91 989.58h1.5v1.5h-1.5zM610.48 977.68h1.5v1.5h-1.5zM616.51 988.17h1.5v1.5h-1.5zM606.91 998.04h1.5v1.5h-1.5zM609.59 982.15h1.5v1.5h-1.5zM608.02 991.81h1.5v1.5h-1.5zM614.45 987.08h1.5v1.5h-1.5zM602.59 982.73h1.5v1.5h-1.5zM603.25 980.74h1.5v1.5h-1.5zM608.34 983.71h1.5v1.5h-1.5zM608.89 981.47h1.5v1.5h-1.5zM602.25 986.17h1.5v1.5h-1.5zM606.17 995.18h1.5v1.5h-1.5zM602.04 988.97h1.5v1.5h-1.5zM608.23 979.03h1.5v1.5h-1.5zM613.89 988.76h1.5v1.5h-1.5zM598.36 990.41h1.5v1.5h-1.5zM614.7 982.23h1.5v1.5h-1.5zM618.18 988.39h1.5v1.5h-1.5zM600.99 991.17h1.5v1.5h-1.5zM606.22 979.04h1.5v1.5h-1.5zM598.05 988.7h1.5v1.5h-1.5zM603.31 992.05h1.5v1.5h-1.5zM611.42 983.58h1.5v1.5h-1.5zM605.61 997.12h1.5v1.5h-1.5zM617.72 991.56h1.5v1.5h-1.5zM606.03 980.68h1.5v1.5h-1.5zM606.3 996.98h1.5v1.5h-1.5zM612.02 985.28h1.5v1.5h-1.5z" fill="#f0e8d2"/>
<path d="M600.84 988.55h1.1v1.1h-1.1zM602.5 987.59h1.1v1.1h-1.1zM613.05 994.07h1.1v1.1h-1.1zM609.53 984.97h1.1v1.1h-1.1zM609.68 996.88h1.1v1.1h-1.1zM610.7 979.29h1.1v1.1h-1.1zM617.26 988.92h1.1v1.1h-1.1zM618.84 986.11h1.1v1.1h-1.1zM607.8 985.3h1.1v1.1h-1.1zM611.17 983.41h1.1v1.1h-1.1zM602.29 979.42h1.1v1.1h-1.1zM607.6 983.78h1.1v1.1h-1.1zM605.86 997.15h1.1v1.1h-1.1zM613.31 994.09h1.1v1.1h-1.1zM604.91 989.66h1.1v1.1h-1.1zM606.93 985.98h1.1v1.1h-1.1zM613.5 991.54h1.1v1.1h-1.1zM610.75 988.59h1.1v1.1h-1.1zM600.49 983.4h1.1v1.1h-1.1zM611.26 984.85h1.1v1.1h-1.1zM603.18 989.94h1.1v1.1h-1.1zM602.6 983.2h1.1v1.1h-1.1zM614.42 985.09h1.1v1.1h-1.1zM616.69 990.49h1.1v1.1h-1.1zM613.33 994.24h1.1v1.1h-1.1z" fill="#b8ae98"/>
<circle cx="642.5" cy="987.5" r="10.5" fill="url(#gCol)"/>
<circle cx="673.75" cy="987.5" r="10.5" fill="url(#gCol)"/>
<circle cx="707.5" cy="987.5" r="10.5" fill="#ddd3b8"/>
<path d="M697.99 987.15h1.5v1.5h-1.5zM700.1 984.84h1.5v1.5h-1.5zM706.88 994.88h1.5v1.5h-1.5zM707.27 996.14h1.5v1.5h-1.5zM703.87 987.11h1.5v1.5h-1.5zM708.09 993.55h1.5v1.5h-1.5zM707.15 983.29h1.5v1.5h-1.5zM705.65 979.64h1.5v1.5h-1.5zM714.51 991.66h1.5v1.5h-1.5zM710.46 989.41h1.5v1.5h-1.5zM703.45 984.79h1.5v1.5h-1.5zM712.45 982.67h1.5v1.5h-1.5zM703.54 995.48h1.5v1.5h-1.5zM715.85 989.06h1.5v1.5h-1.5zM711.16 988.78h1.5v1.5h-1.5zM715.36 985.06h1.5v1.5h-1.5zM708.07 990.85h1.5v1.5h-1.5zM715.52 986.11h1.5v1.5h-1.5zM709.1 984.13h1.5v1.5h-1.5zM703.3 983.31h1.5v1.5h-1.5zM708.04 993.23h1.5v1.5h-1.5zM703.05 983.64h1.5v1.5h-1.5zM704.73 989.92h1.5v1.5h-1.5zM711.42 980.49h1.5v1.5h-1.5zM709.7 981.31h1.5v1.5h-1.5zM711.77 981.74h1.5v1.5h-1.5zM701.19 983.35h1.5v1.5h-1.5zM707.11 981.24h1.5v1.5h-1.5zM708.99 988.54h1.5v1.5h-1.5zM708.08 989.39h1.5v1.5h-1.5zM712.81 983.06h1.5v1.5h-1.5zM707.51 987.29h1.5v1.5h-1.5zM698.26 989.25h1.5v1.5h-1.5zM702.72 983.05h1.5v1.5h-1.5zM704.42 988.18h1.5v1.5h-1.5zM709.74 990.79h1.5v1.5h-1.5zM703.13 991.89h1.5v1.5h-1.5zM710.34 984.84h1.5v1.5h-1.5zM707.37 992.75h1.5v1.5h-1.5zM710.32 992.04h1.5v1.5h-1.5zM708.14 994.4h1.5v1.5h-1.5zM716.9 989.42h1.5v1.5h-1.5zM700.93 994.59h1.5v1.5h-1.5zM704.38 979.93h1.5v1.5h-1.5zM697.95 989.21h1.5v1.5h-1.5zM713.52 993h1.5v1.5h-1.5zM705.41 995.42h1.5v1.5h-1.5zM706.98 983.5h1.5v1.5h-1.5zM707.98 989h1.5v1.5h-1.5zM707.84 990.27h1.5v1.5h-1.5zM699.5 993.23h1.5v1.5h-1.5zM703.84 991.7h1.5v1.5h-1.5zM702.3 988.56h1.5v1.5h-1.5zM706.56 979.1h1.5v1.5h-1.5zM710.03 991.68h1.5v1.5h-1.5zM702.96 978.96h1.5v1.5h-1.5zM703.52 982.31h1.5v1.5h-1.5zM708.28 987.38h1.5v1.5h-1.5zM715.67 990.79h1.5v1.5h-1.5zM705.71 988.63h1.5v1.5h-1.5zM698.03 984.53h1.5v1.5h-1.5zM701.64 986.8h1.5v1.5h-1.5zM709.71 988.98h1.5v1.5h-1.5zM713.12 983.35h1.5v1.5h-1.5zM709.63 986.59h1.5v1.5h-1.5zM707.59 989.74h1.5v1.5h-1.5zM705.55 988.97h1.5v1.5h-1.5zM707.28 993.86h1.5v1.5h-1.5zM706.72 989.62h1.5v1.5h-1.5zM717.06 989.8h1.5v1.5h-1.5z" fill="#f0e8d2"/>
<path d="M710.39 993.59h1.1v1.1h-1.1zM701.87 991.47h1.1v1.1h-1.1zM712.07 990.18h1.1v1.1h-1.1zM712.92 991.87h1.1v1.1h-1.1zM713.93 984.03h1.1v1.1h-1.1zM710.22 984.07h1.1v1.1h-1.1zM714.4 988.26h1.1v1.1h-1.1zM700.38 988.1h1.1v1.1h-1.1zM702.16 992.73h1.1v1.1h-1.1zM706.12 978.58h1.1v1.1h-1.1zM705.26 993.42h1.1v1.1h-1.1zM709.57 983.53h1.1v1.1h-1.1zM711.44 991.01h1.1v1.1h-1.1zM714.58 991.85h1.1v1.1h-1.1zM709.73 982.71h1.1v1.1h-1.1zM709.35 989.47h1.1v1.1h-1.1zM707.59 990.24h1.1v1.1h-1.1zM701.03 990.61h1.1v1.1h-1.1zM707.57 989.84h1.1v1.1h-1.1zM706.87 985.53h1.1v1.1h-1.1zM709.07 992.31h1.1v1.1h-1.1zM705.42 989.61h1.1v1.1h-1.1zM702.85 990.03h1.1v1.1h-1.1zM707.6 980.45h1.1v1.1h-1.1zM713.57 982.86h1.1v1.1h-1.1z" fill="#b8ae98"/>
<circle cx="739.25" cy="987.5" r="10.5" fill="#767c88"/>
<rect x="739.73" y="979.55" width="1.2" height="1.2" fill="#e8e8e8"/>
<rect x="730.38" y="990.87" width="1.2" height="1.2" fill="#e8e8e8"/>
<rect x="733.51" y="979" width="1.2" height="1.2" fill="#e8e8e8"/>
<rect x="738.04" y="978.79" width="1.2" height="1.2" fill="#e8e8e8"/>
<rect x="738.2" y="996.9" width="1.2" height="1.2" fill="#e8e8e8"/>
<rect x="736.45" y="990.05" width="1.2" height="1.2" fill="#e8e8e8"/>
<rect x="743.21" y="989.24" width="1.2" height="1.2" fill="#e8e8e8"/>
<rect x="738.57" y="996.11" width="1.2" height="1.2" fill="#e8e8e8"/>
<rect x="738.66" y="990.08" width="1.2" height="1.2" fill="#e8e8e8"/>
<rect x="739.93" y="979.69" width="1.2" height="1.2" fill="#e8e8e8"/>
<rect x="741.58" y="987.91" width="1.2" height="1.2" fill="#e8e8e8"/>
<rect x="743.54" y="992.08" width="1.2" height="1.2" fill="#e8e8e8"/>
<rect x="745.76" y="979.61" width="1.2" height="1.2" fill="#e8e8e8"/>
<rect x="735.4" y="984.23" width="1.2" height="1.2" fill="#e8e8e8"/>
<rect x="733.55" y="990.23" width="1.2" height="1.2" fill="#e8e8e8"/>
<rect x="738.68" y="988.53" width="1.2" height="1.2" fill="#e8e8e8"/>
<rect x="731.01" y="982.67" width="1.2" height="1.2" fill="#e8e8e8"/>
<rect x="738.78" y="984.29" width="1.2" height="1.2" fill="#e8e8e8"/>
<rect x="734.98" y="986.68" width="1.2" height="1.2" fill="#e8e8e8"/>
<rect x="737.48" y="980.71" width="1.2" height="1.2" fill="#e8e8e8"/>
<rect x="747.92" y="983.97" width="1.2" height="1.2" fill="#e8e8e8"/>
<rect x="743.61" y="991.5" width="1.2" height="1.2" fill="#e8e8e8"/>
<rect x="745.39" y="983.87" width="1.2" height="1.2" fill="#e8e8e8"/>
<rect x="732.86" y="990.31" width="1.2" height="1.2" fill="#e8e8e8"/>
<rect x="740.36" y="977.4" width="1.2" height="1.2" fill="#e8e8e8"/>
<rect x="729.13" y="985.4" width="1.2" height="1.2" fill="#e8e8e8"/>
<rect x="736.47" y="985.58" width="1.2" height="1.2" fill="#e8e8e8"/>
<rect x="741.92" y="981.25" width="1.2" height="1.2" fill="#e8e8e8"/>
<rect x="749.08" y="990.85" width="1.2" height="1.2" fill="#e8e8e8"/>
<rect x="747.06" y="989.14" width="1.2" height="1.2" fill="#e8e8e8"/>
<rect x="729.45" y="988.61" width="1.2" height="1.2" fill="#e8e8e8"/>
<rect x="735.44" y="990.54" width="1.2" height="1.2" fill="#e8e8e8"/>
<rect x="738.45" y="992.14" width="1.2" height="1.2" fill="#e8e8e8"/>
<rect x="733.45" y="985.1" width="1.2" height="1.2" fill="#e8e8e8"/>
<rect x="739.28" y="982.34" width="1.2" height="1.2" fill="#e8e8e8"/>
<rect x="736.13" y="991.7" width="1.2" height="1.2" fill="#e8e8e8"/>
<rect x="748.82" y="986.44" width="1.2" height="1.2" fill="#e8e8e8"/>
<rect x="744.09" y="980.82" width="1.2" height="1.2" fill="#e8e8e8"/>
<rect x="736.02" y="989.82" width="1.2" height="1.2" fill="#e8e8e8"/>
<rect x="742.86" y="981.1" width="1.2" height="1.2" fill="#e8e8e8"/>
<circle cx="517" cy="1033.25" r="11.6" fill="url(#gCol)"/>
<circle cx="547.5" cy="1033.25" r="11.6" fill="url(#gCol)"/>
<circle cx="577.5" cy="1033.25" r="11.6" fill="#ddd3b8"/>
<path d="M581.91 1034.32h1.5v1.5h-1.5zM585.1 1038.68h1.5v1.5h-1.5zM581.48 1030.36h1.5v1.5h-1.5zM579.33 1027.25h1.5v1.5h-1.5zM573.31 1023.91h1.5v1.5h-1.5zM570.45 1026.36h1.5v1.5h-1.5zM576.71 1034.03h1.5v1.5h-1.5zM569.08 1032.63h1.5v1.5h-1.5zM580.24 1039.55h1.5v1.5h-1.5zM576.76 1034.9h1.5v1.5h-1.5zM574.91 1039.56h1.5v1.5h-1.5zM568.36 1034.63h1.5v1.5h-1.5zM568.7 1039.72h1.5v1.5h-1.5zM581.74 1023.54h1.5v1.5h-1.5zM574.33 1024.81h1.5v1.5h-1.5zM567.91 1031h1.5v1.5h-1.5zM571.97 1039.7h1.5v1.5h-1.5zM574.08 1026.06h1.5v1.5h-1.5zM576.85 1036.25h1.5v1.5h-1.5zM583.11 1036.68h1.5v1.5h-1.5zM569.09 1028.6h1.5v1.5h-1.5zM576.15 1027.3h1.5v1.5h-1.5zM582.71 1030.76h1.5v1.5h-1.5zM576.87 1030.36h1.5v1.5h-1.5zM577.69 1024.23h1.5v1.5h-1.5zM587.56 1030.46h1.5v1.5h-1.5zM573.65 1023.92h1.5v1.5h-1.5zM576.88 1024.66h1.5v1.5h-1.5zM579.53 1040.91h1.5v1.5h-1.5zM581.78 1029.98h1.5v1.5h-1.5zM585.52 1031.96h1.5v1.5h-1.5zM577.03 1033.62h1.5v1.5h-1.5zM573.91 1036.21h1.5v1.5h-1.5zM571.52 1024.68h1.5v1.5h-1.5zM584.79 1028.63h1.5v1.5h-1.5zM574.75 1035.63h1.5v1.5h-1.5zM574.42 1025.65h1.5v1.5h-1.5zM576.04 1026.67h1.5v1.5h-1.5zM581.35 1029.93h1.5v1.5h-1.5zM575.55 1038.61h1.5v1.5h-1.5zM569.99 1026h1.5v1.5h-1.5zM581.85 1040.86h1.5v1.5h-1.5zM578.04 1028.05h1.5v1.5h-1.5zM585.16 1036.43h1.5v1.5h-1.5zM582.49 1024.21h1.5v1.5h-1.5zM576.52 1026.2h1.5v1.5h-1.5zM570.35 1036.87h1.5v1.5h-1.5zM582.51 1029.83h1.5v1.5h-1.5zM575.85 1041.66h1.5v1.5h-1.5zM582.16 1032.25h1.5v1.5h-1.5zM581.18 1033.96h1.5v1.5h-1.5zM569.59 1029.97h1.5v1.5h-1.5zM579.44 1037.65h1.5v1.5h-1.5zM570.16 1028.29h1.5v1.5h-1.5zM574.05 1024.5h1.5v1.5h-1.5zM584.61 1036.14h1.5v1.5h-1.5zM582.97 1023.96h1.5v1.5h-1.5zM573.26 1042.49h1.5v1.5h-1.5zM571.01 1024.86h1.5v1.5h-1.5zM578.71 1042.37h1.5v1.5h-1.5zM581.6 1026.84h1.5v1.5h-1.5zM581.41 1036.12h1.5v1.5h-1.5zM579.36 1036.05h1.5v1.5h-1.5zM582.5 1040.31h1.5v1.5h-1.5zM585.09 1039.13h1.5v1.5h-1.5zM576.64 1023.33h1.5v1.5h-1.5zM580.58 1024.47h1.5v1.5h-1.5zM587.08 1028.3h1.5v1.5h-1.5zM569.85 1025.59h1.5v1.5h-1.5zM580.32 1035.39h1.5v1.5h-1.5z" fill="#f0e8d2"/>
<path d="M581.86 1035.12h1.1v1.1h-1.1zM572.52 1038.27h1.1v1.1h-1.1zM573.69 1025.1h1.1v1.1h-1.1zM583.23 1036.58h1.1v1.1h-1.1zM571.34 1031.53h1.1v1.1h-1.1zM583.47 1038.68h1.1v1.1h-1.1zM571.42 1039.38h1.1v1.1h-1.1zM567.26 1033.54h1.1v1.1h-1.1zM580.14 1032.3h1.1v1.1h-1.1zM578.04 1024.4h1.1v1.1h-1.1zM576.48 1036.67h1.1v1.1h-1.1zM571.34 1034.07h1.1v1.1h-1.1zM576.7 1023.28h1.1v1.1h-1.1zM573.35 1037.05h1.1v1.1h-1.1zM568.79 1033.32h1.1v1.1h-1.1zM579.42 1025.57h1.1v1.1h-1.1zM575.77 1039.06h1.1v1.1h-1.1zM581.84 1027.11h1.1v1.1h-1.1zM583.94 1035.36h1.1v1.1h-1.1zM578.15 1041.75h1.1v1.1h-1.1zM582.37 1035.67h1.1v1.1h-1.1zM583.44 1037.34h1.1v1.1h-1.1zM585.15 1032.51h1.1v1.1h-1.1zM569.88 1039.86h1.1v1.1h-1.1zM582.72 1036.65h1.1v1.1h-1.1z" fill="#b8ae98"/>
<circle cx="608.76" cy="1032.6" r="2" fill="#eee6cc"/>
<circle cx="609.09" cy="1027.35" r="2" fill="#eee6cc"/>
<circle cx="613.41" cy="1033.76" r="2" fill="#eee6cc"/>
<circle cx="602.61" cy="1034.83" r="2" fill="#eee6cc"/>
<circle cx="606.24" cy="1033.01" r="2" fill="#eee6cc"/>
<circle cx="610.41" cy="1042.79" r="2" fill="#eee6cc"/>
<circle cx="602.16" cy="1035.64" r="2" fill="#eee6cc"/>
<circle cx="612.98" cy="1035.91" r="2" fill="#eee6cc"/>
<circle cx="616.34" cy="1030.96" r="2" fill="#eee6cc"/>
<circle cx="606.23" cy="1033.14" r="2" fill="#eee6cc"/>
<circle cx="601.7" cy="1038.68" r="2" fill="#eee6cc"/>
<circle cx="601.53" cy="1036.28" r="2" fill="#eee6cc"/>
<circle cx="614.97" cy="1028.69" r="2" fill="#eee6cc"/>
<circle cx="607.27" cy="1031.84" r="2" fill="#eee6cc"/>
<circle cx="617.05" cy="1034.54" r="2" fill="#eee6cc"/>
<circle cx="600.62" cy="1038.03" r="2" fill="#eee6cc"/>
<circle cx="612.82" cy="1024.86" r="2" fill="#eee6cc"/>
<circle cx="601.38" cy="1040.06" r="2" fill="#eee6cc"/>
<circle cx="608.86" cy="1023.95" r="2" fill="#eee6cc"/>
<circle cx="613.7" cy="1040.24" r="2" fill="#eee6cc"/>
<circle cx="599.92" cy="1037.82" r="2" fill="#eee6cc"/>
<circle cx="613.09" cy="1033.08" r="2" fill="#eee6cc"/>
<circle cx="603.98" cy="1035.68" r="2" fill="#eee6cc"/>
<circle cx="603.32" cy="1034.24" r="2" fill="#eee6cc"/>
<circle cx="606.77" cy="1030.25" r="2" fill="#eee6cc"/>
<circle cx="611.74" cy="1039.08" r="2" fill="#eee6cc"/>
<circle cx="613.94" cy="1035.98" r="2" fill="#eee6cc"/>
<circle cx="615.91" cy="1027.67" r="2" fill="#eee6cc"/>
<circle cx="608.94" cy="1034.52" r="2" fill="#eee6cc"/>
<circle cx="613.06" cy="1024.73" r="2" fill="#eee6cc"/>
<circle cx="605.54" cy="1031.13" r="2" fill="#eee6cc"/>
<circle cx="609.3" cy="1042.67" r="2" fill="#eee6cc"/>
<circle cx="610.11" cy="1032.58" r="2" fill="#eee6cc"/>
<circle cx="611.07" cy="1039.17" r="2" fill="#eee6cc"/>
<circle cx="607.6" cy="1041.76" r="2" fill="#eee6cc"/>
<circle cx="602.44" cy="1039.47" r="2" fill="#eee6cc"/>
<circle cx="612.6" cy="1039.04" r="2" fill="#eee6cc"/>
<circle cx="616.66" cy="1031.95" r="2" fill="#eee6cc"/>
<circle cx="611.27" cy="1035.01" r="2" fill="#eee6cc"/>
<circle cx="604.75" cy="1028.51" r="2" fill="#eee6cc"/>
<circle cx="603.88" cy="1038.26" r="2" fill="#eee6cc"/>
<circle cx="600.06" cy="1028.49" r="2" fill="#eee6cc"/>
<circle cx="608.92" cy="1040.67" r="2" fill="#eee6cc"/>
<circle cx="607.9" cy="1040.51" r="2" fill="#eee6cc"/>
<circle cx="608.08" cy="1029.67" r="2" fill="#eee6cc"/>
<circle cx="600.27" cy="1034.23" r="2" fill="#eee6cc"/>
<circle cx="517" cy="1076.25" r="11.6" fill="url(#gCol)"/>
<circle cx="547.5" cy="1076.25" r="11.6" fill="url(#gCol)"/>
<circle cx="577.5" cy="1076.25" r="11.6" fill="#ddd3b8"/>
<path d="M587.16 1076.74h1.5v1.5h-1.5zM570.67 1080.07h1.5v1.5h-1.5zM569.96 1069.97h1.5v1.5h-1.5zM584.82 1078.94h1.5v1.5h-1.5zM584.15 1077.88h1.5v1.5h-1.5zM576.59 1077.58h1.5v1.5h-1.5zM575.32 1083.31h1.5v1.5h-1.5zM571.54 1067.49h1.5v1.5h-1.5zM571.99 1082.08h1.5v1.5h-1.5zM575.05 1065.87h1.5v1.5h-1.5zM587.91 1072.84h1.5v1.5h-1.5zM576.06 1080.51h1.5v1.5h-1.5zM580.29 1074.98h1.5v1.5h-1.5zM568.53 1079.24h1.5v1.5h-1.5zM570.74 1075.02h1.5v1.5h-1.5zM582.86 1073.5h1.5v1.5h-1.5zM567.99 1073.05h1.5v1.5h-1.5zM581.72 1081.23h1.5v1.5h-1.5zM569.22 1076.55h1.5v1.5h-1.5zM579.47 1083.41h1.5v1.5h-1.5zM580.54 1077.45h1.5v1.5h-1.5zM575.21 1079.75h1.5v1.5h-1.5zM583.04 1075.1h1.5v1.5h-1.5zM575.93 1085.88h1.5v1.5h-1.5zM577.19 1070.62h1.5v1.5h-1.5zM581.66 1068.59h1.5v1.5h-1.5zM570.82 1081.88h1.5v1.5h-1.5zM577.65 1081.9h1.5v1.5h-1.5zM582.71 1071.14h1.5v1.5h-1.5zM581.2 1073.46h1.5v1.5h-1.5zM579.13 1078.16h1.5v1.5h-1.5zM576.97 1068.01h1.5v1.5h-1.5zM579.79 1076.39h1.5v1.5h-1.5zM580.98 1069.32h1.5v1.5h-1.5zM579.02 1074.66h1.5v1.5h-1.5zM574.3 1074.25h1.5v1.5h-1.5zM575.94 1067.78h1.5v1.5h-1.5zM573.55 1072.89h1.5v1.5h-1.5zM580.98 1075.09h1.5v1.5h-1.5zM585.89 1079.82h1.5v1.5h-1.5zM579.88 1077.82h1.5v1.5h-1.5zM568.9 1078.44h1.5v1.5h-1.5zM584.79 1070.38h1.5v1.5h-1.5zM585.51 1079.98h1.5v1.5h-1.5zM579.62 1073.07h1.5v1.5h-1.5zM577.66 1070.65h1.5v1.5h-1.5zM577.37 1076.66h1.5v1.5h-1.5zM577.91 1068.35h1.5v1.5h-1.5zM583.64 1071.9h1.5v1.5h-1.5zM580.37 1080.5h1.5v1.5h-1.5zM576.6 1086.94h1.5v1.5h-1.5zM578.41 1079.39h1.5v1.5h-1.5zM575.64 1078.73h1.5v1.5h-1.5zM569.75 1080.19h1.5v1.5h-1.5zM574.81 1072.51h1.5v1.5h-1.5zM582.47 1082.16h1.5v1.5h-1.5zM574.67 1069.45h1.5v1.5h-1.5zM568.07 1071.57h1.5v1.5h-1.5zM580.99 1080.76h1.5v1.5h-1.5zM569.44 1076.57h1.5v1.5h-1.5zM584.15 1071.43h1.5v1.5h-1.5zM573.76 1070.17h1.5v1.5h-1.5zM579.65 1066.41h1.5v1.5h-1.5zM576.52 1079.73h1.5v1.5h-1.5zM577.12 1082.83h1.5v1.5h-1.5zM581.86 1072.63h1.5v1.5h-1.5zM571.44 1069.84h1.5v1.5h-1.5zM581.12 1075.23h1.5v1.5h-1.5zM578.3 1069.91h1.5v1.5h-1.5zM584.49 1081.53h1.5v1.5h-1.5z" fill="#f0e8d2"/>
<path d="M581.95 1069.64h1.1v1.1h-1.1zM587.29 1079.42h1.1v1.1h-1.1zM571.28 1081.79h1.1v1.1h-1.1zM576.63 1070.99h1.1v1.1h-1.1zM572.48 1079.51h1.1v1.1h-1.1zM579.68 1077.75h1.1v1.1h-1.1zM576.12 1069.71h1.1v1.1h-1.1zM579.29 1074.34h1.1v1.1h-1.1zM576.09 1080.45h1.1v1.1h-1.1zM586.2 1073.02h1.1v1.1h-1.1zM583.41 1071.75h1.1v1.1h-1.1zM582.84 1080.35h1.1v1.1h-1.1zM577.76 1077.94h1.1v1.1h-1.1zM572.34 1074.02h1.1v1.1h-1.1zM583.32 1080.93h1.1v1.1h-1.1zM586.77 1072.11h1.1v1.1h-1.1zM574.23 1076.96h1.1v1.1h-1.1zM577.91 1072.74h1.1v1.1h-1.1zM574.56 1075.55h1.1v1.1h-1.1zM585.17 1075.63h1.1v1.1h-1.1zM572.47 1078.34h1.1v1.1h-1.1zM567.72 1073.01h1.1v1.1h-1.1zM573.21 1078.34h1.1v1.1h-1.1zM567.54 1075.33h1.1v1.1h-1.1zM571.38 1081.87h1.1v1.1h-1.1z" fill="#b8ae98"/>
<circle cx="613.41" cy="1073.5" r="2" fill="#eee6cc"/>
<circle cx="611.18" cy="1069.6" r="2" fill="#eee6cc"/>
<circle cx="609.96" cy="1078" r="2" fill="#eee6cc"/>
<circle cx="614.74" cy="1073.73" r="2" fill="#eee6cc"/>
<circle cx="599.65" cy="1079.55" r="2" fill="#eee6cc"/>
<circle cx="602.27" cy="1073.12" r="2" fill="#eee6cc"/>
<circle cx="606.69" cy="1084.56" r="2" fill="#eee6cc"/>
<circle cx="608.24" cy="1083.01" r="2" fill="#eee6cc"/>
<circle cx="608.91" cy="1068.59" r="2" fill="#eee6cc"/>
<circle cx="611.45" cy="1079.57" r="2" fill="#eee6cc"/>
<circle cx="605.65" cy="1068.33" r="2" fill="#eee6cc"/>
<circle cx="616.37" cy="1082.17" r="2" fill="#eee6cc"/>
<circle cx="611.2" cy="1079.25" r="2" fill="#eee6cc"/>
<circle cx="614.07" cy="1079.77" r="2" fill="#eee6cc"/>
<circle cx="601.83" cy="1070.02" r="2" fill="#eee6cc"/>
<circle cx="612.78" cy="1083.3" r="2" fill="#eee6cc"/>
<circle cx="614.43" cy="1080.86" r="2" fill="#eee6cc"/>
<circle cx="608.43" cy="1082.13" r="2" fill="#eee6cc"/>
<circle cx="616.42" cy="1078.96" r="2" fill="#eee6cc"/>
<circle cx="614.7" cy="1082.24" r="2" fill="#eee6cc"/>
<circle cx="604.58" cy="1082.74" r="2" fill="#eee6cc"/>
<circle cx="604.08" cy="1070.96" r="2" fill="#eee6cc"/>
<circle cx="615.13" cy="1069.51" r="2" fill="#eee6cc"/>
<circle cx="607.36" cy="1081.83" r="2" fill="#eee6cc"/>
<circle cx="611.07" cy="1073.74" r="2" fill="#eee6cc"/>
<circle cx="602.94" cy="1079.31" r="2" fill="#eee6cc"/>
<circle cx="611.99" cy="1075.73" r="2" fill="#eee6cc"/>
<circle cx="603.68" cy="1069.15" r="2" fill="#eee6cc"/>
<circle cx="608.46" cy="1075.93" r="2" fill="#eee6cc"/>
<circle cx="613.67" cy="1074.34" r="2" fill="#eee6cc"/>
<circle cx="613.34" cy="1069.85" r="2" fill="#eee6cc"/>
<circle cx="600.57" cy="1080.56" r="2" fill="#eee6cc"/>
<circle cx="605.91" cy="1071.12" r="2" fill="#eee6cc"/>
<circle cx="607.7" cy="1069.29" r="2" fill="#eee6cc"/>
<circle cx="606.65" cy="1068.75" r="2" fill="#eee6cc"/>
<circle cx="609.62" cy="1072.48" r="2" fill="#eee6cc"/>
<circle cx="608.16" cy="1076.26" r="2" fill="#eee6cc"/>
<circle cx="610.7" cy="1067.87" r="2" fill="#eee6cc"/>
<circle cx="609.57" cy="1074.5" r="2" fill="#eee6cc"/>
<circle cx="601.85" cy="1074.75" r="2" fill="#eee6cc"/>
<circle cx="611.74" cy="1079.28" r="2" fill="#eee6cc"/>
<circle cx="617.49" cy="1074.79" r="2" fill="#eee6cc"/>
<circle cx="609.17" cy="1085.2" r="2" fill="#eee6cc"/>
<circle cx="604.93" cy="1071.28" r="2" fill="#eee6cc"/>
<circle cx="605.6" cy="1072.53" r="2" fill="#eee6cc"/>
<circle cx="608.35" cy="1077.23" r="2" fill="#eee6cc"/>
<circle cx="637.65" cy="1068.96" r="1.5" fill="#e8e0c4"/>
<circle cx="642.15" cy="1067.89" r="1.5" fill="#e8e0c4"/>
<circle cx="635.88" cy="1079.12" r="1.5" fill="#e8e0c4"/>
<circle cx="641.8" cy="1068.64" r="1.5" fill="#e8e0c4"/>
<circle cx="634.66" cy="1070.8" r="1.5" fill="#e8e0c4"/>
<circle cx="633.82" cy="1079.41" r="1.5" fill="#e8e0c4"/>
<circle cx="648.89" cy="1078.85" r="1.5" fill="#e8e0c4"/>
<circle cx="645.72" cy="1071.22" r="1.5" fill="#e8e0c4"/>
<circle cx="646.28" cy="1077.66" r="1.5" fill="#e8e0c4"/>
<circle cx="643.06" cy="1070.73" r="1.5" fill="#e8e0c4"/>
<circle cx="634.76" cy="1078.34" r="1.5" fill="#e8e0c4"/>
<circle cx="645.18" cy="1068.48" r="1.5" fill="#e8e0c4"/>
<circle cx="638.23" cy="1075.66" r="1.5" fill="#e8e0c4"/>
<circle cx="645.19" cy="1067.05" r="1.5" fill="#e8e0c4"/>
<circle cx="635.46" cy="1069.34" r="1.5" fill="#e8e0c4"/>
<circle cx="635.44" cy="1070.1" r="1.5" fill="#e8e0c4"/>
<circle cx="647.79" cy="1069.06" r="1.5" fill="#e8e0c4"/>
<circle cx="652.48" cy="1077.53" r="1.5" fill="#e8e0c4"/>
<circle cx="648.93" cy="1075.82" r="1.5" fill="#e8e0c4"/>
<circle cx="649.3" cy="1079.25" r="1.5" fill="#e8e0c4"/>
<text x="504.5" y="911.3" class="b123">10<tspan font-size="8px" dy="-4.8">-1</tspan></text>
<text x="535" y="911.3" class="b123">10<tspan font-size="8px" dy="-4.8">-2</tspan></text>
<text x="567" y="911.3" class="b123">10<tspan font-size="8px" dy="-4.8">-3</tspan></text>
<text x="600" y="911.3" class="b123">10<tspan font-size="8px" dy="-4.8">-4</tspan></text>
<text x="630" y="911.3" class="b123">10<tspan font-size="8px" dy="-4.8">-1</tspan></text>
<text x="658.75" y="911.3" class="b123">10<tspan font-size="8px" dy="-4.8">-2</tspan></text>
<text x="691.25" y="911.3" class="b123">10<tspan font-size="8px" dy="-4.8">-3</tspan></text>
<text x="724.5" y="911.3" class="b123">10<tspan font-size="8px" dy="-4.8">-4</tspan></text>
<text x="489" y="955" class="b123" text-anchor="end">AN1pB</text>
<text x="490" y="996" class="b123" text-anchor="end">AN1pB+AN2</text>
<text x="489.5" y="1043.8" class="b123" text-anchor="end">AN1pB-d</text>
<text x="491" y="1083.3" class="b123" text-anchor="end">AN1pB-d+AN2</text>
<text x="543" y="1113" class="b135">SD/-Leu</text>
<text x="637" y="1112.5" class="b14">SD/-Leu/300AbA</text>
</svg></body></html>
